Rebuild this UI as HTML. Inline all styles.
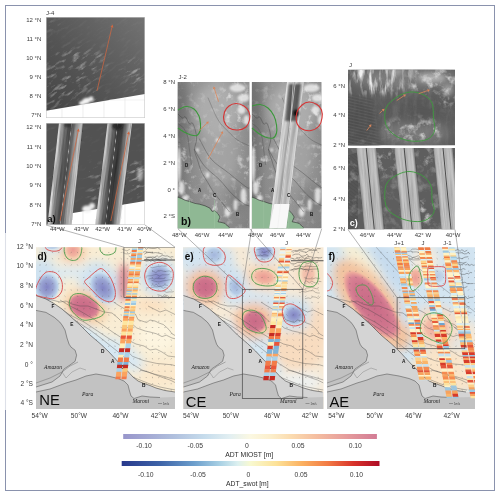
<!DOCTYPE html>
<html><head><meta charset="utf-8"><style>
html,body{margin:0;padding:0;background:#fff;overflow:hidden;}
svg{display:block;font-family:"Liberation Sans", sans-serif;will-change:transform;}
</style></head><body>
<svg width="500" height="497" viewBox="0 0 500 497">
<defs><filter id="clA" x="0" y="0" width="1" height="1" color-interpolation-filters="sRGB"><feTurbulence type="fractalNoise" baseFrequency="0.10 0.35" numOctaves="4" seed="5"/><feColorMatrix type="matrix" values="0 0 0 0 1  0 0 0 0 1  0 0 0 0 1  2.80 0 0 0 -1.40"/></filter>
<filter id="clA2" x="0" y="0" width="1" height="1" color-interpolation-filters="sRGB"><feTurbulence type="fractalNoise" baseFrequency="0.09 0.3" numOctaves="4" seed="8"/><feColorMatrix type="matrix" values="0 0 0 0 1  0 0 0 0 1  0 0 0 0 1  2.60 0 0 0 -1.40"/></filter>
<filter id="clB" x="0" y="0" width="1" height="1" color-interpolation-filters="sRGB"><feTurbulence type="fractalNoise" baseFrequency="0.16" numOctaves="4" seed="3"/><feColorMatrix type="matrix" values="0 0 0 0 1  0 0 0 0 1  0 0 0 0 1  2.60 0 0 0 -1.40"/></filter>
<filter id="clB2" x="0" y="0" width="1" height="1" color-interpolation-filters="sRGB"><feTurbulence type="fractalNoise" baseFrequency="0.08" numOctaves="4" seed="13"/><feColorMatrix type="matrix" values="0 0 0 0 1  0 0 0 0 1  0 0 0 0 1  2.00 0 0 0 -1.10"/></filter>
<filter id="clC" x="0" y="0" width="1" height="1" color-interpolation-filters="sRGB"><feTurbulence type="fractalNoise" baseFrequency="0.12" numOctaves="4" seed="21"/><feColorMatrix type="matrix" values="0 0 0 0 1  0 0 0 0 1  0 0 0 0 1  2.60 0 0 0 -1.25"/></filter>
<filter id="clCv" x="0" y="0" width="1" height="1" color-interpolation-filters="sRGB"><feTurbulence type="fractalNoise" baseFrequency="0.22 0.05" numOctaves="4" seed="17"/><feColorMatrix type="matrix" values="0 0 0 0 1  0 0 0 0 1  0 0 0 0 1  2.60 0 0 0 -1.15"/></filter>
<filter id="clDark" x="0" y="0" width="1" height="1" color-interpolation-filters="sRGB"><feTurbulence type="fractalNoise" baseFrequency="0.06" numOctaves="4" seed="4"/><feColorMatrix type="matrix" values="0 0 0 0 0  0 0 0 0 0  0 0 0 0 0  2.00 0 0 0 -1.00"/></filter>
<filter id="streak" x="0" y="0" width="1" height="1" color-interpolation-filters="sRGB"><feTurbulence type="fractalNoise" baseFrequency="0.9 0.03" numOctaves="2" seed="2"/><feColorMatrix type="matrix" values="0 0 0 0 0  0 0 0 0 0  0 0 0 0 0  1.2 0 0 0 -0.45"/></filter>
<filter id="streakW" x="0" y="0" width="1" height="1" color-interpolation-filters="sRGB"><feTurbulence type="fractalNoise" baseFrequency="0.9 0.03" numOctaves="2" seed="6"/><feColorMatrix type="matrix" values="0 0 0 0 1  0 0 0 0 1  0 0 0 0 1  1.2 0 0 0 -0.5"/></filter>
<filter id="b1s" x="-20%" y="-5%" width="140%" height="110%"><feGaussianBlur stdDeviation="0.35"/></filter>
<filter id="b1" x="-50%" y="-50%" width="200%" height="200%"><feGaussianBlur stdDeviation="0.8"/></filter>
<filter id="b2" x="-50%" y="-50%" width="200%" height="200%"><feGaussianBlur stdDeviation="1.5"/></filter>
<filter id="b3" x="-50%" y="-50%" width="200%" height="200%"><feGaussianBlur stdDeviation="2.5"/></filter>
<filter id="b4" x="-50%" y="-50%" width="200%" height="200%"><feGaussianBlur stdDeviation="3.5"/></filter>
<filter id="b6" x="-50%" y="-50%" width="200%" height="200%"><feGaussianBlur stdDeviation="5.0"/></filter>

<linearGradient id="cb1" x1="0" x2="1" y1="0" y2="0">
 <stop offset="0" stop-color="#9896cb"/><stop offset="0.1" stop-color="#a4aad4"/><stop offset="0.2" stop-color="#b0c0de"/><stop offset="0.32" stop-color="#c6dcec"/>
 <stop offset="0.42" stop-color="#e2eff2"/><stop offset="0.5" stop-color="#fbf8e2"/><stop offset="0.58" stop-color="#fcefcc"/><stop offset="0.66" stop-color="#fbdcb0"/>
 <stop offset="0.76" stop-color="#f5bea0"/><stop offset="0.88" stop-color="#e69c9c"/><stop offset="1" stop-color="#d27c95"/>
</linearGradient>
<linearGradient id="cb2" x1="0" x2="1" y1="0" y2="0">
 <stop offset="0" stop-color="#28398c"/><stop offset="0.15" stop-color="#3e64a8"/><stop offset="0.28" stop-color="#6c9ecc"/><stop offset="0.38" stop-color="#a8d0e4"/>
 <stop offset="0.45" stop-color="#dcf0f0"/><stop offset="0.5" stop-color="#f8f9d0"/><stop offset="0.6" stop-color="#fde298"/><stop offset="0.7" stop-color="#fbb060"/>
 <stop offset="0.8" stop-color="#f27a44"/><stop offset="0.9" stop-color="#d8322a"/><stop offset="1" stop-color="#ae0c26"/>
</linearGradient>
<linearGradient id="satA1" x1="0" y1="1" x2="1" y2="0">
 <stop offset="0" stop-color="#444"/><stop offset="0.45" stop-color="#555"/><stop offset="1" stop-color="#737373"/>
</linearGradient>
<linearGradient id="swathA" x1="0" x2="1" y1="0" y2="0">
 <stop offset="0" stop-color="#e2e2e2"/><stop offset="0.07" stop-color="#cfcfcf"/><stop offset="0.16" stop-color="#989898"/>
 <stop offset="0.3" stop-color="#6a6a6a"/><stop offset="0.45" stop-color="#565656"/><stop offset="0.515" stop-color="#5a5a5a"/><stop offset="0.53" stop-color="#a8a8a8"/><stop offset="0.545" stop-color="#5c5c5c"/>
 <stop offset="0.64" stop-color="#6e6e6e"/><stop offset="0.76" stop-color="#a4a4a4"/><stop offset="0.88" stop-color="#c0c0c0"/><stop offset="0.96" stop-color="#cdcdcd"/><stop offset="1" stop-color="#bcbcbc"/>
</linearGradient>
<linearGradient id="swathA2" x1="0" x2="1" y1="0" y2="0">
 <stop offset="0" stop-color="#d8d8d8"/><stop offset="0.07" stop-color="#c4c4c4"/><stop offset="0.18" stop-color="#8a8a8a"/>
 <stop offset="0.32" stop-color="#5a5a5a"/><stop offset="0.4" stop-color="#4e4e4e"/><stop offset="0.415" stop-color="#b8b8b8"/><stop offset="0.43" stop-color="#4a4a4a"/>
 <stop offset="0.55" stop-color="#3a3a3a"/><stop offset="0.66" stop-color="#4a4a4a"/><stop offset="0.8" stop-color="#8c8c8c"/><stop offset="0.92" stop-color="#c4c4c4"/><stop offset="1" stop-color="#d2d2d2"/>
</linearGradient>
<linearGradient id="satB" x1="0" x2="1" y1="0" y2="0">
 <stop offset="0" stop-color="#6e6e6e"/><stop offset="0.2" stop-color="#8a8a8a"/><stop offset="0.55" stop-color="#9a9a9a"/><stop offset="1" stop-color="#8a8a8a"/>
</linearGradient>
<linearGradient id="satBv" x1="0" x2="0" y1="0" y2="1">
 <stop offset="0" stop-color="#fff" stop-opacity="0.06"/><stop offset="0.5" stop-color="#fff" stop-opacity="0"/><stop offset="1" stop-color="#000" stop-opacity="0.08"/>
</linearGradient>
<linearGradient id="swathB" x1="0" x2="1" y1="0" y2="0">
 <stop offset="0" stop-color="#f0f0f0"/><stop offset="0.3" stop-color="#c4c4c4"/><stop offset="0.5" stop-color="#9c9c9c"/>
 <stop offset="0.56" stop-color="#d8d8d8"/><stop offset="0.75" stop-color="#b4b4b4"/><stop offset="1" stop-color="#e4e4e4"/>
</linearGradient>
<linearGradient id="swathC" x1="0" x2="1" y1="0" y2="0">
 <stop offset="0" stop-color="#9a9a9a"/><stop offset="0.12" stop-color="#cacaca"/><stop offset="0.45" stop-color="#bababa"/>
 <stop offset="0.5" stop-color="#505050"/><stop offset="0.55" stop-color="#bababa"/><stop offset="0.88" stop-color="#c6c6c6"/><stop offset="1" stop-color="#8e8e8e"/>
</linearGradient>
<radialGradient id="gBlue"><stop offset="0" stop-color="#8284c4"/><stop offset="0.5" stop-color="#9aa4d2"/><stop offset="0.82" stop-color="#bcd2ea"/><stop offset="1" stop-color="#d2e4f1" stop-opacity="0"/></radialGradient>
<radialGradient id="gBlueL"><stop offset="0" stop-color="#a4b6dc"/><stop offset="0.6" stop-color="#b6cce6"/><stop offset="1" stop-color="#d2e4f1" stop-opacity="0"/></radialGradient>
<radialGradient id="gRed"><stop offset="0" stop-color="#c96a87"/><stop offset="0.55" stop-color="#cf748c"/><stop offset="0.75" stop-color="#d88294"/><stop offset="0.88" stop-color="#eeaa9c"/><stop offset="1" stop-color="#f6d4ae" stop-opacity="0"/></radialGradient>
<radialGradient id="gPink"><stop offset="0" stop-color="#eb9c94"/><stop offset="0.6" stop-color="#f2b6a2"/><stop offset="1" stop-color="#f8dcb8" stop-opacity="0"/></radialGradient>

<clipPath id="cpa1"><rect x="46" y="17" width="99" height="101"/></clipPath>
<mask id="mA1" maskUnits="userSpaceOnUse" x="0" y="0" width="500" height="497"><rect x="40" y="10" width="110" height="115" fill="#1a1a1a"/><g filter="url(#b6)"><polygon points="44,62 70,48 100,50 108,60 85,92 60,108 44,110" fill="#fff"/><ellipse cx="135" cy="74" rx="12" ry="14" fill="#eee"/><ellipse cx="96" cy="96" rx="8" ry="5" fill="#fff"/><ellipse cx="52" cy="26" rx="8" ry="8" fill="#999"/></g></mask>
<clipPath id="cpa2"><rect x="46" y="123" width="99" height="102"/></clipPath>
<mask id="mA2" maskUnits="userSpaceOnUse" x="0" y="0" width="500" height="497"><rect x="40" y="120" width="110" height="110" fill="#111"/><g filter="url(#b4)" fill="#fff"><ellipse cx="138" cy="178" rx="9" ry="20"/><ellipse cx="95" cy="185" rx="8" ry="25" fill="#888"/><ellipse cx="52" cy="140" rx="5" ry="8" fill="#aaa"/></g></mask>
<clipPath id="cpbL"><rect x="177.5" y="82" width="72.2" height="146.5"/></clipPath>
<mask id="mBL" maskUnits="userSpaceOnUse" x="0" y="0" width="500" height="497"><rect x="177.5" y="82" width="72.2" height="147" fill="#555"/><g filter="url(#b6)" fill="#fff"><ellipse cx="235.5" cy="105" rx="14" ry="25"/><ellipse cx="185.5" cy="170" rx="8" ry="30"/><ellipse cx="217.5" cy="205" rx="14" ry="12"/><ellipse cx="245.5" cy="170" rx="6" ry="30"/></g></mask>
<clipPath id="cpbR"><rect x="251.7" y="82" width="70.0" height="146.5"/></clipPath>
<mask id="mBR" maskUnits="userSpaceOnUse" x="0" y="0" width="500" height="497"><rect x="251.7" y="82" width="70.0" height="147" fill="#555"/><g filter="url(#b6)" fill="#fff"><ellipse cx="309.7" cy="105" rx="14" ry="25"/><ellipse cx="259.7" cy="170" rx="8" ry="30"/><ellipse cx="291.7" cy="205" rx="14" ry="12"/><ellipse cx="319.7" cy="170" rx="6" ry="30"/></g></mask>
<clipPath id="cpbsw"><rect x="251.7" y="82" width="70" height="146.5"/></clipPath>
<clipPath id="cpc1"><rect x="348" y="69.5" width="107" height="76"/></clipPath>
<mask id="mC1" maskUnits="userSpaceOnUse" x="0" y="0" width="500" height="497"><rect x="348" y="69" width="108" height="78" fill="#111"/><g filter="url(#b3)" fill="#fff"><rect x="350" y="64" width="55" height="30"/><rect x="395" y="64" width="20" height="22" fill="#999"/></g></mask>
<mask id="mC1b" maskUnits="userSpaceOnUse" x="0" y="0" width="500" height="497"><rect x="348" y="69" width="108" height="78" fill="#111"/><g filter="url(#b4)" fill="#fff"><ellipse cx="432" cy="80" rx="25" ry="14"/><ellipse cx="448" cy="98" rx="8" ry="10"/><ellipse cx="414" cy="130" rx="30" ry="11"/><ellipse cx="365" cy="140" rx="14" ry="6" fill="#888"/></g></mask>
<mask id="mC2" maskUnits="userSpaceOnUse" x="0" y="0" width="500" height="497"><g filter="url(#b2)"><polygon points="346,94 372,99 381,150 346,150" fill="#fff"/></g></mask>
<clipPath id="cpc2"><rect x="348" y="148" width="107" height="81.5"/></clipPath>
<mask id="mC3" maskUnits="userSpaceOnUse" x="0" y="0" width="500" height="497"><rect x="348" y="148" width="108" height="82" fill="#444"/><g filter="url(#b4)" fill="#fff"><ellipse cx="386" cy="162" rx="9" ry="14"/><ellipse cx="424" cy="212" rx="9" ry="16"/><ellipse cx="428" cy="158" rx="8" ry="9"/><ellipse cx="352" cy="185" rx="4" ry="25" fill="#aaa"/></g></mask>
<clipPath id="cd"><rect x="36.0" y="247.2" width="139.0" height="161.8"/></clipPath>
<clipPath id="ce"><rect x="183.0" y="247.2" width="140.5" height="161.8"/></clipPath>
<clipPath id="cf"><rect x="327.0" y="247.2" width="148.0" height="161.8"/></clipPath></defs>
<rect x="0.0" y="0.0" width="500.0" height="497.0" fill="#fff" />
<g clip-path="url(#cpa1)">
<rect x="46.0" y="17.0" width="99.0" height="101.0" fill="url(#satA1)" />
<g mask="url(#mA1)"><g transform="rotate(-33 95 67)" opacity="0.45"><rect x="5" y="-30" width="180" height="200" filter="url(#clA)"/></g></g>
<polygon points="46.0,110.7 145.0,94.0 145.0,118.0 46.0,118.0" fill="#fff" />
<g filter="url(#b1)" fill="#f4f4f4"><ellipse cx="86.0" cy="101.0" rx="4.0" ry="3.0" transform="rotate(-20.0 86.0 101.0)" fill="#f4f4f4" /><ellipse cx="91.0" cy="99.0" rx="2.5" ry="2.5" transform="rotate(0.0 91.0 99.0)" fill="#eee" /><ellipse cx="82.0" cy="103.0" rx="3.0" ry="2.0" transform="rotate(0.0 82.0 103.0)" fill="#f4f4f4" /></g>
<line x1="62.0" y1="108.0" x2="62.0" y2="118.0" stroke="#e2e2e2" stroke-width="0.60" />
<line x1="83.0" y1="104.5" x2="83.0" y2="118.0" stroke="#e2e2e2" stroke-width="0.60" />
<line x1="104.0" y1="100.9" x2="104.0" y2="118.0" stroke="#e2e2e2" stroke-width="0.60" />
<line x1="125.0" y1="97.4" x2="125.0" y2="118.0" stroke="#e2e2e2" stroke-width="0.60" />
<line x1="109.4" y1="100.0" x2="145.0" y2="100.0" stroke="#e6e6e6" stroke-width="0.50" />
<rect x="46.3" y="17.3" width="98.4" height="100.4" fill="none" stroke="#c8c8c8" stroke-width="0.6"/>
</g>
<line x1="97.0" y1="90.8" x2="111.9" y2="27.3" stroke="#cf6741" stroke-width="0.75" /><polygon points="112.6,24.4 113.4,27.7 110.5,27.0" fill="#cf6741" />
<g clip-path="url(#cpa2)">
<rect x="46.0" y="123.0" width="99.0" height="102.0" fill="#525252" />
<g mask="url(#mA2)"><g transform="rotate(-25 95 175)" opacity="0.7"><rect x="20" y="100" width="150" height="150" filter="url(#clA2)"/></g></g>
<polygon points="70.0,213.5 145.0,201.0 145.0,226.0 70.0,226.0" fill="#fff" />
<g filter="url(#b1)"><ellipse cx="87.0" cy="209.0" rx="5.0" ry="3.5" transform="rotate(0.0 87.0 209.0)" fill="#f0f0f0" /><ellipse cx="92.0" cy="206.0" rx="3.0" ry="3.0" transform="rotate(0.0 92.0 206.0)" fill="#e8e8e8" /><ellipse cx="140.0" cy="175.0" rx="3.0" ry="6.0" transform="rotate(0.0 140.0 175.0)" fill="#d8d8d8" opacity="0.6"/></g>
<line x1="83.0" y1="211.3" x2="83.0" y2="225.0" stroke="#e2e2e2" stroke-width="0.60" />
<line x1="104.0" y1="207.8" x2="104.0" y2="225.0" stroke="#e2e2e2" stroke-width="0.60" />
<line x1="125.0" y1="204.3" x2="125.0" y2="225.0" stroke="#e2e2e2" stroke-width="0.60" />
<rect x="0" y="0" width="24.00" height="102.00" fill="url(#swathA)" transform="translate(59.00 123.00) skewX(-6.447)" />
<g transform="translate(59.00 123.00) skewX(-6.447)"><rect x="0" y="0" width="24.0" height="102" filter="url(#streak)" opacity="0.45"/></g>
<rect x="0" y="0" width="24.50" height="102.00" fill="url(#swathA2)" transform="translate(107.50 123.00) skewX(-6.843)" />
<g transform="translate(107.50 123.00) skewX(-6.843)"><rect x="0" y="0" width="24.5" height="102" filter="url(#streak)" opacity="0.45"/></g>
<g filter="url(#b1)"><ellipse cx="117.0" cy="126.0" rx="5.0" ry="3.5" transform="rotate(0.0 117.0 126.0)" fill="#1e1e1e" opacity="0.8"/><ellipse cx="68.0" cy="125.0" rx="4.0" ry="2.5" transform="rotate(0.0 68.0 125.0)" fill="#2a2a2a" opacity="0.7"/></g>
<rect x="46.3" y="123.3" width="98.4" height="101.4" fill="none" stroke="#c8c8c8" stroke-width="0.6"/>
</g>
<line x1="60.0" y1="221.0" x2="78.1" y2="131.5" stroke="#cf6741" stroke-width="0.75" /><polygon points="78.7,128.6 79.6,131.8 76.6,131.2" fill="#cf6741" />
<line x1="110.8" y1="221.0" x2="128.4" y2="134.2" stroke="#cf6741" stroke-width="0.75" /><polygon points="129.0,131.3 129.9,134.5 126.9,133.9" fill="#cf6741" />
<text x="47.3" y="222.3" font-size="9.5" text-anchor="start" fill="#0a0a0a" font-weight="bold" >a)</text>
<g clip-path="url(#cpbL)">
<rect x="177.5" y="82.0" width="72.2" height="146.5" fill="url(#satB)" />
<rect x="177.5" y="82.0" width="72.2" height="146.5" fill="url(#satBv)" />
<g filter="url(#b6)"><ellipse cx="219.5" cy="150.0" rx="20.0" ry="35.0" transform="rotate(0.0 219.5 150.0)" fill="#a8a8a8" opacity="0.7"/><ellipse cx="217.5" cy="110.0" rx="24.0" ry="26.0" transform="rotate(0.0 217.5 110.0)" fill="#b2b2b2" opacity="0.8"/><ellipse cx="239.5" cy="200.0" rx="12.0" ry="14.0" transform="rotate(0.0 239.5 200.0)" fill="#7c7c7c" opacity="0.6"/><ellipse cx="181.5" cy="110.0" rx="6.0" ry="30.0" transform="rotate(0.0 181.5 110.0)" fill="#6a6a6a" opacity="0.6"/></g>
<g mask="url(#mBL)"><rect x="177.5" y="82" width="72.2" height="146.5" filter="url(#clB)" opacity="0.8"/></g>
<g filter="url(#b1)" fill="#ececec" opacity="0.85">
<ellipse cx="179.0" cy="165.0" rx="2.0" ry="18.0"/>
<ellipse cx="181.5" cy="188.0" rx="3.0" ry="7.0"/>
<ellipse cx="185.5" cy="198.0" rx="3.0" ry="3.0"/>
<ellipse cx="237.5" cy="88.0" rx="8.0" ry="4.0"/>
<ellipse cx="243.5" cy="98.0" rx="6.0" ry="4.0"/>
<ellipse cx="241.5" cy="110.0" rx="4.0" ry="4.0"/>
<ellipse cx="246.5" cy="120.0" rx="3.0" ry="5.0"/>
<ellipse cx="227.5" cy="212.0" rx="3.0" ry="5.0"/>
<ellipse cx="235.5" cy="205.0" rx="2.0" ry="6.0"/>
<ellipse cx="243.5" cy="196.0" rx="3.0" ry="8.0"/>
<ellipse cx="217.5" cy="140.0" rx="2.0" ry="2.0"/>
<ellipse cx="207.5" cy="175.0" rx="2.0" ry="3.0"/>
<ellipse cx="197.5" cy="150.0" rx="1.5" ry="2.0"/>
</g>
<path d="M194.0,149.0 C195.8,151.8 200.2,160.9 204.5,166.0 C208.8,171.1 215.0,175.1 219.5,179.7 C224.0,184.3 227.5,189.4 231.5,193.4 C235.5,197.4 240.5,201.5 243.5,203.6 C246.5,205.7 248.5,205.6 249.5,206.0 " fill="none" stroke="#333" stroke-width="0.45" opacity="0.75"/>
<path d="M199.3,138.7 C201.3,142.1 206.4,153.5 211.3,159.2 C216.2,164.9 222.8,168.3 228.5,172.9 C234.2,177.5 242.0,184.0 245.5,186.5 C249.0,189.0 248.8,187.8 249.5,188.0 " fill="none" stroke="#333" stroke-width="0.45" opacity="0.75"/>
<path d="M207.9,97.6 C209.6,101.3 214.6,114.1 218.0,119.8 C221.4,125.5 225.2,128.4 228.5,131.8 C231.8,135.2 234.0,137.6 237.5,140.0 C241.0,142.4 247.5,145.0 249.5,146.0 " fill="none" stroke="#333" stroke-width="0.45" opacity="0.6"/>
<path d="M178.0,114.0 C178.8,114.7 181.2,117.5 182.5,118.0 C183.8,118.5 184.3,116.0 185.5,117.0 C186.7,118.0 188.3,123.0 189.5,124.0 C190.7,125.0 191.5,121.8 192.5,123.0 C193.5,124.2 194.8,128.2 195.5,131.0 C196.2,133.8 196.7,136.8 196.5,140.0 C196.3,143.2 194.3,146.7 194.5,150.0 C194.7,153.3 196.3,156.3 197.5,160.0 C198.7,163.7 199.8,168.3 201.5,172.0 C203.2,175.7 205.5,178.7 207.5,182.0 C209.5,185.3 211.2,188.7 213.5,192.0 C215.8,195.3 218.8,198.7 221.5,202.0 C224.2,205.3 228.2,210.3 229.5,212.0 " fill="none" stroke="#333" stroke-width="0.45" opacity="0.75"/>
<path d="M178.5,124.0 C179.3,124.7 182.0,126.0 183.5,128.0 C185.0,130.0 186.5,132.3 187.5,136.0 C188.5,139.7 188.8,145.2 189.5,150.0 C190.2,154.8 191.2,162.5 191.5,165.0 " fill="none" stroke="#333" stroke-width="0.40" opacity="0.6"/>
<polygon points="177.5,197.0 181.5,198.5 185.0,200.2 189.5,201.5 195.0,203.4 199.5,204.2 205.0,205.8 210.0,208.2 212.0,211.4 215.0,210.6 218.0,213.8 220.0,217.0 218.0,221.8 222.0,222.6 225.0,223.4 227.5,226.0 229.5,227.5 229.5,229.0 177.5,229.0" fill="#8fb894" />
<polyline points="177.5,197.0 181.5,198.5 185.0,200.2 189.5,201.5 195.0,203.4 199.5,204.2 205.0,205.8 210.0,208.2 212.0,211.4 215.0,210.6 218.0,213.8 220.0,217.0 218.0,221.8 222.0,222.6 225.0,223.4 227.5,226.0 229.5,227.5" fill="none" stroke="#2a2a2a" stroke-width="0.70" opacity="0.8"/>
<line x1="189.5" y1="200.0" x2="189.5" y2="229.0" stroke="#9fc4a2" stroke-width="0.50" />
<line x1="214.5" y1="200.0" x2="214.5" y2="229.0" stroke="#9fc4a2" stroke-width="0.50" />
</g>
<path d="M178.0,110.0 C179.3,109.4 183.3,106.7 186.0,106.5 C188.7,106.3 191.8,107.4 194.0,109.0 C196.2,110.6 197.9,113.5 199.0,116.0 C200.1,118.5 200.3,121.5 200.5,124.0 C200.7,126.5 200.6,129.1 200.0,131.0 C199.4,132.9 198.5,134.8 197.0,135.5 C195.5,136.2 193.2,135.6 191.0,135.0 C188.8,134.4 186.2,133.2 184.0,132.0 C181.8,130.8 179.0,128.7 178.0,128.0 " fill="none" stroke="#3a983a" stroke-width="1.10" />
<path d="M236.0,103.5 C238.5,103.5 241.8,104.6 244.0,106.0 C246.2,107.4 248.1,109.7 249.0,112.0 C249.9,114.3 250.0,117.5 249.5,120.0 C249.0,122.5 247.9,125.3 246.0,127.0 C244.1,128.7 240.8,129.8 238.0,130.0 C235.2,130.2 231.3,129.5 229.0,128.0 C226.7,126.5 224.8,123.7 224.0,121.0 C223.2,118.3 223.7,114.5 224.5,112.0 C225.3,109.5 227.1,107.4 229.0,106.0 C230.9,104.6 233.5,103.5 236.0,103.5 Z" fill="none" stroke="#d63434" stroke-width="1.10" />
<line x1="218.5" y1="101.7" x2="214.4" y2="88.8" stroke="#d9855a" stroke-width="0.80" /><polygon points="213.6,86.4 215.8,88.3 212.9,89.2" fill="#d9855a" />
<line x1="199.0" y1="130.7" x2="207.0" y2="123.2" stroke="#d9855a" stroke-width="0.80" /><polygon points="208.8,121.5 208.0,124.3 206.0,122.1" fill="#d9855a" />
<line x1="208.0" y1="159.0" x2="221.8" y2="133.4" stroke="#d9855a" stroke-width="0.80" /><polygon points="223.0,131.2 223.1,134.1 220.5,132.7" fill="#d9855a" />
<text x="185.0" y="167.0" font-size="4.5" text-anchor="start" fill="#111" font-weight="bold" >D</text>
<text x="198.0" y="192.0" font-size="4.5" text-anchor="start" fill="#111" font-weight="bold" >A</text>
<text x="213.0" y="197.0" font-size="4.5" text-anchor="start" fill="#111" font-weight="bold" >C</text>
<text x="236.0" y="216.0" font-size="4.5" text-anchor="start" fill="#111" font-weight="bold" >B</text>
<text x="181.0" y="225.0" font-size="10.5" text-anchor="start" fill="#0a0a0a" font-weight="bold" >b)</text>
<g clip-path="url(#cpbR)">
<rect x="251.7" y="82.0" width="70.0" height="146.5" fill="url(#satB)" />
<rect x="251.7" y="82.0" width="70.0" height="146.5" fill="url(#satBv)" />
<g filter="url(#b6)"><ellipse cx="293.7" cy="150.0" rx="20.0" ry="35.0" transform="rotate(0.0 293.7 150.0)" fill="#a8a8a8" opacity="0.7"/><ellipse cx="291.7" cy="110.0" rx="24.0" ry="26.0" transform="rotate(0.0 291.7 110.0)" fill="#b2b2b2" opacity="0.8"/><ellipse cx="313.7" cy="200.0" rx="12.0" ry="14.0" transform="rotate(0.0 313.7 200.0)" fill="#7c7c7c" opacity="0.6"/><ellipse cx="255.7" cy="110.0" rx="6.0" ry="30.0" transform="rotate(0.0 255.7 110.0)" fill="#6a6a6a" opacity="0.6"/></g>
<g mask="url(#mBR)"><rect x="251.7" y="82" width="70.0" height="146.5" filter="url(#clB)" opacity="0.8"/></g>
<g filter="url(#b1)" fill="#ececec" opacity="0.85">
<ellipse cx="253.2" cy="165.0" rx="2.0" ry="18.0"/>
<ellipse cx="255.7" cy="188.0" rx="3.0" ry="7.0"/>
<ellipse cx="259.7" cy="198.0" rx="3.0" ry="3.0"/>
<ellipse cx="311.7" cy="88.0" rx="8.0" ry="4.0"/>
<ellipse cx="317.7" cy="98.0" rx="6.0" ry="4.0"/>
<ellipse cx="315.7" cy="110.0" rx="4.0" ry="4.0"/>
<ellipse cx="320.7" cy="120.0" rx="3.0" ry="5.0"/>
<ellipse cx="301.7" cy="212.0" rx="3.0" ry="5.0"/>
<ellipse cx="309.7" cy="205.0" rx="2.0" ry="6.0"/>
<ellipse cx="317.7" cy="196.0" rx="3.0" ry="8.0"/>
<ellipse cx="291.7" cy="140.0" rx="2.0" ry="2.0"/>
<ellipse cx="281.7" cy="175.0" rx="2.0" ry="3.0"/>
<ellipse cx="271.7" cy="150.0" rx="1.5" ry="2.0"/>
</g>
<path d="M268.2,149.0 C269.9,151.8 274.4,160.9 278.7,166.0 C282.9,171.1 289.2,175.1 293.7,179.7 C298.2,184.3 301.7,189.4 305.7,193.4 C309.7,197.4 314.7,201.5 317.7,203.6 C320.7,205.7 322.7,205.6 323.7,206.0 " fill="none" stroke="#333" stroke-width="0.45" opacity="0.75"/>
<path d="M273.5,138.7 C275.5,142.1 280.6,153.5 285.5,159.2 C290.4,164.9 297.0,168.3 302.7,172.9 C308.4,177.5 316.2,184.0 319.7,186.5 C323.2,189.0 323.0,187.8 323.7,188.0 " fill="none" stroke="#333" stroke-width="0.45" opacity="0.75"/>
<path d="M282.1,97.6 C283.8,101.3 288.8,114.1 292.2,119.8 C295.6,125.5 299.4,128.4 302.7,131.8 C305.9,135.2 308.2,137.6 311.7,140.0 C315.2,142.4 321.7,145.0 323.7,146.0 " fill="none" stroke="#333" stroke-width="0.45" opacity="0.6"/>
<path d="M252.2,114.0 C252.9,114.7 255.4,117.5 256.7,118.0 C257.9,118.5 258.5,116.0 259.7,117.0 C260.9,118.0 262.5,123.0 263.7,124.0 C264.9,125.0 265.7,121.8 266.7,123.0 C267.7,124.2 269.0,128.2 269.7,131.0 C270.4,133.8 270.9,136.8 270.7,140.0 C270.5,143.2 268.5,146.7 268.7,150.0 C268.9,153.3 270.5,156.3 271.7,160.0 C272.9,163.7 274.0,168.3 275.7,172.0 C277.4,175.7 279.7,178.7 281.7,182.0 C283.7,185.3 285.4,188.7 287.7,192.0 C290.0,195.3 293.0,198.7 295.7,202.0 C298.4,205.3 302.4,210.3 303.7,212.0 " fill="none" stroke="#333" stroke-width="0.45" opacity="0.75"/>
<path d="M252.7,124.0 C253.5,124.7 256.2,126.0 257.7,128.0 C259.2,130.0 260.7,132.3 261.7,136.0 C262.7,139.7 263.0,145.2 263.7,150.0 C264.4,154.8 265.4,162.5 265.7,165.0 " fill="none" stroke="#333" stroke-width="0.40" opacity="0.6"/>
<polygon points="251.7,197.0 255.7,198.5 259.2,200.2 263.7,201.5 269.2,203.4 273.7,204.2 279.2,205.8 284.2,208.2 286.2,211.4 289.2,210.6 292.2,213.8 294.2,217.0 292.2,221.8 296.2,222.6 299.2,223.4 301.7,226.0 303.7,227.5 303.7,229.0 251.7,229.0" fill="#8fb894" />
<polyline points="251.7,197.0 255.7,198.5 259.2,200.2 263.7,201.5 269.2,203.4 273.7,204.2 279.2,205.8 284.2,208.2 286.2,211.4 289.2,210.6 292.2,213.8 294.2,217.0 292.2,221.8 296.2,222.6 299.2,223.4 301.7,226.0 303.7,227.5" fill="none" stroke="#2a2a2a" stroke-width="0.70" opacity="0.8"/>
<line x1="263.7" y1="200.0" x2="263.7" y2="229.0" stroke="#9fc4a2" stroke-width="0.50" />
<line x1="288.7" y1="200.0" x2="288.7" y2="229.0" stroke="#9fc4a2" stroke-width="0.50" />
</g>
<g clip-path="url(#cpbsw)">
<rect x="0" y="0" width="16.80" height="146.50" fill="url(#swathB)" transform="translate(287.00 82.00) skewX(-6.899)" />
<g transform="translate(287.00 82.00) skewX(-6.899)"><rect x="0" y="0" width="16.8" height="146.5" filter="url(#streak)" opacity="0.25"/></g>
<g filter="url(#b1)"><polygon points="289.0,84.0 301.0,84.0 297.0,121.0 285.0,121.0" fill="#3a3a3a" opacity="0.75"/><ellipse cx="296.0" cy="113.0" rx="3.0" ry="3.5" transform="rotate(0.0 296.0 113.0)" fill="#111" /></g>
<line x1="293.3" y1="82.0" x2="290.0" y2="128.0" stroke="#dddddd" stroke-width="0.70" />
<polygon points="274.3,204.0 289.6,204.0 286.2,228.5 269.3,228.5" fill="#f8f8f8" />
<line x1="295.3" y1="82.0" x2="277.6" y2="228.5" stroke="#eeeeee" stroke-width="0.60" />
</g>
<path d="M252.0,106.0 C253.3,105.8 257.3,104.2 260.0,104.5 C262.7,104.8 265.7,106.1 268.0,108.0 C270.3,109.9 272.6,113.2 274.0,116.0 C275.4,118.8 276.1,122.2 276.5,125.0 C276.9,127.8 277.1,130.8 276.5,133.0 C275.9,135.2 274.9,137.3 273.0,138.0 C271.1,138.7 267.5,137.8 265.0,137.0 C262.5,136.2 260.2,134.5 258.0,133.0 C255.8,131.5 253.0,128.8 252.0,128.0 " fill="none" stroke="#3a983a" stroke-width="1.10" />
<path d="M309.0,102.0 C311.5,101.9 314.9,103.2 317.0,104.5 C319.1,105.8 320.7,107.8 321.5,110.0 C322.3,112.2 322.4,115.3 322.0,118.0 C321.6,120.7 320.8,123.9 319.0,126.0 C317.2,128.1 313.8,130.0 311.0,130.5 C308.2,131.0 304.4,130.4 302.0,129.0 C299.6,127.6 297.3,124.8 296.5,122.0 C295.7,119.2 296.1,114.8 297.0,112.0 C297.9,109.2 300.0,106.7 302.0,105.0 C304.0,103.3 306.5,102.1 309.0,102.0 Z" fill="none" stroke="#d63434" stroke-width="1.10" />
<text x="259.0" y="167.0" font-size="4.5" text-anchor="start" fill="#111" font-weight="bold" >D</text>
<text x="271.0" y="192.0" font-size="4.5" text-anchor="start" fill="#111" font-weight="bold" >A</text>
<text x="287.0" y="197.0" font-size="4.5" text-anchor="start" fill="#111" font-weight="bold" >C</text>
<text x="310.0" y="216.0" font-size="4.5" text-anchor="start" fill="#111" font-weight="bold" >B</text>
<g clip-path="url(#cpc1)">
<rect x="348.0" y="69.5" width="107.0" height="76.0" fill="#5c5c5c" />
<g filter="url(#b6)"><ellipse cx="405.0" cy="78.0" rx="55.0" ry="12.0" transform="rotate(0.0 405.0 78.0)" fill="#7a7a7a" /><ellipse cx="415.0" cy="133.0" rx="35.0" ry="12.0" transform="rotate(0.0 415.0 133.0)" fill="#767676" /><ellipse cx="420.0" cy="112.0" rx="22.0" ry="12.0" transform="rotate(0.0 420.0 112.0)" fill="#565656" /><ellipse cx="360.0" cy="125.0" rx="16.0" ry="25.0" transform="rotate(0.0 360.0 125.0)" fill="#4e4e4e" /></g>
<g mask="url(#mC1)"><rect x="348" y="69.5" width="107" height="76" filter="url(#clCv)" opacity="0.9"/></g>
<g mask="url(#mC1b)"><rect x="348" y="69.5" width="107" height="76" filter="url(#clC)" opacity="0.85"/></g>
<g filter="url(#b3)" opacity="0.55"><ellipse cx="432.0" cy="78.0" rx="14.0" ry="5.0" transform="rotate(0.0 432.0 78.0)" fill="#d8d8d8" /><ellipse cx="448.0" cy="90.0" rx="5.0" ry="6.0" transform="rotate(0.0 448.0 90.0)" fill="#d0d0d0" /><ellipse cx="395.0" cy="72.0" rx="8.0" ry="3.0" transform="rotate(0.0 395.0 72.0)" fill="#cfcfcf" /></g>
<g mask="url(#mC2)">
<rect x="346.0" y="90.0" width="40.0" height="60.0" fill="#3e3e3e" opacity="0.5"/>
<line x1="348.0" y1="74.5" x2="392.0" y2="69.5" stroke="#9a9a9a" stroke-width="0.50" opacity="0.5"/>
<line x1="348.0" y1="76.0" x2="392.0" y2="71.0" stroke="#9a9a9a" stroke-width="0.50" opacity="0.5"/>
<line x1="348.0" y1="77.5" x2="392.0" y2="72.5" stroke="#9a9a9a" stroke-width="0.50" opacity="0.5"/>
<line x1="348.0" y1="79.0" x2="392.0" y2="74.0" stroke="#9a9a9a" stroke-width="0.50" opacity="0.5"/>
<line x1="348.0" y1="80.5" x2="392.0" y2="75.5" stroke="#9a9a9a" stroke-width="0.50" opacity="0.5"/>
<line x1="348.0" y1="82.0" x2="392.0" y2="77.0" stroke="#9a9a9a" stroke-width="0.50" opacity="0.5"/>
<line x1="348.0" y1="83.5" x2="392.0" y2="78.5" stroke="#9a9a9a" stroke-width="0.50" opacity="0.5"/>
<line x1="348.0" y1="85.0" x2="392.0" y2="80.0" stroke="#9a9a9a" stroke-width="0.50" opacity="0.5"/>
<line x1="348.0" y1="86.5" x2="392.0" y2="81.5" stroke="#9a9a9a" stroke-width="0.50" opacity="0.5"/>
<line x1="348.0" y1="88.0" x2="392.0" y2="83.0" stroke="#9a9a9a" stroke-width="0.50" opacity="0.5"/>
<line x1="348.0" y1="89.5" x2="392.0" y2="84.5" stroke="#9a9a9a" stroke-width="0.50" opacity="0.5"/>
<line x1="348.0" y1="91.0" x2="392.0" y2="86.0" stroke="#9a9a9a" stroke-width="0.50" opacity="0.5"/>
<line x1="348.0" y1="92.5" x2="392.0" y2="87.5" stroke="#9a9a9a" stroke-width="0.50" opacity="0.5"/>
<line x1="348.0" y1="94.0" x2="392.0" y2="89.0" stroke="#9a9a9a" stroke-width="0.50" opacity="0.5"/>
<line x1="348.0" y1="95.5" x2="392.0" y2="90.5" stroke="#9a9a9a" stroke-width="0.50" opacity="0.5"/>
<line x1="348.0" y1="97.0" x2="392.0" y2="92.0" stroke="#9a9a9a" stroke-width="0.50" opacity="0.5"/>
<line x1="348.0" y1="98.5" x2="392.0" y2="93.5" stroke="#9a9a9a" stroke-width="0.50" opacity="0.5"/>
<line x1="348.0" y1="100.0" x2="392.0" y2="95.0" stroke="#9a9a9a" stroke-width="0.50" opacity="0.5"/>
<line x1="348.0" y1="101.5" x2="392.0" y2="96.5" stroke="#9a9a9a" stroke-width="0.50" opacity="0.5"/>
<line x1="348.0" y1="103.0" x2="392.0" y2="98.0" stroke="#9a9a9a" stroke-width="0.50" opacity="0.5"/>
<line x1="348.0" y1="104.5" x2="392.0" y2="99.5" stroke="#9a9a9a" stroke-width="0.50" opacity="0.5"/>
<line x1="348.0" y1="106.0" x2="392.0" y2="101.0" stroke="#9a9a9a" stroke-width="0.50" opacity="0.5"/>
<line x1="348.0" y1="107.5" x2="392.0" y2="102.5" stroke="#9a9a9a" stroke-width="0.50" opacity="0.5"/>
<line x1="348.0" y1="109.0" x2="392.0" y2="104.0" stroke="#9a9a9a" stroke-width="0.50" opacity="0.5"/>
<line x1="348.0" y1="110.5" x2="392.0" y2="105.5" stroke="#9a9a9a" stroke-width="0.50" opacity="0.5"/>
<line x1="348.0" y1="112.0" x2="392.0" y2="107.0" stroke="#9a9a9a" stroke-width="0.50" opacity="0.5"/>
<line x1="348.0" y1="113.5" x2="392.0" y2="108.5" stroke="#9a9a9a" stroke-width="0.50" opacity="0.5"/>
<line x1="348.0" y1="115.0" x2="392.0" y2="110.0" stroke="#9a9a9a" stroke-width="0.50" opacity="0.5"/>
<line x1="348.0" y1="116.5" x2="392.0" y2="111.5" stroke="#9a9a9a" stroke-width="0.50" opacity="0.5"/>
<line x1="348.0" y1="118.0" x2="392.0" y2="113.0" stroke="#9a9a9a" stroke-width="0.50" opacity="0.5"/>
<line x1="348.0" y1="119.5" x2="392.0" y2="114.5" stroke="#9a9a9a" stroke-width="0.50" opacity="0.5"/>
<line x1="348.0" y1="121.0" x2="392.0" y2="116.0" stroke="#9a9a9a" stroke-width="0.50" opacity="0.5"/>
<line x1="348.0" y1="122.5" x2="392.0" y2="117.5" stroke="#9a9a9a" stroke-width="0.50" opacity="0.5"/>
<line x1="348.0" y1="124.0" x2="392.0" y2="119.0" stroke="#9a9a9a" stroke-width="0.50" opacity="0.5"/>
<line x1="348.0" y1="125.5" x2="392.0" y2="120.5" stroke="#9a9a9a" stroke-width="0.50" opacity="0.5"/>
<line x1="348.0" y1="127.0" x2="392.0" y2="122.0" stroke="#9a9a9a" stroke-width="0.50" opacity="0.5"/>
<line x1="348.0" y1="128.5" x2="392.0" y2="123.5" stroke="#9a9a9a" stroke-width="0.50" opacity="0.5"/>
<line x1="348.0" y1="130.0" x2="392.0" y2="125.0" stroke="#9a9a9a" stroke-width="0.50" opacity="0.5"/>
<line x1="348.0" y1="131.5" x2="392.0" y2="126.5" stroke="#9a9a9a" stroke-width="0.50" opacity="0.5"/>
<line x1="348.0" y1="133.0" x2="392.0" y2="128.0" stroke="#9a9a9a" stroke-width="0.50" opacity="0.5"/>
<line x1="348.0" y1="134.5" x2="392.0" y2="129.5" stroke="#9a9a9a" stroke-width="0.50" opacity="0.5"/>
<line x1="348.0" y1="136.0" x2="392.0" y2="131.0" stroke="#9a9a9a" stroke-width="0.50" opacity="0.5"/>
<line x1="348.0" y1="137.5" x2="392.0" y2="132.5" stroke="#9a9a9a" stroke-width="0.50" opacity="0.5"/>
<line x1="348.0" y1="139.0" x2="392.0" y2="134.0" stroke="#9a9a9a" stroke-width="0.50" opacity="0.5"/>
<line x1="348.0" y1="140.5" x2="392.0" y2="135.5" stroke="#9a9a9a" stroke-width="0.50" opacity="0.5"/>
<line x1="348.0" y1="142.0" x2="392.0" y2="137.0" stroke="#9a9a9a" stroke-width="0.50" opacity="0.5"/>
<line x1="348.0" y1="143.5" x2="392.0" y2="138.5" stroke="#9a9a9a" stroke-width="0.50" opacity="0.5"/>
<line x1="348.0" y1="145.0" x2="392.0" y2="140.0" stroke="#9a9a9a" stroke-width="0.50" opacity="0.5"/>
<line x1="348.0" y1="146.5" x2="392.0" y2="141.5" stroke="#9a9a9a" stroke-width="0.50" opacity="0.5"/>
<line x1="348.0" y1="148.0" x2="392.0" y2="143.0" stroke="#9a9a9a" stroke-width="0.50" opacity="0.5"/>
<line x1="348.0" y1="149.5" x2="392.0" y2="144.5" stroke="#9a9a9a" stroke-width="0.50" opacity="0.5"/>
<line x1="348.0" y1="151.0" x2="392.0" y2="146.0" stroke="#9a9a9a" stroke-width="0.50" opacity="0.5"/>
<line x1="348.0" y1="152.5" x2="392.0" y2="147.5" stroke="#9a9a9a" stroke-width="0.50" opacity="0.5"/>
<line x1="348.0" y1="154.0" x2="392.0" y2="149.0" stroke="#9a9a9a" stroke-width="0.50" opacity="0.5"/>
<line x1="348.0" y1="155.5" x2="392.0" y2="150.5" stroke="#9a9a9a" stroke-width="0.50" opacity="0.5"/>
<line x1="348.0" y1="157.0" x2="392.0" y2="152.0" stroke="#9a9a9a" stroke-width="0.50" opacity="0.5"/>
</g>
</g>
</g>
<path d="M386.0,108.0 C387.8,103.3 393.0,99.7 397.0,97.0 C401.0,94.3 405.7,92.4 410.0,92.0 C414.3,91.6 419.3,92.7 423.0,94.5 C426.7,96.3 430.2,99.1 432.0,103.0 C433.8,106.9 433.1,113.3 433.5,118.0 C433.9,122.7 435.6,127.4 434.5,131.0 C433.4,134.6 430.9,137.8 427.0,139.5 C423.1,141.2 416.2,141.6 411.0,141.0 C405.8,140.4 400.2,138.7 396.0,136.0 C391.8,133.3 387.7,129.7 386.0,125.0 C384.3,120.3 384.2,112.7 386.0,108.0 Z" fill="none" stroke="#3d9b3d" stroke-width="0.90" />
<line x1="366.8" y1="130.5" x2="369.9" y2="126.3" stroke="#d9855a" stroke-width="0.80" /><polygon points="371.4,124.3 371.1,127.2 368.7,125.4" fill="#d9855a" />
<line x1="379.5" y1="113.3" x2="382.7" y2="110.4" stroke="#d9855a" stroke-width="0.80" /><polygon points="384.6,108.7 383.7,111.5 381.7,109.3" fill="#d9855a" />
<line x1="396.7" y1="100.6" x2="403.9" y2="95.8" stroke="#d9855a" stroke-width="0.80" /><polygon points="406.0,94.4 404.8,97.0 403.1,94.5" fill="#d9855a" />
<line x1="418.6" y1="93.7" x2="427.6" y2="90.6" stroke="#d9855a" stroke-width="0.80" /><polygon points="430.0,89.8 428.1,92.0 427.1,89.2" fill="#d9855a" />
<g clip-path="url(#cpc2)">
<rect x="348.0" y="148.0" width="107.0" height="81.5" fill="#5e5e5e" />
<g mask="url(#mC3)"><rect x="348" y="148" width="107" height="81.5" filter="url(#clC)" opacity="0.85"/></g>
<g opacity="0.4">
<line x1="348.0" y1="156.0" x2="358.0" y2="153.0" stroke="#1c1c1c" stroke-width="0.50" />
<line x1="348.0" y1="157.4" x2="358.0" y2="154.4" stroke="#1c1c1c" stroke-width="0.50" />
<line x1="348.0" y1="158.8" x2="358.0" y2="155.8" stroke="#1c1c1c" stroke-width="0.50" />
<line x1="348.0" y1="160.2" x2="358.0" y2="157.2" stroke="#1c1c1c" stroke-width="0.50" />
<line x1="348.0" y1="161.6" x2="358.0" y2="158.6" stroke="#1c1c1c" stroke-width="0.50" />
<line x1="348.0" y1="163.0" x2="358.0" y2="160.0" stroke="#1c1c1c" stroke-width="0.50" />
<line x1="348.0" y1="164.4" x2="358.0" y2="161.4" stroke="#1c1c1c" stroke-width="0.50" />
<line x1="348.0" y1="165.8" x2="358.0" y2="162.8" stroke="#1c1c1c" stroke-width="0.50" />
<line x1="348.0" y1="167.2" x2="358.0" y2="164.2" stroke="#1c1c1c" stroke-width="0.50" />
<line x1="348.0" y1="168.6" x2="358.0" y2="165.6" stroke="#1c1c1c" stroke-width="0.50" />
<line x1="348.0" y1="170.0" x2="358.0" y2="167.0" stroke="#1c1c1c" stroke-width="0.50" />
<line x1="348.0" y1="171.4" x2="358.0" y2="168.4" stroke="#1c1c1c" stroke-width="0.50" />
<line x1="348.0" y1="172.8" x2="358.0" y2="169.8" stroke="#1c1c1c" stroke-width="0.50" />
<line x1="348.0" y1="174.2" x2="358.0" y2="171.2" stroke="#1c1c1c" stroke-width="0.50" />
<line x1="348.0" y1="175.6" x2="358.0" y2="172.6" stroke="#1c1c1c" stroke-width="0.50" />
<line x1="348.0" y1="177.0" x2="358.0" y2="174.0" stroke="#1c1c1c" stroke-width="0.50" />
<line x1="348.0" y1="178.4" x2="358.0" y2="175.4" stroke="#1c1c1c" stroke-width="0.50" />
<line x1="348.0" y1="179.8" x2="358.0" y2="176.8" stroke="#1c1c1c" stroke-width="0.50" />
<line x1="348.0" y1="181.2" x2="358.0" y2="178.2" stroke="#1c1c1c" stroke-width="0.50" />
<line x1="348.0" y1="182.6" x2="358.0" y2="179.6" stroke="#1c1c1c" stroke-width="0.50" />
<line x1="348.0" y1="184.0" x2="358.0" y2="181.0" stroke="#1c1c1c" stroke-width="0.50" />
<line x1="348.0" y1="185.4" x2="358.0" y2="182.4" stroke="#1c1c1c" stroke-width="0.50" />
<line x1="348.0" y1="186.8" x2="358.0" y2="183.8" stroke="#1c1c1c" stroke-width="0.50" />
<line x1="348.0" y1="188.2" x2="358.0" y2="185.2" stroke="#1c1c1c" stroke-width="0.50" />
<line x1="348.0" y1="189.6" x2="358.0" y2="186.6" stroke="#1c1c1c" stroke-width="0.50" />
<line x1="348.0" y1="191.0" x2="358.0" y2="188.0" stroke="#1c1c1c" stroke-width="0.50" />
<line x1="348.0" y1="192.4" x2="358.0" y2="189.4" stroke="#1c1c1c" stroke-width="0.50" />
<line x1="348.0" y1="193.8" x2="358.0" y2="190.8" stroke="#1c1c1c" stroke-width="0.50" />
<line x1="348.0" y1="195.2" x2="358.0" y2="192.2" stroke="#1c1c1c" stroke-width="0.50" />
<line x1="348.0" y1="196.6" x2="358.0" y2="193.6" stroke="#1c1c1c" stroke-width="0.50" />
<line x1="348.0" y1="198.0" x2="358.0" y2="195.0" stroke="#1c1c1c" stroke-width="0.50" />
<line x1="348.0" y1="199.4" x2="358.0" y2="196.4" stroke="#1c1c1c" stroke-width="0.50" />
<line x1="348.0" y1="200.8" x2="358.0" y2="197.8" stroke="#1c1c1c" stroke-width="0.50" />
<line x1="348.0" y1="202.2" x2="358.0" y2="199.2" stroke="#1c1c1c" stroke-width="0.50" />
<line x1="348.0" y1="203.6" x2="358.0" y2="200.6" stroke="#1c1c1c" stroke-width="0.50" />
<line x1="348.0" y1="205.0" x2="358.0" y2="202.0" stroke="#1c1c1c" stroke-width="0.50" />
<line x1="348.0" y1="206.4" x2="358.0" y2="203.4" stroke="#1c1c1c" stroke-width="0.50" />
<line x1="348.0" y1="207.8" x2="358.0" y2="204.8" stroke="#1c1c1c" stroke-width="0.50" />
<line x1="348.0" y1="209.2" x2="358.0" y2="206.2" stroke="#1c1c1c" stroke-width="0.50" />
<line x1="348.0" y1="210.6" x2="358.0" y2="207.6" stroke="#1c1c1c" stroke-width="0.50" />
<line x1="348.0" y1="212.0" x2="358.0" y2="209.0" stroke="#1c1c1c" stroke-width="0.50" />
<line x1="348.0" y1="213.4" x2="358.0" y2="210.4" stroke="#1c1c1c" stroke-width="0.50" />
<line x1="348.0" y1="214.8" x2="358.0" y2="211.8" stroke="#1c1c1c" stroke-width="0.50" />
<line x1="348.0" y1="216.2" x2="358.0" y2="213.2" stroke="#1c1c1c" stroke-width="0.50" />
<line x1="348.0" y1="217.6" x2="358.0" y2="214.6" stroke="#1c1c1c" stroke-width="0.50" />
<line x1="348.0" y1="219.0" x2="358.0" y2="216.0" stroke="#1c1c1c" stroke-width="0.50" />
<line x1="348.0" y1="220.4" x2="358.0" y2="217.4" stroke="#1c1c1c" stroke-width="0.50" />
<line x1="348.0" y1="221.8" x2="358.0" y2="218.8" stroke="#1c1c1c" stroke-width="0.50" />
<line x1="348.0" y1="223.2" x2="358.0" y2="220.2" stroke="#1c1c1c" stroke-width="0.50" />
<line x1="348.0" y1="224.6" x2="358.0" y2="221.6" stroke="#1c1c1c" stroke-width="0.50" />
<line x1="348.0" y1="226.0" x2="358.0" y2="223.0" stroke="#1c1c1c" stroke-width="0.50" />
<line x1="348.0" y1="227.4" x2="358.0" y2="224.4" stroke="#1c1c1c" stroke-width="0.50" />
<line x1="348.0" y1="228.8" x2="358.0" y2="225.8" stroke="#1c1c1c" stroke-width="0.50" />
<line x1="348.0" y1="230.2" x2="358.0" y2="227.2" stroke="#1c1c1c" stroke-width="0.50" />
<line x1="348.0" y1="231.6" x2="358.0" y2="228.6" stroke="#1c1c1c" stroke-width="0.50" />
<line x1="348.0" y1="233.0" x2="358.0" y2="230.0" stroke="#1c1c1c" stroke-width="0.50" />
<line x1="348.0" y1="234.4" x2="358.0" y2="231.4" stroke="#1c1c1c" stroke-width="0.50" />
<line x1="348.0" y1="235.8" x2="358.0" y2="232.8" stroke="#1c1c1c" stroke-width="0.50" />
<line x1="348.0" y1="237.2" x2="358.0" y2="234.2" stroke="#1c1c1c" stroke-width="0.50" />
<line x1="348.0" y1="238.6" x2="358.0" y2="235.6" stroke="#1c1c1c" stroke-width="0.50" />
</g>
<rect x="0" y="0" width="19.50" height="81.50" fill="url(#swathC)" transform="translate(356.50 148.00) skewX(5.597)" />
<g transform="translate(356.50 148.00) skewX(5.597)"><rect x="0" y="0" width="19.5" height="81.5" filter="url(#streak)" opacity="0.25"/></g>
<rect x="0" y="0" width="19.50" height="81.50" fill="url(#swathC)" transform="translate(394.40 148.00) skewX(5.597)" />
<g transform="translate(394.40 148.00) skewX(5.597)"><rect x="0" y="0" width="19.5" height="81.5" filter="url(#streak)" opacity="0.25"/></g>
<rect x="0" y="0" width="19.00" height="81.50" fill="url(#swathC)" transform="translate(433.50 148.00) skewX(5.597)" />
<g transform="translate(433.50 148.00) skewX(5.597)"><rect x="0" y="0" width="19.0" height="81.5" filter="url(#streak)" opacity="0.25"/></g>
</g>
<path d="M386.0,185.0 C387.8,179.8 393.0,177.2 397.0,175.0 C401.0,172.8 405.7,171.3 410.0,171.5 C414.3,171.7 419.5,173.6 423.0,176.0 C426.5,178.4 429.5,182.0 431.0,186.0 C432.5,190.0 431.5,195.7 432.0,200.0 C432.5,204.3 435.2,208.6 434.0,212.0 C432.8,215.4 429.0,219.0 425.0,220.5 C421.0,222.0 414.8,221.8 410.0,221.0 C405.2,220.2 400.0,218.5 396.0,216.0 C392.0,213.5 387.7,211.2 386.0,206.0 C384.3,200.8 384.2,190.2 386.0,185.0 Z" fill="none" stroke="#3d9b3d" stroke-width="0.90" />
<text x="349.8" y="225.8" font-size="9.0" text-anchor="start" fill="#fff" font-weight="bold" >c)</text>
<g clip-path="url(#cd)">
<rect x="36.0" y="247.0" width="139.0" height="162.0" fill="#f9edd4" />
<g filter="url(#b6)">
<ellipse cx="42.0" cy="280.0" rx="18.0" ry="22.0" transform="rotate(0.0 42.0 280.0)" fill="#cfe2f0" />
<ellipse cx="100.0" cy="284.0" rx="20.0" ry="24.0" transform="rotate(-35.0 100.0 284.0)" fill="#cfe2f0" />
<ellipse cx="70.0" cy="272.0" rx="20.0" ry="6.0" transform="rotate(0.0 70.0 272.0)" fill="#dbe9f2" />
<ellipse cx="85.0" cy="340.0" rx="45.0" ry="14.0" transform="rotate(35.0 85.0 340.0)" fill="#d4e6f2" />
<ellipse cx="125.0" cy="355.0" rx="25.0" ry="10.0" transform="rotate(40.0 125.0 355.0)" fill="#d8e8f2" />
<ellipse cx="158.8" cy="276.6" rx="20.0" ry="20.0" transform="rotate(0.0 158.8 276.6)" fill="#d0e2f0" />
<ellipse cx="52.0" cy="248.0" rx="14.0" ry="6.0" transform="rotate(0.0 52.0 248.0)" fill="#d0e2f0" />
<ellipse cx="124.0" cy="282.0" rx="5.0" ry="20.0" transform="rotate(0.0 124.0 282.0)" fill="#e29a9c" />
<ellipse cx="73.0" cy="252.0" rx="12.0" ry="10.0" transform="rotate(0.0 73.0 252.0)" fill="#f4c29e" />
<ellipse cx="86.0" cy="307.0" rx="22.0" ry="17.0" transform="rotate(22.0 86.0 307.0)" fill="#f5cfa6" />
<ellipse cx="158.0" cy="336.0" rx="20.0" ry="16.0" transform="rotate(0.0 158.0 336.0)" fill="#fdf5e0" />
<ellipse cx="150.0" cy="305.0" rx="16.0" ry="7.0" transform="rotate(0.0 150.0 305.0)" fill="#fbe0c0" />
<ellipse cx="160.0" cy="374.0" rx="22.0" ry="12.0" transform="rotate(0.0 160.0 374.0)" fill="#fbe8cc" />
<ellipse cx="145.0" cy="255.0" rx="20.0" ry="6.0" transform="rotate(0.0 145.0 255.0)" fill="#fbf1dc" />
</g>
<ellipse cx="47.0" cy="287.0" rx="13.0" ry="15.0" transform="rotate(5.0 47.0 287.0)" fill="url(#gBlue)" />
<ellipse cx="103.0" cy="288.0" rx="13.0" ry="18.0" transform="rotate(-30.0 103.0 288.0)" fill="url(#gBlue)" />
<ellipse cx="84.0" cy="306.5" rx="18.0" ry="13.0" transform="rotate(22.0 84.0 306.5)" fill="url(#gRed)" />
<ellipse cx="73.0" cy="250.0" rx="9.0" ry="10.0" transform="rotate(0.0 73.0 250.0)" fill="url(#gPink)" />
<ellipse cx="158.8" cy="277.0" rx="14.0" ry="14.4" transform="rotate(0.0 158.8 277.0)" fill="url(#gBlue)" />
<ellipse cx="52.0" cy="246.0" rx="9.0" ry="4.0" transform="rotate(0.0 52.0 246.0)" fill="url(#gBlueL)" />
<ellipse cx="124.0" cy="283.0" rx="4.5" ry="17.0" transform="rotate(0.0 124.0 283.0)" fill="#d98890" opacity="0.75" filter="url(#b3)"/>
<g fill="none" stroke="#444" stroke-width="0.45" opacity="0.8"><polyline points="36.0,300.0 46.0,302.5 58.0,307.0 70.0,315.0 84.0,322.0 96.0,330.0 108.0,338.0 118.0,344.0 124.0,348.0 132.5,356.3 143.8,360.6 156.5,363.4 172.0,364.8 176.0,366.0"/><polyline points="36.0,304.0 50.0,307.0 62.0,313.0 76.0,321.0 90.0,330.0 102.0,339.0 112.0,347.0 122.0,355.0 132.0,364.0 142.0,370.0 154.0,374.0 166.0,377.0 176.0,380.0"/><polyline points="113.5,302.0 118.0,305.0 124.0,308.5 130.0,311.0 135.4,314.0 138.0,319.7 142.0,321.0 146.6,322.5 150.0,320.0 155.0,321.0 159.0,323.0 163.5,324.6 169.0,329.6 172.0,333.8 176.0,336.0"/><polyline points="126.0,316.0 131.0,323.0 136.8,328.0 145.2,331.0 150.0,332.0 156.5,333.8 162.0,336.6 166.3,335.2 172.0,338.0 176.0,339.0"/><polyline points="40.0,298.0 52.0,300.0 60.0,302.0 66.0,301.0 72.0,304.0 80.0,306.0 88.0,306.0 96.0,309.0 104.0,312.0 112.0,313.0 118.0,318.0 122.0,322.0"/><polyline points="122.0,372.0 130.0,376.0 140.0,380.0 150.0,384.0 160.0,387.0 170.0,389.0 176.0,390.0"/><polyline points="128.0,340.0 136.0,344.0 144.0,346.0 150.0,350.0 156.0,349.0 162.0,352.0 168.0,356.0 176.0,357.0"/><polyline points="140.0,370.0 148.0,372.0 156.0,375.0 164.0,378.0 170.0,380.0 176.0,383.0"/><polyline points="148.0,306.0 154.0,309.0 160.0,312.0 166.0,310.0 172.0,313.0 176.0,315.0"/><polyline points="60.0,300.0 70.0,306.0 80.0,311.0 92.0,318.0 104.0,326.0 114.0,333.0 122.0,338.0 128.0,342.0"/></g>
<g stroke="#555" stroke-width="0.55" opacity="0.6"><line x1="39.8" y1="251.8" x2="40.2" y2="253.2"/><line x1="46.8" y1="253.0" x2="45.7" y2="252.0"/><line x1="51.9" y1="252.1" x2="53.1" y2="252.9"/><line x1="59.4" y1="252.4" x2="58.1" y2="252.6"/><line x1="65.2" y1="253.2" x2="64.8" y2="251.8"/><line x1="70.7" y1="252.9" x2="71.8" y2="252.1"/><line x1="77.9" y1="253.1" x2="77.1" y2="251.9"/><line x1="83.3" y1="252.0" x2="84.2" y2="253.0"/><line x1="89.3" y1="252.5" x2="90.7" y2="252.5"/><line x1="95.9" y1="253.1" x2="96.6" y2="251.9"/><line x1="102.5" y1="251.8" x2="102.5" y2="253.2"/><line x1="109.2" y1="252.0" x2="108.3" y2="253.0"/><line x1="115.6" y1="252.9" x2="114.4" y2="252.1"/><line x1="121.7" y1="252.0" x2="120.8" y2="253.0"/><line x1="127.2" y1="251.8" x2="127.8" y2="253.2"/><line x1="133.9" y1="251.8" x2="133.6" y2="253.2"/><line x1="139.4" y1="252.9" x2="140.6" y2="252.1"/><line x1="146.1" y1="253.2" x2="146.4" y2="251.8"/><line x1="152.6" y1="251.8" x2="152.4" y2="253.2"/><line x1="158.8" y1="253.2" x2="158.7" y2="251.8"/><line x1="164.5" y1="252.1" x2="165.5" y2="252.9"/><line x1="171.2" y1="253.2" x2="171.3" y2="251.8"/><line x1="39.4" y1="259.2" x2="40.6" y2="258.3"/><line x1="45.8" y1="258.2" x2="46.7" y2="259.3"/><line x1="51.9" y1="258.4" x2="53.1" y2="259.1"/><line x1="58.8" y1="259.4" x2="58.7" y2="258.1"/><line x1="64.4" y1="258.4" x2="65.6" y2="259.1"/><line x1="70.7" y1="259.1" x2="71.8" y2="258.4"/><line x1="77.2" y1="258.1" x2="77.8" y2="259.4"/><line x1="84.2" y1="259.3" x2="83.3" y2="258.2"/><line x1="89.3" y1="258.9" x2="90.7" y2="258.6"/><line x1="96.2" y1="258.1" x2="96.3" y2="259.4"/><line x1="102.2" y1="259.4" x2="102.8" y2="258.1"/><line x1="108.2" y1="259.2" x2="109.3" y2="258.3"/><line x1="114.3" y1="258.6" x2="115.7" y2="258.9"/><line x1="121.8" y1="259.2" x2="120.7" y2="258.3"/><line x1="126.8" y1="258.7" x2="128.2" y2="258.8"/><line x1="134.1" y1="258.2" x2="133.4" y2="259.3"/><line x1="140.5" y1="259.2" x2="139.5" y2="258.3"/><line x1="146.8" y1="258.4" x2="145.7" y2="259.1"/><line x1="152.2" y1="259.4" x2="152.8" y2="258.1"/><line x1="158.1" y1="258.7" x2="159.4" y2="258.8"/><line x1="165.0" y1="259.4" x2="165.0" y2="258.1"/><line x1="171.1" y1="259.4" x2="171.4" y2="258.1"/><line x1="40.7" y1="264.9" x2="39.3" y2="265.1"/><line x1="46.9" y1="264.7" x2="45.6" y2="265.3"/><line x1="51.8" y1="264.9" x2="53.2" y2="265.1"/><line x1="59.3" y1="265.5" x2="58.2" y2="264.5"/><line x1="64.5" y1="264.5" x2="65.5" y2="265.5"/><line x1="71.8" y1="264.6" x2="70.7" y2="265.4"/><line x1="77.8" y1="265.6" x2="77.2" y2="264.4"/><line x1="84.3" y1="265.4" x2="83.2" y2="264.6"/><line x1="90.2" y1="265.7" x2="89.8" y2="264.3"/><line x1="95.6" y1="264.9" x2="96.9" y2="265.1"/><line x1="103.1" y1="265.4" x2="101.9" y2="264.6"/><line x1="108.7" y1="265.7" x2="108.8" y2="264.3"/><line x1="115.3" y1="265.6" x2="114.7" y2="264.4"/><line x1="121.1" y1="264.3" x2="121.4" y2="265.7"/><line x1="128.2" y1="264.8" x2="126.8" y2="265.2"/><line x1="133.1" y1="264.7" x2="134.4" y2="265.3"/><line x1="139.5" y1="265.4" x2="140.5" y2="264.6"/><line x1="146.0" y1="265.7" x2="146.5" y2="264.3"/><line x1="151.9" y1="265.3" x2="153.1" y2="264.7"/><line x1="158.9" y1="265.7" x2="158.6" y2="264.3"/><line x1="165.1" y1="265.7" x2="164.9" y2="264.3"/><line x1="170.8" y1="265.5" x2="171.7" y2="264.5"/><line x1="39.8" y1="271.9" x2="40.2" y2="270.6"/><line x1="46.9" y1="270.9" x2="45.6" y2="271.6"/><line x1="53.2" y1="271.0" x2="51.8" y2="271.5"/><line x1="58.9" y1="270.6" x2="58.6" y2="271.9"/><line x1="64.3" y1="271.4" x2="65.7" y2="271.1"/><line x1="71.9" y1="271.3" x2="70.6" y2="271.2"/><line x1="76.8" y1="271.2" x2="78.2" y2="271.3"/><line x1="84.1" y1="270.6" x2="83.4" y2="271.9"/><line x1="90.6" y1="271.6" x2="89.4" y2="270.9"/><line x1="96.6" y1="270.7" x2="95.9" y2="271.8"/><line x1="102.6" y1="270.6" x2="102.4" y2="271.9"/><line x1="109.2" y1="271.8" x2="108.3" y2="270.7"/><line x1="115.5" y1="271.8" x2="114.5" y2="270.7"/><line x1="121.8" y1="271.6" x2="120.7" y2="270.9"/><line x1="127.8" y1="270.6" x2="127.2" y2="271.9"/><line x1="133.2" y1="271.7" x2="134.3" y2="270.8"/><line x1="140.7" y1="271.1" x2="139.3" y2="271.4"/><line x1="146.9" y1="271.1" x2="145.6" y2="271.4"/><line x1="152.0" y1="270.8" x2="153.0" y2="271.7"/><line x1="159.2" y1="271.8" x2="158.3" y2="270.7"/><line x1="164.4" y1="270.9" x2="165.6" y2="271.6"/><line x1="171.0" y1="271.9" x2="171.5" y2="270.6"/><line x1="40.3" y1="278.1" x2="39.7" y2="276.9"/><line x1="46.8" y1="277.1" x2="45.7" y2="277.9"/><line x1="53.0" y1="278.0" x2="52.0" y2="277.0"/><line x1="58.6" y1="278.2" x2="58.9" y2="276.8"/><line x1="65.6" y1="277.8" x2="64.4" y2="277.2"/><line x1="70.6" y1="277.4" x2="71.9" y2="277.6"/><line x1="78.2" y1="277.7" x2="76.8" y2="277.3"/><line x1="84.4" y1="277.3" x2="83.1" y2="277.7"/><line x1="90.4" y1="276.9" x2="89.6" y2="278.1"/><line x1="96.6" y1="278.1" x2="95.9" y2="276.9"/><line x1="102.4" y1="278.2" x2="102.6" y2="276.8"/><line x1="109.4" y1="277.8" x2="108.1" y2="277.2"/><line x1="114.4" y1="277.9" x2="115.6" y2="277.1"/><line x1="120.6" y1="277.2" x2="121.9" y2="277.8"/><line x1="127.9" y1="278.1" x2="127.1" y2="276.9"/><line x1="134.4" y1="277.2" x2="133.1" y2="277.8"/><line x1="140.2" y1="276.8" x2="139.8" y2="278.2"/><line x1="146.1" y1="276.8" x2="146.4" y2="278.2"/><line x1="152.9" y1="276.9" x2="152.1" y2="278.1"/><line x1="158.1" y1="277.7" x2="159.4" y2="277.3"/><line x1="165.4" y1="277.0" x2="164.6" y2="278.0"/><line x1="170.6" y1="277.6" x2="171.9" y2="277.4"/><line x1="39.8" y1="283.1" x2="40.2" y2="284.4"/><line x1="45.6" y1="283.4" x2="46.9" y2="284.1"/><line x1="52.0" y1="284.3" x2="53.0" y2="283.2"/><line x1="58.4" y1="284.3" x2="59.1" y2="283.2"/><line x1="65.2" y1="284.4" x2="64.8" y2="283.1"/><line x1="71.4" y1="283.1" x2="71.1" y2="284.4"/><line x1="77.7" y1="284.4" x2="77.3" y2="283.1"/><line x1="84.4" y1="283.8" x2="83.1" y2="283.7"/><line x1="90.6" y1="284.2" x2="89.4" y2="283.3"/><line x1="96.8" y1="284.1" x2="95.7" y2="283.4"/><line x1="101.9" y1="284.0" x2="103.1" y2="283.5"/><line x1="109.4" y1="283.5" x2="108.1" y2="284.0"/><line x1="114.6" y1="283.2" x2="115.4" y2="284.3"/><line x1="120.6" y1="283.9" x2="121.9" y2="283.6"/><line x1="126.8" y1="283.7" x2="128.2" y2="283.8"/><line x1="133.6" y1="284.4" x2="133.9" y2="283.1"/><line x1="140.6" y1="284.1" x2="139.4" y2="283.4"/><line x1="146.5" y1="284.4" x2="146.0" y2="283.1"/><line x1="151.8" y1="283.9" x2="153.2" y2="283.6"/><line x1="159.4" y1="284.0" x2="158.1" y2="283.5"/><line x1="165.1" y1="283.1" x2="164.9" y2="284.4"/><line x1="170.9" y1="283.1" x2="171.6" y2="284.4"/><line x1="40.6" y1="290.3" x2="39.4" y2="289.7"/><line x1="46.9" y1="289.7" x2="45.6" y2="290.3"/><line x1="53.1" y1="289.7" x2="51.9" y2="290.3"/><line x1="59.3" y1="290.4" x2="58.2" y2="289.6"/><line x1="65.7" y1="290.1" x2="64.3" y2="289.9"/><line x1="70.6" y1="289.7" x2="71.9" y2="290.3"/><line x1="77.6" y1="290.7" x2="77.4" y2="289.3"/><line x1="84.4" y1="289.8" x2="83.1" y2="290.2"/><line x1="90.2" y1="289.3" x2="89.8" y2="290.7"/><line x1="96.2" y1="289.3" x2="96.3" y2="290.7"/><line x1="101.9" y1="289.7" x2="103.1" y2="290.3"/><line x1="108.1" y1="290.2" x2="109.4" y2="289.8"/><line x1="114.4" y1="289.7" x2="115.6" y2="290.3"/><line x1="120.6" y1="290.3" x2="121.9" y2="289.7"/><line x1="127.9" y1="289.4" x2="127.1" y2="290.6"/><line x1="134.4" y1="290.0" x2="133.1" y2="290.0"/><line x1="139.3" y1="290.0" x2="140.7" y2="290.0"/><line x1="146.4" y1="289.3" x2="146.1" y2="290.7"/><line x1="151.9" y1="290.4" x2="153.1" y2="289.6"/><line x1="158.3" y1="289.4" x2="159.2" y2="290.6"/><line x1="165.5" y1="290.5" x2="164.5" y2="289.5"/><line x1="170.7" y1="289.6" x2="171.8" y2="290.4"/><line x1="39.4" y1="295.9" x2="40.6" y2="296.6"/><line x1="46.1" y1="295.6" x2="46.4" y2="296.9"/><line x1="52.3" y1="296.9" x2="52.7" y2="295.6"/><line x1="59.4" y1="296.2" x2="58.1" y2="296.3"/><line x1="64.5" y1="295.8" x2="65.5" y2="296.7"/><line x1="71.7" y1="295.7" x2="70.8" y2="296.8"/><line x1="76.8" y1="296.1" x2="78.2" y2="296.4"/><line x1="84.1" y1="296.8" x2="83.4" y2="295.7"/><line x1="90.6" y1="296.0" x2="89.4" y2="296.5"/><line x1="96.9" y1="296.0" x2="95.6" y2="296.5"/><line x1="102.8" y1="295.6" x2="102.2" y2="296.9"/><line x1="108.7" y1="295.6" x2="108.8" y2="296.9"/><line x1="114.3" y1="296.4" x2="115.7" y2="296.1"/><line x1="121.5" y1="296.9" x2="121.0" y2="295.6"/><line x1="126.9" y1="296.5" x2="128.1" y2="296.0"/><line x1="134.4" y1="296.3" x2="133.1" y2="296.2"/><line x1="139.4" y1="296.5" x2="140.6" y2="296.0"/><line x1="146.7" y1="296.8" x2="145.8" y2="295.7"/><line x1="153.0" y1="295.8" x2="152.0" y2="296.7"/><line x1="158.1" y1="296.4" x2="159.4" y2="296.1"/><line x1="164.5" y1="296.7" x2="165.5" y2="295.8"/><line x1="171.5" y1="295.6" x2="171.0" y2="296.9"/><line x1="39.7" y1="303.1" x2="40.3" y2="301.9"/><line x1="46.4" y1="301.8" x2="46.1" y2="303.2"/><line x1="52.4" y1="301.8" x2="52.6" y2="303.2"/><line x1="59.0" y1="303.1" x2="58.5" y2="301.9"/><line x1="65.3" y1="301.9" x2="64.7" y2="303.1"/><line x1="70.6" y1="302.7" x2="71.9" y2="302.3"/><line x1="78.0" y1="302.0" x2="77.0" y2="303.0"/><line x1="83.1" y1="302.7" x2="84.4" y2="302.3"/><line x1="90.3" y1="303.1" x2="89.7" y2="301.9"/><line x1="96.0" y1="301.8" x2="96.5" y2="303.2"/><line x1="101.9" y1="302.2" x2="103.1" y2="302.8"/><line x1="108.1" y1="302.3" x2="109.4" y2="302.7"/><line x1="115.7" y1="302.5" x2="114.3" y2="302.5"/><line x1="121.9" y1="302.4" x2="120.6" y2="302.6"/><line x1="127.0" y1="302.0" x2="128.0" y2="303.0"/><line x1="133.1" y1="302.6" x2="134.4" y2="302.4"/><line x1="139.9" y1="301.8" x2="140.1" y2="303.2"/><line x1="145.7" y1="303.0" x2="146.8" y2="302.0"/><line x1="153.0" y1="302.0" x2="152.0" y2="303.0"/><line x1="159.4" y1="302.6" x2="158.1" y2="302.4"/><line x1="165.3" y1="303.1" x2="164.7" y2="301.9"/><line x1="170.6" y1="302.8" x2="171.9" y2="302.2"/><line x1="39.6" y1="309.3" x2="40.4" y2="308.2"/><line x1="46.9" y1="308.6" x2="45.6" y2="308.9"/><line x1="53.2" y1="308.5" x2="51.8" y2="309.0"/><line x1="59.4" y1="308.7" x2="58.1" y2="308.8"/><line x1="65.7" y1="308.8" x2="64.3" y2="308.7"/><line x1="71.0" y1="309.4" x2="71.5" y2="308.1"/><line x1="77.4" y1="309.4" x2="77.6" y2="308.1"/><line x1="83.1" y1="309.0" x2="84.4" y2="308.5"/><line x1="90.3" y1="309.4" x2="89.7" y2="308.1"/><line x1="96.0" y1="309.4" x2="96.5" y2="308.1"/><line x1="102.7" y1="309.4" x2="102.3" y2="308.1"/><line x1="109.0" y1="308.1" x2="108.5" y2="309.4"/><line x1="114.4" y1="309.1" x2="115.6" y2="308.4"/><line x1="121.9" y1="308.6" x2="120.6" y2="308.9"/><line x1="128.1" y1="308.4" x2="126.9" y2="309.1"/><line x1="133.9" y1="309.4" x2="133.6" y2="308.1"/><line x1="140.7" y1="308.8" x2="139.3" y2="308.7"/><line x1="146.8" y1="309.2" x2="145.7" y2="308.3"/><line x1="151.9" y1="308.4" x2="153.1" y2="309.1"/><line x1="158.2" y1="308.3" x2="159.3" y2="309.2"/><line x1="164.4" y1="308.4" x2="165.6" y2="309.1"/><line x1="171.0" y1="309.4" x2="171.5" y2="308.1"/><line x1="39.6" y1="314.4" x2="40.4" y2="315.6"/><line x1="46.2" y1="315.7" x2="46.3" y2="314.3"/><line x1="53.2" y1="314.7" x2="51.8" y2="315.3"/><line x1="58.4" y1="314.4" x2="59.1" y2="315.6"/><line x1="64.8" y1="314.3" x2="65.2" y2="315.7"/><line x1="71.0" y1="314.3" x2="71.5" y2="315.7"/><line x1="78.0" y1="315.5" x2="77.0" y2="314.5"/><line x1="84.3" y1="315.5" x2="83.2" y2="314.5"/><line x1="90.3" y1="315.6" x2="89.7" y2="314.4"/><line x1="96.9" y1="315.3" x2="95.6" y2="314.7"/><line x1="103.1" y1="315.4" x2="101.9" y2="314.6"/><line x1="108.1" y1="314.7" x2="109.4" y2="315.3"/><line x1="114.3" y1="314.8" x2="115.7" y2="315.2"/><line x1="120.6" y1="314.8" x2="121.9" y2="315.2"/><line x1="127.5" y1="314.3" x2="127.5" y2="315.7"/><line x1="133.1" y1="315.1" x2="134.4" y2="314.9"/><line x1="140.4" y1="315.6" x2="139.6" y2="314.4"/><line x1="145.6" y1="315.2" x2="146.9" y2="314.8"/><line x1="151.8" y1="315.1" x2="153.2" y2="314.9"/><line x1="158.7" y1="314.3" x2="158.8" y2="315.7"/><line x1="164.3" y1="315.2" x2="165.7" y2="314.8"/><line x1="170.9" y1="314.4" x2="171.6" y2="315.6"/><line x1="39.3" y1="321.1" x2="40.7" y2="321.4"/><line x1="46.5" y1="321.9" x2="46.0" y2="320.6"/><line x1="52.3" y1="321.9" x2="52.7" y2="320.6"/><line x1="58.4" y1="321.9" x2="59.1" y2="320.6"/><line x1="64.6" y1="321.8" x2="65.4" y2="320.7"/><line x1="71.1" y1="320.6" x2="71.4" y2="321.9"/><line x1="78.1" y1="320.8" x2="76.9" y2="321.7"/><line x1="84.0" y1="320.6" x2="83.5" y2="321.9"/><line x1="89.3" y1="321.5" x2="90.7" y2="321.0"/><line x1="96.9" y1="321.4" x2="95.6" y2="321.1"/><line x1="103.2" y1="321.5" x2="101.8" y2="321.0"/><line x1="109.2" y1="321.7" x2="108.3" y2="320.8"/><line x1="114.6" y1="320.7" x2="115.4" y2="321.8"/><line x1="121.8" y1="320.8" x2="120.7" y2="321.7"/><line x1="127.9" y1="320.7" x2="127.1" y2="321.8"/><line x1="134.4" y1="321.1" x2="133.1" y2="321.4"/><line x1="140.2" y1="321.9" x2="139.8" y2="320.6"/><line x1="146.7" y1="320.7" x2="145.8" y2="321.8"/><line x1="153.2" y1="321.4" x2="151.8" y2="321.1"/><line x1="158.1" y1="321.4" x2="159.4" y2="321.1"/><line x1="164.9" y1="321.9" x2="165.1" y2="320.6"/><line x1="170.6" y1="321.4" x2="171.9" y2="321.1"/><line x1="40.4" y1="328.0" x2="39.6" y2="327.0"/><line x1="46.5" y1="326.8" x2="46.0" y2="328.2"/><line x1="52.9" y1="326.9" x2="52.1" y2="328.1"/><line x1="59.2" y1="328.1" x2="58.3" y2="326.9"/><line x1="64.7" y1="328.1" x2="65.3" y2="326.9"/><line x1="71.5" y1="326.9" x2="71.0" y2="328.1"/><line x1="76.9" y1="327.8" x2="78.1" y2="327.2"/><line x1="83.1" y1="327.8" x2="84.4" y2="327.2"/><line x1="89.4" y1="327.8" x2="90.6" y2="327.2"/><line x1="96.9" y1="327.5" x2="95.6" y2="327.5"/><line x1="102.1" y1="326.9" x2="102.9" y2="328.1"/><line x1="108.1" y1="327.8" x2="109.4" y2="327.2"/><line x1="115.7" y1="327.3" x2="114.3" y2="327.7"/><line x1="121.0" y1="326.9" x2="121.5" y2="328.1"/><line x1="127.6" y1="328.2" x2="127.4" y2="326.8"/><line x1="133.9" y1="328.2" x2="133.6" y2="326.8"/><line x1="140.6" y1="327.9" x2="139.4" y2="327.1"/><line x1="146.9" y1="327.3" x2="145.6" y2="327.7"/><line x1="151.8" y1="327.5" x2="153.2" y2="327.5"/><line x1="158.1" y1="327.5" x2="159.4" y2="327.5"/><line x1="165.7" y1="327.4" x2="164.3" y2="327.6"/><line x1="170.8" y1="326.9" x2="171.7" y2="328.1"/><line x1="39.5" y1="333.3" x2="40.5" y2="334.2"/><line x1="45.6" y1="334.1" x2="46.9" y2="333.4"/><line x1="52.0" y1="334.3" x2="53.0" y2="333.2"/><line x1="59.0" y1="333.1" x2="58.5" y2="334.4"/><line x1="65.2" y1="334.4" x2="64.8" y2="333.1"/><line x1="70.6" y1="333.7" x2="71.9" y2="333.8"/><line x1="76.8" y1="333.9" x2="78.2" y2="333.6"/><line x1="83.1" y1="333.6" x2="84.4" y2="333.9"/><line x1="90.4" y1="333.2" x2="89.6" y2="334.3"/><line x1="95.8" y1="333.2" x2="96.7" y2="334.3"/><line x1="101.8" y1="333.6" x2="103.2" y2="333.9"/><line x1="109.2" y1="333.2" x2="108.3" y2="334.3"/><line x1="114.9" y1="334.4" x2="115.1" y2="333.1"/><line x1="121.6" y1="334.3" x2="120.9" y2="333.2"/><line x1="127.7" y1="334.4" x2="127.3" y2="333.1"/><line x1="133.9" y1="334.4" x2="133.6" y2="333.1"/><line x1="140.1" y1="333.1" x2="139.9" y2="334.4"/><line x1="145.6" y1="333.9" x2="146.9" y2="333.6"/><line x1="152.5" y1="334.4" x2="152.5" y2="333.1"/><line x1="158.6" y1="333.1" x2="158.9" y2="334.4"/><line x1="164.9" y1="333.1" x2="165.1" y2="334.4"/><line x1="171.7" y1="333.2" x2="170.8" y2="334.3"/><line x1="39.5" y1="339.5" x2="40.5" y2="340.5"/><line x1="46.7" y1="339.5" x2="45.8" y2="340.5"/><line x1="52.8" y1="340.7" x2="52.2" y2="339.3"/><line x1="59.0" y1="339.3" x2="58.5" y2="340.7"/><line x1="65.7" y1="340.3" x2="64.3" y2="339.7"/><line x1="71.9" y1="339.9" x2="70.6" y2="340.1"/><line x1="77.2" y1="339.4" x2="77.8" y2="340.6"/><line x1="84.1" y1="339.4" x2="83.4" y2="340.6"/><line x1="90.6" y1="339.6" x2="89.4" y2="340.4"/><line x1="96.8" y1="339.6" x2="95.7" y2="340.4"/><line x1="103.2" y1="339.9" x2="101.8" y2="340.1"/><line x1="108.4" y1="340.6" x2="109.1" y2="339.4"/><line x1="114.9" y1="339.3" x2="115.1" y2="340.7"/><line x1="121.1" y1="339.3" x2="121.4" y2="340.7"/><line x1="127.0" y1="340.5" x2="128.0" y2="339.5"/><line x1="133.1" y1="340.4" x2="134.4" y2="339.6"/><line x1="140.4" y1="340.5" x2="139.6" y2="339.5"/><line x1="145.9" y1="339.4" x2="146.6" y2="340.6"/><line x1="152.3" y1="340.7" x2="152.7" y2="339.3"/><line x1="159.2" y1="339.5" x2="158.3" y2="340.5"/><line x1="164.4" y1="339.7" x2="165.6" y2="340.3"/><line x1="170.9" y1="339.4" x2="171.6" y2="340.6"/><line x1="39.8" y1="346.9" x2="40.2" y2="345.6"/><line x1="46.5" y1="346.9" x2="46.0" y2="345.6"/><line x1="53.2" y1="346.2" x2="51.8" y2="346.3"/><line x1="58.3" y1="346.8" x2="59.2" y2="345.7"/><line x1="65.6" y1="346.6" x2="64.4" y2="345.9"/><line x1="71.4" y1="345.6" x2="71.1" y2="346.9"/><line x1="77.7" y1="346.9" x2="77.3" y2="345.6"/><line x1="83.1" y1="346.2" x2="84.4" y2="346.3"/><line x1="90.0" y1="345.6" x2="90.0" y2="346.9"/><line x1="95.6" y1="346.6" x2="96.9" y2="345.9"/><line x1="103.2" y1="346.1" x2="101.8" y2="346.4"/><line x1="109.0" y1="345.6" x2="108.5" y2="346.9"/><line x1="114.9" y1="345.6" x2="115.1" y2="346.9"/><line x1="121.4" y1="345.6" x2="121.1" y2="346.9"/><line x1="127.8" y1="346.9" x2="127.2" y2="345.6"/><line x1="133.9" y1="346.9" x2="133.6" y2="345.6"/><line x1="139.3" y1="346.3" x2="140.7" y2="346.2"/><line x1="146.2" y1="346.9" x2="146.3" y2="345.6"/><line x1="153.2" y1="346.1" x2="151.8" y2="346.4"/><line x1="159.1" y1="346.9" x2="158.4" y2="345.6"/><line x1="165.5" y1="346.7" x2="164.5" y2="345.8"/><line x1="170.9" y1="346.9" x2="171.6" y2="345.6"/><line x1="39.3" y1="352.5" x2="40.7" y2="352.5"/><line x1="45.6" y1="352.4" x2="46.9" y2="352.6"/><line x1="52.6" y1="351.8" x2="52.4" y2="353.2"/><line x1="59.0" y1="353.1" x2="58.5" y2="351.9"/><line x1="65.2" y1="353.2" x2="64.8" y2="351.8"/><line x1="71.2" y1="353.2" x2="71.3" y2="351.8"/><line x1="76.8" y1="352.6" x2="78.2" y2="352.4"/><line x1="84.4" y1="352.5" x2="83.1" y2="352.5"/><line x1="90.2" y1="353.2" x2="89.8" y2="351.8"/><line x1="96.6" y1="353.1" x2="95.9" y2="351.9"/><line x1="102.8" y1="351.9" x2="102.2" y2="353.1"/><line x1="108.8" y1="353.2" x2="108.7" y2="351.8"/><line x1="114.6" y1="353.1" x2="115.4" y2="351.9"/><line x1="121.6" y1="351.9" x2="120.9" y2="353.1"/><line x1="127.0" y1="352.0" x2="128.0" y2="353.0"/><line x1="133.1" y1="352.7" x2="134.4" y2="352.3"/><line x1="139.8" y1="353.2" x2="140.2" y2="351.8"/><line x1="145.9" y1="351.9" x2="146.6" y2="353.1"/><line x1="153.1" y1="352.9" x2="151.9" y2="352.1"/><line x1="159.2" y1="353.0" x2="158.3" y2="352.0"/><line x1="165.4" y1="353.1" x2="164.6" y2="351.9"/><line x1="171.9" y1="352.8" x2="170.6" y2="352.2"/><line x1="40.7" y1="358.8" x2="39.3" y2="358.7"/><line x1="45.6" y1="358.7" x2="46.9" y2="358.8"/><line x1="51.8" y1="358.7" x2="53.2" y2="358.8"/><line x1="58.7" y1="359.4" x2="58.8" y2="358.1"/><line x1="64.7" y1="359.4" x2="65.3" y2="358.1"/><line x1="71.8" y1="358.4" x2="70.7" y2="359.1"/><line x1="77.8" y1="359.4" x2="77.2" y2="358.1"/><line x1="83.1" y1="358.8" x2="84.4" y2="358.7"/><line x1="89.3" y1="358.6" x2="90.7" y2="358.9"/><line x1="95.7" y1="358.3" x2="96.8" y2="359.2"/><line x1="103.1" y1="358.5" x2="101.9" y2="359.0"/><line x1="108.2" y1="358.3" x2="109.3" y2="359.2"/><line x1="115.2" y1="358.1" x2="114.8" y2="359.4"/><line x1="121.0" y1="358.1" x2="121.5" y2="359.4"/><line x1="126.8" y1="358.6" x2="128.2" y2="358.9"/><line x1="133.2" y1="359.2" x2="134.3" y2="358.3"/><line x1="139.3" y1="358.7" x2="140.7" y2="358.8"/><line x1="146.9" y1="358.7" x2="145.6" y2="358.8"/><line x1="152.3" y1="358.1" x2="152.7" y2="359.4"/><line x1="158.1" y1="359.0" x2="159.4" y2="358.5"/><line x1="165.4" y1="358.1" x2="164.6" y2="359.4"/><line x1="170.8" y1="359.3" x2="171.7" y2="358.2"/><line x1="39.5" y1="365.5" x2="40.5" y2="364.5"/><line x1="46.8" y1="364.6" x2="45.7" y2="365.4"/><line x1="52.3" y1="364.3" x2="52.7" y2="365.7"/><line x1="58.2" y1="364.6" x2="59.3" y2="365.4"/><line x1="65.0" y1="365.7" x2="65.0" y2="364.3"/><line x1="71.9" y1="365.0" x2="70.6" y2="365.0"/><line x1="77.9" y1="365.5" x2="77.1" y2="364.5"/><line x1="84.0" y1="364.3" x2="83.5" y2="365.7"/><line x1="89.5" y1="365.4" x2="90.5" y2="364.6"/><line x1="96.5" y1="365.7" x2="96.0" y2="364.3"/><line x1="101.8" y1="365.1" x2="103.2" y2="364.9"/><line x1="108.1" y1="365.3" x2="109.4" y2="364.7"/><line x1="114.3" y1="365.2" x2="115.7" y2="364.8"/><line x1="120.7" y1="365.4" x2="121.8" y2="364.6"/><line x1="127.0" y1="364.5" x2="128.0" y2="365.5"/><line x1="133.9" y1="364.3" x2="133.6" y2="365.7"/><line x1="140.6" y1="365.4" x2="139.4" y2="364.6"/><line x1="146.6" y1="365.6" x2="145.9" y2="364.4"/><line x1="153.1" y1="364.6" x2="151.9" y2="365.4"/><line x1="159.0" y1="364.4" x2="158.5" y2="365.6"/><line x1="165.3" y1="364.4" x2="164.7" y2="365.6"/><line x1="170.6" y1="364.7" x2="171.9" y2="365.3"/><line x1="40.0" y1="371.9" x2="40.0" y2="370.6"/><line x1="46.1" y1="370.6" x2="46.4" y2="371.9"/><line x1="51.8" y1="371.2" x2="53.2" y2="371.3"/><line x1="59.4" y1="371.2" x2="58.1" y2="371.3"/><line x1="65.1" y1="371.9" x2="64.9" y2="370.6"/><line x1="71.3" y1="370.6" x2="71.2" y2="371.9"/><line x1="77.4" y1="371.9" x2="77.6" y2="370.6"/><line x1="84.4" y1="371.4" x2="83.1" y2="371.1"/><line x1="90.0" y1="371.9" x2="90.0" y2="370.6"/><line x1="96.9" y1="371.5" x2="95.6" y2="371.0"/><line x1="102.4" y1="371.9" x2="102.6" y2="370.6"/><line x1="108.1" y1="371.3" x2="109.4" y2="371.2"/><line x1="115.2" y1="370.6" x2="114.8" y2="371.9"/><line x1="121.2" y1="370.6" x2="121.3" y2="371.9"/><line x1="127.4" y1="371.9" x2="127.6" y2="370.6"/><line x1="134.2" y1="371.8" x2="133.3" y2="370.7"/><line x1="140.6" y1="370.9" x2="139.4" y2="371.6"/><line x1="146.1" y1="371.9" x2="146.4" y2="370.6"/><line x1="152.0" y1="371.8" x2="153.0" y2="370.7"/><line x1="158.3" y1="370.7" x2="159.2" y2="371.8"/><line x1="165.0" y1="370.6" x2="165.0" y2="371.9"/><line x1="171.9" y1="371.2" x2="170.6" y2="371.3"/><line x1="39.5" y1="377.0" x2="40.5" y2="378.0"/><line x1="46.1" y1="378.2" x2="46.4" y2="376.8"/><line x1="53.2" y1="377.4" x2="51.8" y2="377.6"/><line x1="59.4" y1="377.8" x2="58.1" y2="377.2"/><line x1="64.9" y1="378.2" x2="65.1" y2="376.8"/><line x1="71.5" y1="378.1" x2="71.0" y2="376.9"/><line x1="77.6" y1="376.8" x2="77.4" y2="378.2"/><line x1="84.3" y1="377.9" x2="83.2" y2="377.1"/><line x1="90.4" y1="376.9" x2="89.6" y2="378.1"/><line x1="96.8" y1="377.9" x2="95.7" y2="377.1"/><line x1="103.1" y1="377.2" x2="101.9" y2="377.8"/><line x1="109.4" y1="377.7" x2="108.1" y2="377.3"/><line x1="114.3" y1="377.6" x2="115.7" y2="377.4"/><line x1="121.7" y1="378.0" x2="120.8" y2="377.0"/><line x1="126.9" y1="377.9" x2="128.1" y2="377.1"/><line x1="133.1" y1="377.8" x2="134.4" y2="377.2"/><line x1="139.8" y1="376.8" x2="140.2" y2="378.2"/><line x1="145.8" y1="378.0" x2="146.7" y2="377.0"/><line x1="152.6" y1="378.2" x2="152.4" y2="376.8"/><line x1="159.4" y1="377.1" x2="158.1" y2="377.9"/><line x1="164.9" y1="378.2" x2="165.1" y2="376.8"/><line x1="171.8" y1="377.9" x2="170.7" y2="377.1"/><line x1="39.9" y1="383.1" x2="40.1" y2="384.4"/><line x1="46.8" y1="383.3" x2="45.7" y2="384.2"/><line x1="51.8" y1="383.6" x2="53.2" y2="383.9"/><line x1="58.1" y1="383.5" x2="59.4" y2="384.0"/><line x1="65.1" y1="384.4" x2="64.9" y2="383.1"/><line x1="70.7" y1="384.2" x2="71.8" y2="383.3"/><line x1="77.9" y1="383.2" x2="77.1" y2="384.3"/><line x1="84.3" y1="383.3" x2="83.2" y2="384.2"/><line x1="89.8" y1="384.4" x2="90.2" y2="383.1"/><line x1="96.8" y1="384.2" x2="95.7" y2="383.3"/><line x1="101.8" y1="383.7" x2="103.2" y2="383.8"/><line x1="108.1" y1="383.5" x2="109.4" y2="384.0"/><line x1="115.1" y1="384.4" x2="114.9" y2="383.1"/><line x1="121.5" y1="384.4" x2="121.0" y2="383.1"/><line x1="128.2" y1="383.6" x2="126.8" y2="383.9"/><line x1="133.3" y1="383.2" x2="134.2" y2="384.3"/><line x1="139.7" y1="384.4" x2="140.3" y2="383.1"/><line x1="146.4" y1="383.1" x2="146.1" y2="384.4"/><line x1="152.2" y1="384.4" x2="152.8" y2="383.1"/><line x1="159.2" y1="384.3" x2="158.3" y2="383.2"/><line x1="164.3" y1="383.9" x2="165.7" y2="383.6"/><line x1="170.6" y1="383.7" x2="171.9" y2="383.8"/><line x1="39.8" y1="389.3" x2="40.2" y2="390.7"/><line x1="45.6" y1="390.0" x2="46.9" y2="390.0"/><line x1="52.0" y1="389.5" x2="53.0" y2="390.5"/><line x1="58.1" y1="389.8" x2="59.4" y2="390.2"/><line x1="65.6" y1="390.3" x2="64.4" y2="389.7"/><line x1="70.9" y1="390.6" x2="71.6" y2="389.4"/><line x1="78.0" y1="390.4" x2="77.0" y2="389.6"/><line x1="83.3" y1="389.4" x2="84.2" y2="390.6"/><line x1="89.3" y1="389.8" x2="90.7" y2="390.2"/><line x1="96.8" y1="389.6" x2="95.7" y2="390.4"/><line x1="102.8" y1="390.6" x2="102.2" y2="389.4"/><line x1="108.3" y1="389.4" x2="109.2" y2="390.6"/><line x1="115.5" y1="390.5" x2="114.5" y2="389.5"/><line x1="120.9" y1="390.6" x2="121.6" y2="389.4"/><line x1="127.2" y1="389.4" x2="127.8" y2="390.6"/><line x1="133.4" y1="389.4" x2="134.1" y2="390.6"/><line x1="140.5" y1="389.5" x2="139.5" y2="390.5"/><line x1="145.6" y1="389.7" x2="146.9" y2="390.3"/><line x1="152.4" y1="389.3" x2="152.6" y2="390.7"/><line x1="159.2" y1="389.4" x2="158.3" y2="390.6"/><line x1="164.3" y1="389.8" x2="165.7" y2="390.2"/><line x1="171.2" y1="389.3" x2="171.3" y2="390.7"/><line x1="39.9" y1="395.6" x2="40.1" y2="396.9"/><line x1="45.8" y1="395.7" x2="46.7" y2="396.8"/><line x1="52.0" y1="396.7" x2="53.0" y2="395.8"/><line x1="59.2" y1="396.8" x2="58.3" y2="395.7"/><line x1="64.9" y1="396.9" x2="65.1" y2="395.6"/><line x1="71.5" y1="395.6" x2="71.0" y2="396.9"/><line x1="78.0" y1="396.7" x2="77.0" y2="395.8"/><line x1="84.4" y1="396.1" x2="83.1" y2="396.4"/><line x1="90.4" y1="395.7" x2="89.6" y2="396.8"/><line x1="95.6" y1="396.5" x2="96.9" y2="396.0"/><line x1="101.8" y1="396.5" x2="103.2" y2="396.0"/><line x1="109.2" y1="396.8" x2="108.3" y2="395.7"/><line x1="114.6" y1="396.8" x2="115.4" y2="395.7"/><line x1="120.7" y1="395.8" x2="121.8" y2="396.7"/><line x1="126.8" y1="396.1" x2="128.2" y2="396.4"/><line x1="133.1" y1="395.9" x2="134.4" y2="396.6"/><line x1="139.3" y1="396.3" x2="140.7" y2="396.2"/><line x1="146.0" y1="395.6" x2="146.5" y2="396.9"/><line x1="152.1" y1="396.8" x2="152.9" y2="395.7"/><line x1="158.1" y1="396.0" x2="159.4" y2="396.5"/><line x1="164.5" y1="395.8" x2="165.5" y2="396.7"/><line x1="170.6" y1="396.0" x2="171.9" y2="396.5"/><line x1="40.3" y1="401.9" x2="39.7" y2="403.1"/><line x1="46.2" y1="403.2" x2="46.3" y2="401.8"/><line x1="52.2" y1="401.8" x2="52.8" y2="403.2"/><line x1="58.4" y1="401.9" x2="59.1" y2="403.1"/><line x1="64.6" y1="401.9" x2="65.4" y2="403.1"/><line x1="70.6" y1="402.4" x2="71.9" y2="402.6"/><line x1="78.1" y1="402.2" x2="76.9" y2="402.8"/><line x1="84.0" y1="403.2" x2="83.5" y2="401.8"/><line x1="89.9" y1="401.8" x2="90.1" y2="403.2"/><line x1="96.2" y1="403.2" x2="96.3" y2="401.8"/><line x1="101.8" y1="402.6" x2="103.2" y2="402.4"/><line x1="108.1" y1="402.4" x2="109.4" y2="402.6"/><line x1="114.5" y1="402.0" x2="115.5" y2="403.0"/><line x1="120.6" y1="402.6" x2="121.9" y2="402.4"/><line x1="127.9" y1="403.1" x2="127.1" y2="401.9"/><line x1="133.3" y1="402.0" x2="134.2" y2="403.0"/><line x1="139.8" y1="403.2" x2="140.2" y2="401.8"/><line x1="146.9" y1="402.7" x2="145.6" y2="402.3"/><line x1="151.9" y1="402.8" x2="153.1" y2="402.2"/><line x1="158.1" y1="402.4" x2="159.4" y2="402.6"/><line x1="165.2" y1="403.2" x2="164.8" y2="401.8"/><line x1="170.7" y1="403.0" x2="171.8" y2="402.0"/><line x1="39.7" y1="409.4" x2="40.3" y2="408.1"/><line x1="45.8" y1="408.2" x2="46.7" y2="409.3"/><line x1="53.0" y1="409.2" x2="52.0" y2="408.3"/><line x1="59.1" y1="408.1" x2="58.4" y2="409.4"/><line x1="65.1" y1="409.4" x2="64.9" y2="408.1"/><line x1="71.3" y1="408.1" x2="71.2" y2="409.4"/><line x1="77.3" y1="409.4" x2="77.7" y2="408.1"/><line x1="84.2" y1="408.3" x2="83.3" y2="409.2"/><line x1="89.6" y1="408.2" x2="90.4" y2="409.3"/><line x1="96.9" y1="408.6" x2="95.6" y2="408.9"/><line x1="102.6" y1="408.1" x2="102.4" y2="409.4"/><line x1="108.1" y1="408.6" x2="109.4" y2="408.9"/><line x1="114.3" y1="408.9" x2="115.7" y2="408.6"/><line x1="120.8" y1="409.2" x2="121.7" y2="408.3"/><line x1="127.0" y1="408.3" x2="128.0" y2="409.2"/><line x1="134.4" y1="408.5" x2="133.1" y2="409.0"/><line x1="140.2" y1="409.4" x2="139.8" y2="408.1"/><line x1="145.6" y1="408.9" x2="146.9" y2="408.6"/><line x1="153.2" y1="408.8" x2="151.8" y2="408.7"/><line x1="159.0" y1="409.4" x2="158.5" y2="408.1"/><line x1="164.4" y1="408.3" x2="165.6" y2="409.2"/><line x1="170.8" y1="408.2" x2="171.7" y2="409.3"/></g>
<g fill="none" stroke="#2a2a2a" stroke-width="0.45" opacity="0.80"><polyline points="141.9,248.8 144.6,247.4 146.2,249.4 148.2,247.9 151.7,248.5 154.9,248.5 157.6,247.6 160.4,249.5"/><polyline points="143.0,252.4 145.7,251.2 147.3,252.6 149.7,252.3 153.0,252.3"/><polyline points="144.2,254.3 147.5,252.1 149.2,252.4 152.7,253.0 155.4,252.6 157.9,252.9 160.1,253.4 162.8,254.2"/><polyline points="144.7,256.8 146.5,257.3 150.0,257.4 152.6,256.9 154.5,257.2 157.2,255.8 158.8,257.3 162.3,255.3 165.4,256.1 167.2,255.8 170.2,257.3 171.8,256.7 173.4,256.9"/><polyline points="145.8,259.7 147.9,257.3 150.6,257.2 152.5,258.2 155.3,257.5 156.8,259.4 159.0,259.6 162.3,258.1 164.7,258.5 167.5,258.7"/><polyline points="145.5,259.8 148.4,259.3 150.5,261.3 153.1,260.2 154.6,259.8 157.2,258.8 160.0,260.4 161.6,260.4 164.0,260.5 166.2,260.6"/><polyline points="137.5,262.2 139.5,260.9 142.2,260.5 144.5,260.5 146.7,261.2 148.8,260.7 151.8,259.7 154.5,261.6 156.6,260.3 159.7,260.3 161.6,260.8"/></g>
<g fill="none" stroke="#2a2a2a" stroke-width="0.45" opacity="0.60"><polyline points="121.9,249.1 123.6,249.7 126.9,250.8 129.9,249.2"/><polyline points="122.6,252.3 125.9,253.9 129.0,253.8 130.9,252.6"/><polyline points="128.7,255.9 131.4,257.4 133.9,256.1"/></g>
<g fill="none" stroke="#2a2a2a" stroke-width="0.45" opacity="0.60"><polyline points="162.9,290.7 164.4,291.3 166.5,292.4 169.4,291.9 172.0,292.0 173.8,291.5"/><polyline points="157.5,294.7 160.4,295.4 162.7,296.7 164.2,294.7 167.6,295.8 169.3,297.1"/><polyline points="160.8,297.1 163.6,296.7 166.4,296.4 168.3,298.4 170.6,297.3"/></g>
<rect x="144.0" y="259.3" width="31.0" height="1.4" fill="#444" opacity="0.7"/>
<g fill="none" stroke="#223" stroke-width="0.40" opacity="0.55"><polyline points="150.2,267.0 152.1,267.8 155.3,267.1 157.8,266.4 159.3,266.7 161.9,265.9 165.0,266.3 167.0,265.9"/><polyline points="151.9,270.4 154.0,271.6 155.8,272.8 158.0,270.7 161.1,270.6 164.5,271.5 167.1,271.2 169.6,270.8 171.1,272.6"/><polyline points="145.9,276.2 148.9,275.8 151.5,275.7 153.3,275.1 156.4,274.4 159.8,276.1 162.1,274.8 164.5,274.8 168.0,274.8 169.6,274.1"/><polyline points="148.5,279.1 151.5,278.3 154.2,279.1 156.9,278.2 158.8,278.6 162.1,278.6 164.8,278.5"/><polyline points="151.3,280.2 154.2,281.0 157.5,281.8 159.8,281.8 163.2,280.8 166.5,280.5 168.7,279.9 172.0,279.7"/><polyline points="151.0,286.3 152.6,284.8 154.6,285.3 156.5,284.3 158.7,286.5 162.1,286.1 164.6,284.8 168.0,285.5"/><polyline points="145.9,288.1 149.2,287.6 151.5,287.6 154.7,286.8 157.3,286.8 160.3,286.1 163.2,288.5 164.7,287.6 167.5,288.3"/></g>
<polygon points="36.0,295.5 46.0,299.0 54.0,303.5 62.0,309.0 70.0,316.0 80.0,325.0 90.0,335.0 100.0,343.5 108.0,351.0 115.5,359.0 122.0,366.0 127.5,371.0 133.0,377.0 138.0,381.0 144.0,383.5 150.0,385.5 156.0,388.0 165.0,390.5 175.0,392.0 175.0,392.0 175.0,410.0 36.0,410.0" fill="#d4d4d4" /><polygon points="36.0,310.4 46.0,312.4 54.2,317.3 59.8,322.1 62.0,325.0 65.0,330.0 67.0,338.0 69.1,344.2 71.1,347.2 75.1,350.2 76.6,355.2 75.1,361.3 70.0,365.0 64.0,369.0 60.0,376.0 52.0,382.0 36.0,387.0" fill="#c2c2c2" /><polygon points="36.0,392.0 50.0,389.0 58.0,386.0 66.0,383.0 76.0,380.0 86.0,376.0 96.0,374.0 108.0,376.0 118.0,378.5 124.0,381.0 128.0,385.0 129.5,391.0 131.0,396.0 134.0,398.5 142.0,396.0 150.0,397.0 160.0,397.5 175.0,397.0 175.0,410.0 36.0,410.0" fill="#c2c2c2" /><polyline points="36.0,295.5 46.0,299.0 54.0,303.5 62.0,309.0 70.0,316.0 80.0,325.0 90.0,335.0 100.0,343.5 108.0,351.0 115.5,359.0 122.0,366.0 127.5,371.0 133.0,377.0 138.0,381.0 144.0,383.5 150.0,385.5 156.0,388.0 165.0,390.5 175.0,392.0" fill="none" stroke="#333" stroke-width="0.55" /><polyline points="36.0,310.4 46.0,312.4 54.2,317.3 59.8,322.1 62.0,325.0 65.0,330.0 67.0,338.0 69.1,344.2 71.1,347.2 75.1,350.2 76.6,355.2 75.1,361.3 70.0,365.0 64.0,369.0 60.0,376.0 52.0,382.0 36.0,387.0" fill="none" stroke="#444" stroke-width="0.50" /><polyline points="36.0,392.0 50.0,389.0 58.0,386.0 66.0,383.0 76.0,380.0 86.0,376.0 96.0,374.0 108.0,376.0 118.0,378.5 124.0,381.0 128.0,385.0 129.5,391.0 131.0,396.0 134.0,398.5 142.0,396.0 150.0,397.0 160.0,397.5" fill="none" stroke="#444" stroke-width="0.50" /><polyline points="36.0,383.0 50.0,378.0 62.0,372.0 70.0,366.0 78.0,362.0" fill="none" stroke="#666" stroke-width="0.45" /><polyline points="62.0,372.0 66.0,378.0 72.0,372.0 80.0,368.0 86.0,370.0" fill="none" stroke="#777" stroke-width="0.40" /><text x="44.0" y="368.5" font-size="5.6" text-anchor="start" fill="#222" font-weight="normal" font-style="italic" font-family="Liberation Serif" >Amazon</text><text x="82.0" y="396.0" font-size="5.6" text-anchor="start" fill="#222" font-weight="normal" font-style="italic" font-family="Liberation Serif" >Para</text><text x="132.6" y="403.0" font-size="5.6" text-anchor="start" fill="#222" font-weight="normal" font-style="italic" font-family="Liberation Serif" >Maroni</text><text x="51.5" y="307.5" font-size="4.8" text-anchor="start" fill="#111" font-weight="bold" >F</text><text x="70.3" y="326.0" font-size="4.8" text-anchor="start" fill="#111" font-weight="bold" >E</text><text x="101.0" y="353.0" font-size="4.8" text-anchor="start" fill="#111" font-weight="bold" >D</text><text x="111.0" y="363.0" font-size="4.8" text-anchor="start" fill="#111" font-weight="bold" >A</text><text x="121.0" y="369.0" font-size="4.8" text-anchor="start" fill="#111" font-weight="bold" >C</text><text x="142.0" y="387.0" font-size="4.8" text-anchor="start" fill="#111" font-weight="bold" >B</text><line x1="158.0" y1="403.5" x2="162.0" y2="403.5" stroke="#444" stroke-width="0.40" /><text x="163.0" y="404.5" font-size="2.8" text-anchor="start" fill="#444" font-weight="normal" >1m/s</text>
<g filter="url(#b1s)"><polygon points="132.2,247.0 137.2,247.0 137.1,248.8 132.0,248.8" fill="#fff2c4" /><polygon points="138.1,247.0 143.2,247.0 143.0,248.8 138.0,248.8" fill="#ee7a45" /><polygon points="132.0,248.5 137.1,248.5 136.9,250.4 131.8,250.4" fill="#9cc8e2" /><polygon points="138.0,248.5 143.0,248.5 142.8,250.4 137.8,250.4" fill="#9cc8e2" /><polygon points="131.8,250.1 136.9,250.1 136.6,252.3 131.6,252.3" fill="#ee7a45" /><polygon points="137.8,250.1 142.8,250.1 142.6,252.3 137.5,252.3" fill="#fee8a8" /><polygon points="131.6,252.0 136.6,252.0 136.5,253.5 131.4,253.5" fill="#b9dcec" /><polygon points="137.5,252.0 142.6,252.0 142.4,253.5 137.4,253.5" fill="#b9dcec" /><polygon points="131.4,253.2 136.5,253.2 136.3,255.1 131.2,255.1" fill="#f7a35c" /><polygon points="137.4,253.2 142.4,253.2 142.2,255.1 137.2,255.1" fill="#f7a35c" /><polygon points="131.2,254.8 136.3,254.8 136.1,256.6 131.0,256.6" fill="#ee7a45" /><polygon points="137.2,254.8 142.2,254.8 142.0,256.6 137.0,256.6" fill="#9cc8e2" /><polygon points="131.0,256.3 136.1,256.3 135.8,258.4 130.8,258.4" fill="#9cc8e2" /><polygon points="137.0,256.3 142.0,256.3 141.8,258.4 136.7,258.4" fill="#9cc8e2" /><polygon points="130.8,258.1 135.8,258.1 135.6,260.0 130.6,260.0" fill="#f7a35c" /><polygon points="136.7,258.1 141.8,258.1 141.6,260.0 136.5,260.0" fill="#f7a35c" /><polygon points="130.6,259.7 135.6,259.7 135.4,262.1 130.3,262.1" fill="#9cc8e2" /><polygon points="136.5,259.7 141.6,259.7 141.3,262.1 136.3,262.1" fill="#9cc8e2" /><polygon points="130.3,261.8 135.4,261.8 135.2,263.6 130.1,263.6" fill="#ee7a45" /><polygon points="136.3,261.8 141.3,261.8 141.1,263.6 136.1,263.6" fill="#ee7a45" /><polygon points="130.1,263.3 135.2,263.3 135.0,264.8 130.0,264.8" fill="#f4874e" /><polygon points="136.1,263.3 141.1,263.3 141.0,264.8 135.9,264.8" fill="#ee7a45" /><polygon points="130.0,264.5 135.0,264.5 134.9,265.9 129.8,265.9" fill="#fdd38a" /><polygon points="135.9,264.5 141.0,264.5 140.8,265.9 135.8,265.9" fill="#fdd38a" /><polygon points="129.8,265.6 134.9,265.6 134.7,267.2 129.7,267.2" fill="#fff2c4" /><polygon points="135.8,265.6 140.8,265.6 140.7,267.2 135.6,267.2" fill="#fdd38a" /><polygon points="129.7,266.9 134.7,266.9 134.5,269.0 129.4,269.0" fill="#d8eef4" /><polygon points="135.6,266.9 140.7,266.9 140.4,269.0 135.4,269.0" fill="#fff2c4" /><polygon points="129.4,268.7 134.5,268.7 134.3,270.4 129.3,270.4" fill="#fdd38a" /><polygon points="135.4,268.7 140.4,268.7 140.3,270.4 135.2,270.4" fill="#fdd38a" /><polygon points="129.3,270.1 134.3,270.1 134.2,271.5 129.1,271.5" fill="#b9dcec" /><polygon points="135.2,270.1 140.3,270.1 140.1,271.5 135.1,271.5" fill="#b9dcec" /><polygon points="129.1,271.2 134.2,271.2 133.9,273.7 128.9,273.7" fill="#f7a35c" /><polygon points="135.1,271.2 140.1,271.2 139.9,273.7 134.8,273.7" fill="#f7a35c" /><polygon points="128.9,273.4 133.9,273.4 133.6,275.8 128.6,275.8" fill="#ee7a45" /><polygon points="134.8,273.4 139.9,273.4 139.6,275.8 134.5,275.8" fill="#ee7a45" /><polygon points="128.6,275.5 133.6,275.5 133.4,277.6 128.3,277.6" fill="#fdbf6f" /><polygon points="134.5,275.5 139.6,275.5 139.3,277.6 134.3,277.6" fill="#fdbf6f" /><polygon points="128.3,277.3 133.4,277.3 133.2,279.4 128.1,279.4" fill="#b9dcec" /><polygon points="134.3,277.3 139.3,277.3 139.1,279.4 134.1,279.4" fill="#b9dcec" /><polygon points="128.1,279.1 133.2,279.1 133.0,280.8 128.0,280.8" fill="#f7a35c" /><polygon points="134.1,279.1 139.1,279.1 139.0,280.8 133.9,280.8" fill="#fdd38a" /><polygon points="128.0,280.5 133.0,280.5 132.9,281.9 127.8,281.9" fill="#fdd38a" /><polygon points="133.9,280.5 139.0,280.5 138.8,281.9 133.8,281.9" fill="#fdd38a" /><polygon points="127.8,281.6 132.9,281.6 132.7,283.5 127.6,283.5" fill="#ee7a45" /><polygon points="133.8,281.6 138.8,281.6 138.6,283.5 133.6,283.5" fill="#ee7a45" /><polygon points="127.6,283.2 132.7,283.2 132.4,285.1 127.4,285.1" fill="#fff2c4" /><polygon points="133.6,283.2 138.6,283.2 138.4,285.1 133.3,285.1" fill="#fff2c4" /><polygon points="127.4,284.8 132.4,284.8 132.2,287.0 127.2,287.0" fill="#fee8a8" /><polygon points="133.3,284.8 138.4,284.8 138.2,287.0 133.1,287.0" fill="#fee8a8" /><polygon points="127.2,286.7 132.2,286.7 132.0,288.5 127.0,288.5" fill="#fdbf6f" /><polygon points="133.1,286.7 138.2,286.7 138.0,288.5 132.9,288.5" fill="#fdbf6f" /><polygon points="127.0,288.2 132.0,288.2 131.9,289.7 126.8,289.7" fill="#b9dcec" /><polygon points="132.9,288.2 138.0,288.2 137.8,289.7 132.8,289.7" fill="#9cc8e2" /><polygon points="126.8,289.4 131.9,289.4 131.7,291.1 126.6,291.1" fill="#f7a35c" /><polygon points="132.8,289.4 137.8,289.4 137.6,291.1 132.6,291.1" fill="#f7a35c" /><polygon points="126.6,290.8 131.7,290.8 131.5,292.6 126.5,292.6" fill="#9cc8e2" /><polygon points="132.6,290.8 137.6,290.8 137.5,292.6 132.4,292.6" fill="#fdd38a" /><polygon points="126.5,292.3 131.5,292.3 131.4,293.6 126.3,293.6" fill="#fee8a8" /><polygon points="132.4,292.3 137.5,292.3 137.3,293.6 132.3,293.6" fill="#fee8a8" /><polygon points="126.3,293.3 131.4,293.3 131.2,294.9 126.2,294.9" fill="#9cc8e2" /><polygon points="132.3,293.3 137.3,293.3 137.2,294.9 132.1,294.9" fill="#9cc8e2" /><polygon points="126.2,294.6 131.2,294.6 131.0,296.3 126.0,296.3" fill="#fdd38a" /><polygon points="132.1,294.6 137.2,294.6 137.0,296.3 131.9,296.3" fill="#fdd38a" /><polygon points="126.0,296.0 131.0,296.0 130.9,297.5 125.8,297.5" fill="#f4874e" /><polygon points="131.9,296.0 137.0,296.0 136.8,297.5 131.8,297.5" fill="#f4874e" /><polygon points="125.8,297.2 130.9,297.2 130.7,299.0 125.6,299.0" fill="#9cc8e2" /><polygon points="131.8,297.2 136.8,297.2 136.6,299.0 131.6,299.0" fill="#9cc8e2" /><polygon points="125.6,298.7 130.7,298.7 130.4,301.1 125.4,301.1" fill="#ee7a45" /><polygon points="131.6,298.7 136.6,298.7 136.4,301.1 131.3,301.1" fill="#fee8a8" /><polygon points="125.4,300.8 130.4,300.8 130.2,303.2 125.1,303.2" fill="#fee8a8" /><polygon points="131.3,300.8 136.4,300.8 136.1,303.2 131.1,303.2" fill="#b9dcec" /><polygon points="125.1,302.9 130.2,302.9 129.9,305.3 124.8,305.3" fill="#9cc8e2" /><polygon points="131.1,302.9 136.1,302.9 135.8,305.3 130.8,305.3" fill="#9cc8e2" /><polygon points="124.8,305.0 129.9,305.0 129.7,306.5 124.7,306.5" fill="#fff2c4" /><polygon points="130.8,305.0 135.8,305.0 135.7,306.5 130.6,306.5" fill="#fff2c4" /><polygon points="124.7,306.2 129.7,306.2 129.5,308.6 124.4,308.6" fill="#ee7a45" /><polygon points="130.6,306.2 135.7,306.2 135.4,308.6 130.4,308.6" fill="#fdbf6f" /><polygon points="124.4,308.3 129.5,308.3 129.3,309.7 124.3,309.7" fill="#fdd38a" /><polygon points="130.4,308.3 135.4,308.3 135.3,309.7 130.2,309.7" fill="#fdd38a" /><polygon points="124.3,309.4 129.3,309.4 129.1,311.8 124.0,311.8" fill="#f4874e" /><polygon points="130.2,309.4 135.3,309.4 135.0,311.8 130.0,311.8" fill="#fdbf6f" /><polygon points="124.0,311.5 129.1,311.5 128.9,313.2 123.8,313.2" fill="#9cc8e2" /><polygon points="130.0,311.5 135.0,311.5 134.8,313.2 129.8,313.2" fill="#9cc8e2" /><polygon points="123.8,312.9 128.9,312.9 128.7,314.8 123.6,314.8" fill="#fdd38a" /><polygon points="129.8,312.9 134.8,312.9 134.6,314.8 129.6,314.8" fill="#fdd38a" /><polygon points="123.6,314.5 128.7,314.5 128.5,316.4 123.4,316.4" fill="#9cc8e2" /><polygon points="129.6,314.5 134.6,314.5 134.4,316.4 129.4,316.4" fill="#b9dcec" /><polygon points="123.4,316.1 128.5,316.1 128.3,317.6 123.3,317.6" fill="#f4874e" /><polygon points="129.4,316.1 134.4,316.1 134.3,317.6 129.2,317.6" fill="#fdd38a" /><polygon points="123.3,317.3 128.3,317.3 128.2,318.3 123.2,318.3" fill="#ee7a45" /><polygon points="129.2,317.3 134.3,317.3 134.2,318.3 129.1,318.3" fill="#ee7a45" /></g><g filter="url(#b1s)"><polygon points="123.2,318.0 128.2,318.0 127.9,321.1 122.8,321.1" fill="#fba35e" /><polygon points="129.1,318.0 134.2,318.0 133.8,321.1 128.8,321.1" fill="#fba35e" /><polygon points="122.8,320.8 127.9,320.8 127.3,325.4 122.3,325.4" fill="#fde6a0" /><polygon points="128.8,320.8 133.8,320.8 133.3,325.4 128.2,325.4" fill="#fde6a0" /><polygon points="122.3,325.1 127.3,325.1 126.9,329.0 121.8,329.0" fill="#f9c77a" /><polygon points="128.2,325.1 133.3,325.1 132.8,329.0 127.8,329.0" fill="#f9c77a" /><polygon points="121.8,328.7 126.9,328.7 126.5,331.9 121.5,331.9" fill="#fba35e" /><polygon points="127.8,328.7 132.8,328.7 132.5,331.9 127.4,331.9" fill="#fba35e" /><polygon points="121.5,331.6 126.5,331.6 126.0,335.9 120.9,335.9" fill="#fde6a0" /><polygon points="127.4,331.6 132.5,331.6 131.9,335.9 126.9,335.9" fill="#fde6a0" /><polygon points="120.9,335.6 126.0,335.6 125.6,339.0 120.6,339.0" fill="#e9553a" /><polygon points="126.9,335.6 131.9,335.6 131.6,339.0 126.5,339.0" fill="#e9553a" /><polygon points="120.6,338.7 125.6,338.7 125.0,343.7 120.0,343.7" fill="#fba35e" /><polygon points="126.5,338.7 131.6,338.7 131.0,343.7 125.9,343.7" fill="#fba35e" /><polygon points="120.0,343.4 125.0,343.4 124.4,348.6 119.3,348.6" fill="#ffefb8" /><polygon points="125.9,343.4 131.0,343.4 130.3,348.6 125.3,348.6" fill="#a9d2ea" /><polygon points="119.3,348.3 124.4,348.3 123.9,352.6 118.8,352.6" fill="#c62a24" /><polygon points="125.3,348.3 130.3,348.3 129.8,352.6 124.8,352.6" fill="#c62a24" /><polygon points="118.8,352.3 123.9,352.3 123.6,355.1 118.5,355.1" fill="#a9d2ea" /><polygon points="124.8,352.3 129.8,352.3 129.5,355.1 124.5,355.1" fill="#a9d2ea" /><polygon points="118.5,354.8 123.6,354.8 123.2,357.8 118.2,357.8" fill="#ffefb8" /><polygon points="124.5,354.8 129.5,354.8 129.2,357.8 124.1,357.8" fill="#a9d2ea" /><polygon points="118.2,357.5 123.2,357.5 122.7,362.2 117.6,362.2" fill="#f27a48" /><polygon points="124.1,357.5 129.2,357.5 128.6,362.2 123.6,362.2" fill="#f27a48" /><polygon points="117.6,361.9 122.7,361.9 122.3,365.1 117.2,365.1" fill="#7fb3d8" /><polygon points="123.6,361.9 128.6,361.9 128.2,365.1 123.2,365.1" fill="#7fb3d8" /><polygon points="117.2,364.8 122.3,364.8 121.8,368.6 116.8,368.6" fill="#c62a24" /><polygon points="123.2,364.8 128.2,364.8 127.8,368.6 122.7,368.6" fill="#c62a24" /><polygon points="116.8,368.3 121.8,368.3 121.4,372.1 116.4,372.1" fill="#a9d2ea" /><polygon points="122.7,368.3 127.8,368.3 127.4,372.1 122.3,372.1" fill="#f9c77a" /><polygon points="116.4,371.8 121.4,371.8 120.8,376.8 115.8,376.8" fill="#fba35e" /><polygon points="122.3,371.8 127.4,371.8 126.8,376.8 121.7,376.8" fill="#fba35e" /><polygon points="115.8,376.5 120.8,376.5 120.5,379.3 115.4,379.3" fill="#f27a48" /><polygon points="121.7,376.5 126.8,376.5 126.4,379.3 121.4,379.3" fill="#f27a48" /></g>
<path d="M36.0,287.8 C36.7,285.2 38.5,281.5 40.0,279.0 C41.5,276.5 43.3,274.2 45.0,273.0 C46.7,271.8 48.0,271.5 50.0,271.6 C52.0,271.7 55.1,272.0 57.1,273.8 C59.1,275.6 61.3,279.2 62.0,282.2 C62.7,285.2 62.7,289.3 61.4,292.0 C60.1,294.7 56.9,297.4 54.3,298.4 C51.7,299.3 48.9,298.3 45.9,297.7 C42.9,297.1 37.6,296.5 36.0,294.9 C34.4,293.2 35.3,290.4 36.0,287.8 Z" fill="none" stroke="#d94a4a" stroke-width="0.90" />
<path d="M84.6,281.1 C84.9,280.1 86.2,279.8 88.1,278.1 C90.0,276.4 93.9,272.7 96.1,271.1 C98.3,269.5 99.5,268.4 101.2,268.6 C102.9,268.8 104.5,270.4 106.2,272.1 C107.9,273.9 109.8,276.4 111.2,279.1 C112.6,281.8 114.0,285.4 114.7,288.2 C115.4,291.0 115.6,294.0 115.2,296.2 C114.8,298.4 113.7,300.4 112.2,301.2 C110.7,302.0 108.4,301.9 106.2,301.2 C104.0,300.5 101.4,299.0 99.1,297.2 C96.8,295.4 94.3,292.4 92.1,290.2 C89.9,288.0 87.3,285.6 86.1,284.1 C84.8,282.6 84.3,282.1 84.6,281.1 Z" fill="none" stroke="#d94a4a" stroke-width="0.90" />
<path d="M69.5,301.1 C69.9,299.5 70.7,296.8 72.1,295.5 C73.5,294.2 75.9,293.6 78.1,293.5 C80.3,293.4 82.4,293.7 85.1,295.0 C87.8,296.3 91.3,298.9 94.2,301.1 C97.1,303.3 100.5,306.2 102.2,308.1 C103.9,310.0 104.6,311.2 104.3,312.6 C104.0,314.0 102.2,315.6 100.2,316.7 C98.2,317.8 94.9,318.6 92.2,319.2 C89.5,319.8 86.4,320.5 84.1,320.2 C81.8,319.9 80.1,318.7 78.1,317.2 C76.1,315.7 73.5,313.1 72.1,311.1 C70.7,309.1 69.9,306.8 69.5,305.1 C69.1,303.4 69.1,302.7 69.5,301.1 Z" fill="none" stroke="#4d9d4d" stroke-width="0.90" />
<path d="M64.2,247.0 C64.2,248.0 64.0,251.2 64.5,253.0 C65.0,254.8 65.8,256.8 67.0,258.0 C68.2,259.2 70.3,260.1 72.0,260.4 C73.7,260.6 75.6,260.4 77.0,259.5 C78.4,258.6 79.7,256.8 80.5,255.0 C81.3,253.2 81.6,250.3 81.8,249.0 C82.0,247.7 81.5,247.3 81.5,247.0 " fill="none" stroke="#4d9d4d" stroke-width="0.90" />
<path d="M100.0,247.0 C100.1,247.7 99.8,249.8 100.5,251.0 C101.2,252.2 102.4,253.9 104.0,254.5 C105.6,255.1 108.2,255.1 110.0,254.7 C111.8,254.3 114.0,253.3 115.0,252.0 C116.0,250.7 115.8,247.8 116.0,247.0 " fill="none" stroke="#4d9d4d" stroke-width="0.90" />
<path d="M45.2,247.0 C45.5,247.4 45.7,248.8 47.0,249.5 C48.3,250.2 51.0,251.0 53.0,251.2 C55.0,251.4 57.5,251.1 59.0,250.5 C60.5,249.9 61.5,248.0 62.0,247.5 " fill="none" stroke="#d94a4a" stroke-width="0.90" />
<path d="M158.8,262.3 C161.8,262.1 164.7,263.2 167.0,264.5 C169.3,265.8 171.5,267.9 172.5,270.0 C173.5,272.1 173.4,274.7 173.2,277.0 C172.9,279.3 172.4,281.8 171.0,284.0 C169.6,286.2 167.2,288.8 165.0,290.0 C162.8,291.2 160.5,291.3 158.0,291.0 C155.5,290.7 152.1,289.7 150.0,288.0 C147.9,286.3 146.3,283.5 145.5,281.0 C144.7,278.5 144.4,275.5 145.0,273.0 C145.6,270.5 146.7,267.8 149.0,266.0 C151.3,264.2 155.8,262.6 158.8,262.3 Z" fill="none" stroke="#d94a4a" stroke-width="0.90" />
<rect x="123.9" y="247.2" width="51.5" height="50.4" fill="none" stroke="#444" stroke-width="0.7"/>
</g>
<text x="37.5" y="259.5" font-size="10.0" text-anchor="start" fill="#0a0a0a" font-weight="bold" >d)</text>
<text x="39.3" y="405.0" font-size="14.8" text-anchor="start" fill="#0a0a0a" font-weight="normal" >NE</text>
<g clip-path="url(#ce)">
<rect x="183.0" y="247.0" width="141.0" height="162.0" fill="#f7ead6" />
<g filter="url(#b6)">
<ellipse cx="205.0" cy="258.0" rx="30.0" ry="16.0" transform="rotate(0.0 205.0 258.0)" fill="#d3e4f1" />
<ellipse cx="190.0" cy="300.0" rx="12.0" ry="30.0" transform="rotate(0.0 190.0 300.0)" fill="#d6e6f2" />
<ellipse cx="232.0" cy="285.0" rx="16.0" ry="22.0" transform="rotate(-20.0 232.0 285.0)" fill="#d0e2f0" />
<ellipse cx="262.0" cy="300.0" rx="40.0" ry="8.0" transform="rotate(10.0 262.0 300.0)" fill="#d6e6f2" />
<ellipse cx="293.0" cy="314.0" rx="20.0" ry="17.0" transform="rotate(0.0 293.0 314.0)" fill="#cfe1ef" />
<ellipse cx="262.0" cy="352.0" rx="14.0" ry="30.0" transform="rotate(-35.0 262.0 352.0)" fill="#d6e7f2" />
<ellipse cx="230.0" cy="330.0" rx="14.0" ry="8.0" transform="rotate(30.0 230.0 330.0)" fill="#dae8f2" />
<ellipse cx="264.0" cy="252.0" rx="14.0" ry="12.0" transform="rotate(0.0 264.0 252.0)" fill="#d0e2f0" />
<ellipse cx="298.0" cy="350.0" rx="26.0" ry="20.0" transform="rotate(0.0 298.0 350.0)" fill="#f8dcc0" />
<ellipse cx="300.0" cy="382.0" rx="22.0" ry="10.0" transform="rotate(0.0 300.0 382.0)" fill="#eef0ee" />
<ellipse cx="318.0" cy="330.0" rx="10.0" ry="25.0" transform="rotate(0.0 318.0 330.0)" fill="#f8dcc0" />
<ellipse cx="205.0" cy="287.0" rx="20.0" ry="18.0" transform="rotate(0.0 205.0 287.0)" fill="#f3c09c" />
<ellipse cx="254.0" cy="321.0" rx="20.0" ry="18.0" transform="rotate(0.0 254.0 321.0)" fill="#f3c09c" />
<ellipse cx="264.0" cy="277.0" rx="18.0" ry="12.0" transform="rotate(8.0 264.0 277.0)" fill="#f5d2b2" />
<ellipse cx="308.0" cy="274.0" rx="12.0" ry="15.0" transform="rotate(0.0 308.0 274.0)" fill="#f6dcc2" />
</g>
<ellipse cx="205.0" cy="287.0" rx="14.0" ry="13.0" transform="rotate(0.0 205.0 287.0)" fill="url(#gRed)" />
<ellipse cx="254.5" cy="321.5" rx="13.5" ry="12.5" transform="rotate(10.0 254.5 321.5)" fill="url(#gRed)" />
<ellipse cx="264.0" cy="277.0" rx="14.0" ry="9.5" transform="rotate(8.0 264.0 277.0)" fill="url(#gPink)" />
<ellipse cx="308.3" cy="274.0" rx="9.0" ry="12.0" transform="rotate(0.0 308.3 274.0)" fill="url(#gPink)" opacity="0.6"/>
<ellipse cx="214.0" cy="255.0" rx="11.0" ry="10.0" transform="rotate(0.0 214.0 255.0)" fill="url(#gBlueL)" />
<ellipse cx="264.5" cy="252.0" rx="10.0" ry="9.0" transform="rotate(0.0 264.5 252.0)" fill="url(#gBlue)" />
<g fill="none" stroke="#223" stroke-width="0.40" opacity="0.50"><polyline points="256.1,250.0 258.7,249.5 261.3,248.7 264.3,249.2"/><polyline points="261.6,251.0 263.4,252.5 265.2,252.3 267.9,250.8 271.0,250.7"/><polyline points="255.9,255.3 257.7,255.1 259.4,255.8 262.3,255.9 263.9,254.2 266.7,255.0 268.5,255.7"/><polyline points="255.3,255.8 258.1,256.0 260.4,254.8 262.2,255.9 265.2,255.8 268.1,256.1"/><polyline points="256.9,258.0 258.5,260.1 261.7,259.8 263.4,259.5 265.2,260.1"/></g>
<g fill="none" stroke="#223" stroke-width="0.40" opacity="0.35"><polyline points="286.3,305.7 289.1,306.5 291.5,305.8 293.1,305.6 295.3,306.7"/><polyline points="283.9,311.5 287.0,310.3 288.7,310.6 291.2,311.3 293.9,310.6"/><polyline points="280.4,314.4 283.6,312.7 286.9,313.3 288.6,314.2"/><polyline points="286.1,318.1 289.2,318.8 291.3,317.8 294.3,316.9"/><polyline points="280.5,320.5 282.3,321.1 285.8,321.0 287.5,320.8 290.5,322.0 293.5,319.7"/></g>
<ellipse cx="235.5" cy="287.0" rx="9.0" ry="12.0" transform="rotate(-20.0 235.5 287.0)" fill="url(#gBlueL)" />
<ellipse cx="294.0" cy="315.0" rx="12.0" ry="11.0" transform="rotate(0.0 294.0 315.0)" fill="url(#gBlue)" />
<g fill="none" stroke="#444" stroke-width="0.45" opacity="0.8"><polyline points="183.5,300.0 193.5,302.5 205.5,307.0 217.5,315.0 231.5,322.0 243.5,330.0 255.5,338.0 265.5,344.0 271.5,348.0 280.0,356.3 291.3,360.6 304.0,363.4 319.5,364.8 323.5,366.0"/><polyline points="183.5,304.0 197.5,307.0 209.5,313.0 223.5,321.0 237.5,330.0 249.5,339.0 259.5,347.0 269.5,355.0 279.5,364.0 289.5,370.0 301.5,374.0 313.5,377.0 323.5,380.0"/><polyline points="261.0,302.0 265.5,305.0 271.5,308.5 277.5,311.0 282.9,314.0 285.5,319.7 289.5,321.0 294.1,322.5 297.5,320.0 302.5,321.0 306.5,323.0 311.0,324.6 316.5,329.6 319.5,333.8 323.5,336.0"/><polyline points="273.5,316.0 278.5,323.0 284.3,328.0 292.7,331.0 297.5,332.0 304.0,333.8 309.5,336.6 313.8,335.2 319.5,338.0 323.5,339.0"/><polyline points="187.5,298.0 199.5,300.0 207.5,302.0 213.5,301.0 219.5,304.0 227.5,306.0 235.5,306.0 243.5,309.0 251.5,312.0 259.5,313.0 265.5,318.0 269.5,322.0"/><polyline points="269.5,372.0 277.5,376.0 287.5,380.0 297.5,384.0 307.5,387.0 317.5,389.0 323.5,390.0"/><polyline points="275.5,340.0 283.5,344.0 291.5,346.0 297.5,350.0 303.5,349.0 309.5,352.0 315.5,356.0 323.5,357.0"/><polyline points="287.5,370.0 295.5,372.0 303.5,375.0 311.5,378.0 317.5,380.0 323.5,383.0"/><polyline points="295.5,306.0 301.5,309.0 307.5,312.0 313.5,310.0 319.5,313.0 323.5,315.0"/><polyline points="207.5,300.0 217.5,306.0 227.5,311.0 239.5,318.0 251.5,326.0 261.5,333.0 269.5,338.0 275.5,342.0"/></g>
<g stroke="#555" stroke-width="0.55" opacity="0.6"><line x1="187.0" y1="253.2" x2="187.0" y2="251.8"/><line x1="193.2" y1="253.2" x2="193.3" y2="251.8"/><line x1="200.0" y1="252.1" x2="199.0" y2="252.9"/><line x1="205.1" y1="252.3" x2="206.4" y2="252.7"/><line x1="212.7" y1="252.3" x2="211.3" y2="252.7"/><line x1="218.5" y1="251.8" x2="218.0" y2="253.2"/><line x1="224.4" y1="253.2" x2="224.6" y2="251.8"/><line x1="230.2" y1="253.0" x2="231.3" y2="252.0"/><line x1="237.6" y1="252.2" x2="236.4" y2="252.8"/><line x1="243.4" y1="253.2" x2="243.1" y2="251.8"/><line x1="249.1" y1="253.1" x2="249.9" y2="251.9"/><line x1="256.3" y1="252.9" x2="255.2" y2="252.1"/><line x1="262.5" y1="252.0" x2="261.5" y2="253.0"/><line x1="268.3" y1="253.2" x2="268.2" y2="251.8"/><line x1="273.8" y1="252.7" x2="275.2" y2="252.3"/><line x1="281.4" y1="252.7" x2="280.1" y2="252.3"/><line x1="286.5" y1="252.0" x2="287.5" y2="253.0"/><line x1="292.6" y1="252.6" x2="293.9" y2="252.4"/><line x1="299.6" y1="253.2" x2="299.4" y2="251.8"/><line x1="305.1" y1="252.5" x2="306.4" y2="252.5"/><line x1="311.3" y1="252.7" x2="312.7" y2="252.3"/><line x1="318.9" y1="252.6" x2="317.6" y2="252.4"/><line x1="187.4" y1="259.3" x2="186.6" y2="258.2"/><line x1="193.9" y1="258.4" x2="192.6" y2="259.1"/><line x1="200.0" y1="259.2" x2="199.0" y2="258.3"/><line x1="205.1" y1="258.6" x2="206.4" y2="258.9"/><line x1="212.0" y1="258.1" x2="212.0" y2="259.4"/><line x1="217.7" y1="259.2" x2="218.8" y2="258.3"/><line x1="224.8" y1="259.4" x2="224.2" y2="258.1"/><line x1="231.0" y1="258.1" x2="230.5" y2="259.4"/><line x1="236.4" y1="259.0" x2="237.6" y2="258.5"/><line x1="242.6" y1="258.6" x2="243.9" y2="258.9"/><line x1="249.5" y1="258.1" x2="249.5" y2="259.4"/><line x1="256.1" y1="258.2" x2="255.4" y2="259.3"/><line x1="261.3" y1="258.9" x2="262.7" y2="258.6"/><line x1="268.0" y1="259.4" x2="268.5" y2="258.1"/><line x1="274.3" y1="259.4" x2="274.7" y2="258.1"/><line x1="281.3" y1="258.3" x2="280.2" y2="259.2"/><line x1="287.7" y1="258.7" x2="286.3" y2="258.8"/><line x1="292.7" y1="258.3" x2="293.8" y2="259.2"/><line x1="298.9" y1="258.4" x2="300.1" y2="259.1"/><line x1="306.1" y1="258.2" x2="305.4" y2="259.3"/><line x1="312.6" y1="259.0" x2="311.4" y2="258.5"/><line x1="318.2" y1="258.1" x2="318.3" y2="259.4"/><line x1="186.6" y1="264.4" x2="187.4" y2="265.6"/><line x1="193.6" y1="264.4" x2="192.9" y2="265.6"/><line x1="200.0" y1="264.5" x2="199.0" y2="265.5"/><line x1="205.1" y1="264.6" x2="206.4" y2="265.4"/><line x1="211.5" y1="264.5" x2="212.5" y2="265.5"/><line x1="218.9" y1="265.2" x2="217.6" y2="264.8"/><line x1="225.0" y1="265.5" x2="224.0" y2="264.5"/><line x1="230.1" y1="265.3" x2="231.4" y2="264.7"/><line x1="236.3" y1="264.8" x2="237.7" y2="265.2"/><line x1="242.9" y1="264.4" x2="243.6" y2="265.6"/><line x1="248.9" y1="265.4" x2="250.1" y2="264.6"/><line x1="256.4" y1="265.0" x2="255.1" y2="265.0"/><line x1="261.6" y1="264.4" x2="262.4" y2="265.6"/><line x1="267.6" y1="265.0" x2="268.9" y2="265.0"/><line x1="275.2" y1="265.0" x2="273.8" y2="265.0"/><line x1="281.4" y1="265.2" x2="280.1" y2="264.8"/><line x1="286.3" y1="265.0" x2="287.7" y2="265.0"/><line x1="293.3" y1="264.3" x2="293.2" y2="265.7"/><line x1="300.2" y1="265.0" x2="298.8" y2="265.0"/><line x1="305.4" y1="265.6" x2="306.1" y2="264.4"/><line x1="312.6" y1="264.7" x2="311.4" y2="265.3"/><line x1="317.7" y1="264.5" x2="318.8" y2="265.5"/><line x1="187.7" y1="271.2" x2="186.3" y2="271.3"/><line x1="192.6" y1="271.0" x2="193.9" y2="271.5"/><line x1="200.2" y1="271.4" x2="198.8" y2="271.1"/><line x1="206.3" y1="270.8" x2="205.2" y2="271.7"/><line x1="212.6" y1="270.9" x2="211.4" y2="271.6"/><line x1="218.3" y1="271.9" x2="218.2" y2="270.6"/><line x1="223.8" y1="271.3" x2="225.2" y2="271.2"/><line x1="230.7" y1="271.9" x2="230.8" y2="270.6"/><line x1="237.7" y1="271.3" x2="236.3" y2="271.2"/><line x1="243.8" y1="270.8" x2="242.7" y2="271.7"/><line x1="249.5" y1="271.9" x2="249.5" y2="270.6"/><line x1="255.7" y1="271.9" x2="255.8" y2="270.6"/><line x1="262.6" y1="270.9" x2="261.4" y2="271.6"/><line x1="267.6" y1="271.5" x2="268.9" y2="271.0"/><line x1="274.1" y1="271.8" x2="274.9" y2="270.7"/><line x1="280.4" y1="270.6" x2="281.1" y2="271.9"/><line x1="287.4" y1="271.8" x2="286.6" y2="270.7"/><line x1="293.6" y1="271.9" x2="292.9" y2="270.6"/><line x1="299.3" y1="270.6" x2="299.7" y2="271.9"/><line x1="306.0" y1="271.9" x2="305.5" y2="270.6"/><line x1="312.7" y1="271.2" x2="311.3" y2="271.3"/><line x1="318.9" y1="271.4" x2="317.6" y2="271.1"/><line x1="187.2" y1="278.2" x2="186.8" y2="276.8"/><line x1="193.1" y1="276.8" x2="193.4" y2="278.2"/><line x1="199.4" y1="278.2" x2="199.6" y2="276.8"/><line x1="206.4" y1="277.6" x2="205.1" y2="277.4"/><line x1="211.9" y1="276.8" x2="212.1" y2="278.2"/><line x1="218.8" y1="277.0" x2="217.7" y2="278.0"/><line x1="223.9" y1="277.1" x2="225.1" y2="277.9"/><line x1="230.6" y1="278.2" x2="230.9" y2="276.8"/><line x1="237.7" y1="277.3" x2="236.3" y2="277.7"/><line x1="243.0" y1="278.1" x2="243.5" y2="276.9"/><line x1="249.6" y1="278.2" x2="249.4" y2="276.8"/><line x1="255.3" y1="276.9" x2="256.2" y2="278.1"/><line x1="261.3" y1="277.6" x2="262.7" y2="277.4"/><line x1="267.8" y1="278.0" x2="268.7" y2="277.0"/><line x1="275.2" y1="277.3" x2="273.8" y2="277.7"/><line x1="281.3" y1="278.0" x2="280.2" y2="277.0"/><line x1="287.3" y1="278.1" x2="286.7" y2="276.9"/><line x1="293.9" y1="277.3" x2="292.6" y2="277.7"/><line x1="299.0" y1="277.0" x2="300.0" y2="278.0"/><line x1="306.0" y1="278.2" x2="305.5" y2="276.8"/><line x1="312.2" y1="276.8" x2="311.8" y2="278.2"/><line x1="318.4" y1="276.8" x2="318.1" y2="278.2"/><line x1="187.0" y1="283.1" x2="187.0" y2="284.4"/><line x1="192.6" y1="284.1" x2="193.9" y2="283.4"/><line x1="199.8" y1="284.4" x2="199.2" y2="283.1"/><line x1="205.1" y1="283.6" x2="206.4" y2="283.9"/><line x1="212.2" y1="283.1" x2="211.8" y2="284.4"/><line x1="217.9" y1="283.2" x2="218.6" y2="284.3"/><line x1="224.5" y1="284.4" x2="224.5" y2="283.1"/><line x1="231.1" y1="283.2" x2="230.4" y2="284.3"/><line x1="237.3" y1="283.1" x2="236.7" y2="284.4"/><line x1="243.7" y1="283.2" x2="242.8" y2="284.3"/><line x1="249.6" y1="284.4" x2="249.4" y2="283.1"/><line x1="256.4" y1="284.1" x2="255.1" y2="283.4"/><line x1="261.5" y1="284.2" x2="262.5" y2="283.3"/><line x1="267.9" y1="284.4" x2="268.6" y2="283.1"/><line x1="275.2" y1="283.7" x2="273.8" y2="283.8"/><line x1="281.1" y1="283.1" x2="280.4" y2="284.4"/><line x1="286.6" y1="284.3" x2="287.4" y2="283.2"/><line x1="293.9" y1="283.8" x2="292.6" y2="283.7"/><line x1="299.6" y1="283.1" x2="299.4" y2="284.4"/><line x1="306.0" y1="283.1" x2="305.5" y2="284.4"/><line x1="312.7" y1="284.0" x2="311.3" y2="283.5"/><line x1="318.1" y1="283.1" x2="318.4" y2="284.4"/><line x1="187.0" y1="290.7" x2="187.0" y2="289.3"/><line x1="192.7" y1="289.6" x2="193.8" y2="290.4"/><line x1="200.2" y1="289.8" x2="198.8" y2="290.2"/><line x1="205.4" y1="289.4" x2="206.1" y2="290.6"/><line x1="212.6" y1="290.4" x2="211.4" y2="289.6"/><line x1="218.5" y1="290.7" x2="218.0" y2="289.3"/><line x1="224.0" y1="289.5" x2="225.0" y2="290.5"/><line x1="230.2" y1="289.5" x2="231.3" y2="290.5"/><line x1="237.6" y1="289.7" x2="236.4" y2="290.3"/><line x1="243.0" y1="290.6" x2="243.5" y2="289.4"/><line x1="250.2" y1="290.1" x2="248.8" y2="289.9"/><line x1="256.4" y1="290.3" x2="255.1" y2="289.7"/><line x1="261.3" y1="289.8" x2="262.7" y2="290.2"/><line x1="267.8" y1="290.5" x2="268.7" y2="289.5"/><line x1="274.4" y1="290.7" x2="274.6" y2="289.3"/><line x1="280.2" y1="290.5" x2="281.3" y2="289.5"/><line x1="287.2" y1="290.7" x2="286.8" y2="289.3"/><line x1="293.8" y1="290.4" x2="292.7" y2="289.6"/><line x1="298.8" y1="289.9" x2="300.2" y2="290.1"/><line x1="305.1" y1="289.9" x2="306.4" y2="290.1"/><line x1="312.5" y1="289.5" x2="311.5" y2="290.5"/><line x1="317.9" y1="289.4" x2="318.6" y2="290.6"/><line x1="186.9" y1="296.9" x2="187.1" y2="295.6"/><line x1="192.8" y1="296.8" x2="193.7" y2="295.7"/><line x1="199.2" y1="296.9" x2="199.8" y2="295.6"/><line x1="206.1" y1="296.9" x2="205.4" y2="295.6"/><line x1="211.3" y1="296.3" x2="212.7" y2="296.2"/><line x1="217.6" y1="296.4" x2="218.9" y2="296.1"/><line x1="224.1" y1="295.7" x2="224.9" y2="296.8"/><line x1="230.3" y1="295.7" x2="231.2" y2="296.8"/><line x1="236.3" y1="296.1" x2="237.7" y2="296.4"/><line x1="243.1" y1="296.9" x2="243.4" y2="295.6"/><line x1="249.0" y1="295.8" x2="250.0" y2="296.7"/><line x1="256.4" y1="296.5" x2="255.1" y2="296.0"/><line x1="262.6" y1="295.8" x2="261.4" y2="296.7"/><line x1="267.6" y1="296.2" x2="268.9" y2="296.3"/><line x1="274.2" y1="295.6" x2="274.8" y2="296.9"/><line x1="281.3" y1="295.8" x2="280.2" y2="296.7"/><line x1="286.3" y1="296.5" x2="287.7" y2="296.0"/><line x1="293.9" y1="296.1" x2="292.6" y2="296.4"/><line x1="299.9" y1="296.8" x2="299.1" y2="295.7"/><line x1="306.3" y1="295.8" x2="305.2" y2="296.7"/><line x1="312.7" y1="296.4" x2="311.3" y2="296.1"/><line x1="318.4" y1="295.6" x2="318.1" y2="296.9"/><line x1="187.7" y1="302.5" x2="186.3" y2="302.5"/><line x1="193.2" y1="301.8" x2="193.3" y2="303.2"/><line x1="199.0" y1="302.1" x2="200.0" y2="302.9"/><line x1="206.2" y1="302.0" x2="205.3" y2="303.0"/><line x1="211.7" y1="301.9" x2="212.3" y2="303.1"/><line x1="218.2" y1="303.2" x2="218.3" y2="301.8"/><line x1="225.0" y1="302.1" x2="224.0" y2="302.9"/><line x1="230.8" y1="301.8" x2="230.7" y2="303.2"/><line x1="236.5" y1="303.0" x2="237.5" y2="302.0"/><line x1="242.6" y1="302.5" x2="243.9" y2="302.5"/><line x1="250.2" y1="302.6" x2="248.8" y2="302.4"/><line x1="255.5" y1="301.8" x2="256.0" y2="303.2"/><line x1="261.6" y1="303.1" x2="262.4" y2="301.9"/><line x1="268.2" y1="303.2" x2="268.3" y2="301.8"/><line x1="273.8" y1="302.3" x2="275.2" y2="302.7"/><line x1="280.1" y1="302.7" x2="281.4" y2="302.3"/><line x1="287.5" y1="302.0" x2="286.5" y2="303.0"/><line x1="293.8" y1="302.9" x2="292.7" y2="302.1"/><line x1="299.2" y1="301.9" x2="299.8" y2="303.1"/><line x1="306.4" y1="302.8" x2="305.1" y2="302.2"/><line x1="312.7" y1="302.7" x2="311.3" y2="302.3"/><line x1="317.9" y1="303.1" x2="318.6" y2="301.9"/><line x1="186.3" y1="308.8" x2="187.7" y2="308.7"/><line x1="192.6" y1="308.6" x2="193.9" y2="308.9"/><line x1="199.5" y1="309.4" x2="199.5" y2="308.1"/><line x1="206.4" y1="308.8" x2="205.1" y2="308.7"/><line x1="212.2" y1="309.4" x2="211.8" y2="308.1"/><line x1="218.6" y1="308.1" x2="217.9" y2="309.4"/><line x1="224.2" y1="308.1" x2="224.8" y2="309.4"/><line x1="230.1" y1="309.1" x2="231.4" y2="308.4"/><line x1="236.8" y1="309.4" x2="237.2" y2="308.1"/><line x1="242.9" y1="308.1" x2="243.6" y2="309.4"/><line x1="249.0" y1="308.2" x2="250.0" y2="309.3"/><line x1="255.1" y1="308.9" x2="256.4" y2="308.6"/><line x1="261.5" y1="309.3" x2="262.5" y2="308.2"/><line x1="268.1" y1="308.1" x2="268.4" y2="309.4"/><line x1="274.5" y1="309.4" x2="274.5" y2="308.1"/><line x1="280.5" y1="308.1" x2="281.0" y2="309.4"/><line x1="287.5" y1="309.2" x2="286.5" y2="308.3"/><line x1="292.6" y1="308.6" x2="293.9" y2="308.9"/><line x1="300.0" y1="309.3" x2="299.0" y2="308.2"/><line x1="306.2" y1="308.2" x2="305.3" y2="309.3"/><line x1="312.6" y1="308.3" x2="311.4" y2="309.2"/><line x1="318.0" y1="308.1" x2="318.5" y2="309.4"/><line x1="186.5" y1="314.5" x2="187.5" y2="315.5"/><line x1="192.7" y1="315.4" x2="193.8" y2="314.6"/><line x1="199.8" y1="314.4" x2="199.2" y2="315.6"/><line x1="205.1" y1="315.0" x2="206.4" y2="315.0"/><line x1="212.2" y1="315.7" x2="211.8" y2="314.3"/><line x1="217.6" y1="314.6" x2="218.9" y2="315.4"/><line x1="223.8" y1="315.1" x2="225.2" y2="314.9"/><line x1="231.4" y1="314.7" x2="230.1" y2="315.3"/><line x1="237.2" y1="314.3" x2="236.8" y2="315.7"/><line x1="242.9" y1="315.6" x2="243.6" y2="314.4"/><line x1="250.2" y1="314.8" x2="248.8" y2="315.2"/><line x1="256.4" y1="315.3" x2="255.1" y2="314.7"/><line x1="262.6" y1="315.4" x2="261.4" y2="314.6"/><line x1="268.5" y1="314.3" x2="268.0" y2="315.7"/><line x1="274.4" y1="315.7" x2="274.6" y2="314.3"/><line x1="280.6" y1="315.7" x2="280.9" y2="314.3"/><line x1="286.5" y1="314.5" x2="287.5" y2="315.5"/><line x1="293.9" y1="314.8" x2="292.6" y2="315.2"/><line x1="299.9" y1="314.4" x2="299.1" y2="315.6"/><line x1="305.9" y1="315.7" x2="305.6" y2="314.3"/><line x1="311.7" y1="315.6" x2="312.3" y2="314.4"/><line x1="318.2" y1="314.3" x2="318.3" y2="315.7"/><line x1="187.5" y1="320.8" x2="186.5" y2="321.7"/><line x1="192.8" y1="321.8" x2="193.7" y2="320.7"/><line x1="199.3" y1="320.6" x2="199.7" y2="321.9"/><line x1="205.5" y1="321.9" x2="206.0" y2="320.6"/><line x1="212.4" y1="321.8" x2="211.6" y2="320.7"/><line x1="218.8" y1="320.8" x2="217.7" y2="321.7"/><line x1="225.2" y1="321.5" x2="223.8" y2="321.0"/><line x1="230.1" y1="321.2" x2="231.4" y2="321.3"/><line x1="237.1" y1="321.9" x2="236.9" y2="320.6"/><line x1="242.6" y1="321.2" x2="243.9" y2="321.3"/><line x1="248.9" y1="320.8" x2="250.1" y2="321.7"/><line x1="255.1" y1="321.3" x2="256.4" y2="321.2"/><line x1="261.3" y1="321.0" x2="262.7" y2="321.5"/><line x1="268.9" y1="320.9" x2="267.6" y2="321.6"/><line x1="274.1" y1="320.7" x2="274.9" y2="321.8"/><line x1="280.7" y1="320.6" x2="280.8" y2="321.9"/><line x1="287.3" y1="320.6" x2="286.7" y2="321.9"/><line x1="292.6" y1="321.2" x2="293.9" y2="321.3"/><line x1="299.6" y1="321.9" x2="299.4" y2="320.6"/><line x1="305.1" y1="321.3" x2="306.4" y2="321.2"/><line x1="312.4" y1="321.8" x2="311.6" y2="320.7"/><line x1="317.6" y1="321.5" x2="318.9" y2="321.0"/><line x1="186.6" y1="328.0" x2="187.4" y2="327.0"/><line x1="193.1" y1="328.2" x2="193.4" y2="326.8"/><line x1="198.8" y1="327.7" x2="200.2" y2="327.3"/><line x1="206.4" y1="327.6" x2="205.1" y2="327.4"/><line x1="211.5" y1="328.0" x2="212.5" y2="327.0"/><line x1="218.2" y1="328.2" x2="218.3" y2="326.8"/><line x1="224.8" y1="328.1" x2="224.2" y2="326.9"/><line x1="230.4" y1="326.9" x2="231.1" y2="328.1"/><line x1="236.7" y1="326.9" x2="237.3" y2="328.1"/><line x1="242.6" y1="327.3" x2="243.9" y2="327.7"/><line x1="250.1" y1="327.2" x2="248.9" y2="327.8"/><line x1="255.5" y1="326.9" x2="256.0" y2="328.1"/><line x1="261.9" y1="328.2" x2="262.1" y2="326.8"/><line x1="268.7" y1="328.0" x2="267.8" y2="327.0"/><line x1="275.0" y1="327.0" x2="274.0" y2="328.0"/><line x1="281.4" y1="327.4" x2="280.1" y2="327.6"/><line x1="287.7" y1="327.7" x2="286.3" y2="327.3"/><line x1="293.3" y1="328.2" x2="293.2" y2="326.8"/><line x1="300.1" y1="327.1" x2="298.9" y2="327.9"/><line x1="305.1" y1="327.5" x2="306.4" y2="327.5"/><line x1="311.3" y1="327.5" x2="312.7" y2="327.5"/><line x1="318.8" y1="327.0" x2="317.7" y2="328.0"/><line x1="186.8" y1="333.1" x2="187.2" y2="334.4"/><line x1="193.9" y1="333.4" x2="192.6" y2="334.1"/><line x1="199.8" y1="333.1" x2="199.2" y2="334.4"/><line x1="205.4" y1="333.2" x2="206.1" y2="334.3"/><line x1="212.6" y1="333.3" x2="211.4" y2="334.2"/><line x1="218.8" y1="334.2" x2="217.7" y2="333.3"/><line x1="224.0" y1="334.2" x2="225.0" y2="333.3"/><line x1="231.2" y1="333.2" x2="230.3" y2="334.3"/><line x1="236.5" y1="334.3" x2="237.5" y2="333.2"/><line x1="243.3" y1="333.1" x2="243.2" y2="334.4"/><line x1="250.1" y1="333.4" x2="248.9" y2="334.1"/><line x1="255.1" y1="333.7" x2="256.4" y2="333.8"/><line x1="261.9" y1="333.1" x2="262.1" y2="334.4"/><line x1="268.2" y1="333.1" x2="268.3" y2="334.4"/><line x1="273.8" y1="333.6" x2="275.2" y2="333.9"/><line x1="280.1" y1="334.0" x2="281.4" y2="333.5"/><line x1="287.3" y1="334.4" x2="286.7" y2="333.1"/><line x1="292.7" y1="334.2" x2="293.8" y2="333.3"/><line x1="298.8" y1="333.9" x2="300.2" y2="333.6"/><line x1="305.1" y1="334.0" x2="306.4" y2="333.5"/><line x1="311.3" y1="333.9" x2="312.7" y2="333.6"/><line x1="317.6" y1="333.5" x2="318.9" y2="334.0"/><line x1="186.6" y1="340.6" x2="187.4" y2="339.4"/><line x1="193.7" y1="339.4" x2="192.8" y2="340.6"/><line x1="199.2" y1="339.4" x2="199.8" y2="340.6"/><line x1="205.2" y1="339.6" x2="206.3" y2="340.4"/><line x1="212.6" y1="340.3" x2="211.4" y2="339.7"/><line x1="217.9" y1="339.4" x2="218.6" y2="340.6"/><line x1="225.1" y1="340.3" x2="223.9" y2="339.7"/><line x1="231.0" y1="339.4" x2="230.5" y2="340.6"/><line x1="237.5" y1="339.5" x2="236.5" y2="340.5"/><line x1="243.1" y1="339.3" x2="243.4" y2="340.7"/><line x1="249.9" y1="340.6" x2="249.1" y2="339.4"/><line x1="255.9" y1="339.3" x2="255.6" y2="340.7"/><line x1="261.9" y1="339.3" x2="262.1" y2="340.7"/><line x1="267.6" y1="339.7" x2="268.9" y2="340.3"/><line x1="274.0" y1="340.5" x2="275.0" y2="339.5"/><line x1="280.9" y1="340.7" x2="280.6" y2="339.3"/><line x1="287.7" y1="340.1" x2="286.3" y2="339.9"/><line x1="292.8" y1="339.5" x2="293.7" y2="340.5"/><line x1="298.9" y1="340.3" x2="300.1" y2="339.7"/><line x1="305.9" y1="339.3" x2="305.6" y2="340.7"/><line x1="311.4" y1="339.7" x2="312.6" y2="340.3"/><line x1="318.8" y1="340.4" x2="317.7" y2="339.6"/><line x1="187.3" y1="346.9" x2="186.7" y2="345.6"/><line x1="192.9" y1="345.7" x2="193.6" y2="346.8"/><line x1="199.7" y1="345.6" x2="199.3" y2="346.9"/><line x1="205.7" y1="345.6" x2="205.8" y2="346.9"/><line x1="212.5" y1="346.7" x2="211.5" y2="345.8"/><line x1="218.7" y1="346.8" x2="217.8" y2="345.7"/><line x1="224.8" y1="345.6" x2="224.2" y2="346.9"/><line x1="230.6" y1="345.6" x2="230.9" y2="346.9"/><line x1="237.2" y1="345.6" x2="236.8" y2="346.9"/><line x1="243.5" y1="345.6" x2="243.0" y2="346.9"/><line x1="248.8" y1="346.3" x2="250.2" y2="346.2"/><line x1="255.6" y1="345.6" x2="255.9" y2="346.9"/><line x1="262.5" y1="346.8" x2="261.5" y2="345.7"/><line x1="267.6" y1="346.4" x2="268.9" y2="346.1"/><line x1="274.3" y1="345.6" x2="274.7" y2="346.9"/><line x1="280.4" y1="346.9" x2="281.1" y2="345.6"/><line x1="287.7" y1="346.4" x2="286.3" y2="346.1"/><line x1="293.0" y1="346.9" x2="293.5" y2="345.6"/><line x1="299.6" y1="346.9" x2="299.4" y2="345.6"/><line x1="305.5" y1="345.6" x2="306.0" y2="346.9"/><line x1="312.7" y1="346.0" x2="311.3" y2="346.5"/><line x1="318.0" y1="345.6" x2="318.5" y2="346.9"/><line x1="186.3" y1="352.3" x2="187.7" y2="352.7"/><line x1="193.3" y1="351.8" x2="193.2" y2="353.2"/><line x1="199.8" y1="353.1" x2="199.2" y2="351.9"/><line x1="205.1" y1="352.5" x2="206.4" y2="352.5"/><line x1="211.4" y1="352.2" x2="212.6" y2="352.8"/><line x1="217.7" y1="352.0" x2="218.8" y2="353.0"/><line x1="223.9" y1="352.1" x2="225.1" y2="352.9"/><line x1="230.1" y1="352.7" x2="231.4" y2="352.3"/><line x1="236.5" y1="352.0" x2="237.5" y2="353.0"/><line x1="243.1" y1="351.8" x2="243.4" y2="353.2"/><line x1="248.9" y1="352.2" x2="250.1" y2="352.8"/><line x1="255.9" y1="353.2" x2="255.6" y2="351.8"/><line x1="261.7" y1="353.1" x2="262.3" y2="351.9"/><line x1="268.4" y1="353.2" x2="268.1" y2="351.8"/><line x1="274.8" y1="351.9" x2="274.2" y2="353.1"/><line x1="280.3" y1="352.0" x2="281.2" y2="353.0"/><line x1="286.3" y1="352.4" x2="287.7" y2="352.6"/><line x1="292.9" y1="351.9" x2="293.6" y2="353.1"/><line x1="299.1" y1="353.1" x2="299.9" y2="351.9"/><line x1="305.9" y1="353.2" x2="305.6" y2="351.8"/><line x1="311.5" y1="352.1" x2="312.5" y2="352.9"/><line x1="318.5" y1="351.8" x2="318.0" y2="353.2"/><line x1="186.7" y1="359.4" x2="187.3" y2="358.1"/><line x1="193.6" y1="358.1" x2="192.9" y2="359.4"/><line x1="199.1" y1="358.1" x2="199.9" y2="359.4"/><line x1="206.1" y1="358.1" x2="205.4" y2="359.4"/><line x1="212.3" y1="359.4" x2="211.7" y2="358.1"/><line x1="217.8" y1="358.2" x2="218.7" y2="359.3"/><line x1="224.1" y1="359.3" x2="224.9" y2="358.2"/><line x1="231.4" y1="358.9" x2="230.1" y2="358.6"/><line x1="237.4" y1="358.1" x2="236.6" y2="359.4"/><line x1="243.7" y1="358.2" x2="242.8" y2="359.3"/><line x1="250.1" y1="358.4" x2="248.9" y2="359.1"/><line x1="256.3" y1="358.3" x2="255.2" y2="359.2"/><line x1="262.7" y1="358.8" x2="261.3" y2="358.7"/><line x1="268.9" y1="358.8" x2="267.6" y2="358.7"/><line x1="275.0" y1="359.2" x2="274.0" y2="358.3"/><line x1="280.2" y1="358.3" x2="281.3" y2="359.2"/><line x1="287.7" y1="359.0" x2="286.3" y2="358.5"/><line x1="292.6" y1="358.5" x2="293.9" y2="359.0"/><line x1="299.5" y1="358.1" x2="299.5" y2="359.4"/><line x1="305.7" y1="359.4" x2="305.8" y2="358.1"/><line x1="311.9" y1="358.1" x2="312.1" y2="359.4"/><line x1="317.6" y1="358.6" x2="318.9" y2="358.9"/><line x1="186.5" y1="365.4" x2="187.5" y2="364.6"/><line x1="192.6" y1="365.3" x2="193.9" y2="364.7"/><line x1="200.0" y1="365.5" x2="199.0" y2="364.5"/><line x1="205.8" y1="365.7" x2="205.7" y2="364.3"/><line x1="212.6" y1="365.4" x2="211.4" y2="364.6"/><line x1="218.3" y1="365.7" x2="218.2" y2="364.3"/><line x1="224.1" y1="364.4" x2="224.9" y2="365.6"/><line x1="231.0" y1="364.4" x2="230.5" y2="365.6"/><line x1="237.4" y1="364.4" x2="236.6" y2="365.6"/><line x1="242.6" y1="365.2" x2="243.9" y2="364.8"/><line x1="249.1" y1="364.4" x2="249.9" y2="365.6"/><line x1="255.1" y1="364.7" x2="256.4" y2="365.3"/><line x1="262.2" y1="365.7" x2="261.8" y2="364.3"/><line x1="268.2" y1="365.7" x2="268.3" y2="364.3"/><line x1="274.9" y1="364.4" x2="274.1" y2="365.6"/><line x1="280.3" y1="365.5" x2="281.2" y2="364.5"/><line x1="286.5" y1="365.5" x2="287.5" y2="364.5"/><line x1="293.7" y1="365.5" x2="292.8" y2="364.5"/><line x1="300.2" y1="364.8" x2="298.8" y2="365.2"/><line x1="305.6" y1="365.7" x2="305.9" y2="364.3"/><line x1="311.7" y1="365.6" x2="312.3" y2="364.4"/><line x1="317.7" y1="365.4" x2="318.8" y2="364.6"/><line x1="186.3" y1="371.4" x2="187.7" y2="371.1"/><line x1="192.8" y1="370.7" x2="193.7" y2="371.8"/><line x1="198.8" y1="371.4" x2="200.2" y2="371.1"/><line x1="205.2" y1="370.8" x2="206.3" y2="371.7"/><line x1="211.8" y1="371.9" x2="212.2" y2="370.6"/><line x1="218.0" y1="371.9" x2="218.5" y2="370.6"/><line x1="224.6" y1="371.9" x2="224.4" y2="370.6"/><line x1="230.7" y1="370.6" x2="230.8" y2="371.9"/><line x1="236.7" y1="371.9" x2="237.3" y2="370.6"/><line x1="242.8" y1="370.7" x2="243.7" y2="371.8"/><line x1="250.0" y1="370.7" x2="249.0" y2="371.8"/><line x1="255.2" y1="371.7" x2="256.3" y2="370.8"/><line x1="262.4" y1="370.7" x2="261.6" y2="371.8"/><line x1="267.6" y1="371.5" x2="268.9" y2="371.0"/><line x1="274.1" y1="371.8" x2="274.9" y2="370.7"/><line x1="280.1" y1="371.4" x2="281.4" y2="371.1"/><line x1="286.8" y1="370.6" x2="287.2" y2="371.9"/><line x1="293.9" y1="371.2" x2="292.6" y2="371.3"/><line x1="300.0" y1="371.7" x2="299.0" y2="370.8"/><line x1="305.1" y1="371.6" x2="306.4" y2="370.9"/><line x1="312.7" y1="371.4" x2="311.3" y2="371.1"/><line x1="317.6" y1="371.3" x2="318.9" y2="371.2"/><line x1="187.6" y1="377.8" x2="186.4" y2="377.2"/><line x1="193.5" y1="378.1" x2="193.0" y2="376.9"/><line x1="200.2" y1="377.3" x2="198.8" y2="377.7"/><line x1="205.8" y1="378.2" x2="205.7" y2="376.8"/><line x1="211.7" y1="378.1" x2="212.3" y2="376.9"/><line x1="218.8" y1="378.0" x2="217.7" y2="377.0"/><line x1="224.0" y1="377.9" x2="225.0" y2="377.1"/><line x1="231.2" y1="378.0" x2="230.3" y2="377.0"/><line x1="237.7" y1="377.4" x2="236.3" y2="377.6"/><line x1="242.6" y1="377.3" x2="243.9" y2="377.7"/><line x1="249.3" y1="378.2" x2="249.7" y2="376.8"/><line x1="256.0" y1="376.9" x2="255.5" y2="378.1"/><line x1="261.3" y1="377.6" x2="262.7" y2="377.4"/><line x1="267.6" y1="377.4" x2="268.9" y2="377.6"/><line x1="274.3" y1="378.2" x2="274.7" y2="376.8"/><line x1="280.1" y1="377.8" x2="281.4" y2="377.2"/><line x1="287.2" y1="378.2" x2="286.8" y2="376.8"/><line x1="293.9" y1="377.8" x2="292.6" y2="377.2"/><line x1="299.5" y1="378.2" x2="299.5" y2="376.8"/><line x1="306.4" y1="377.6" x2="305.1" y2="377.4"/><line x1="312.7" y1="377.5" x2="311.3" y2="377.5"/><line x1="318.4" y1="378.2" x2="318.1" y2="376.8"/><line x1="187.3" y1="383.1" x2="186.7" y2="384.4"/><line x1="192.6" y1="383.6" x2="193.9" y2="383.9"/><line x1="199.3" y1="383.1" x2="199.7" y2="384.4"/><line x1="206.3" y1="384.1" x2="205.2" y2="383.4"/><line x1="211.9" y1="384.4" x2="212.1" y2="383.1"/><line x1="217.8" y1="383.2" x2="218.7" y2="384.3"/><line x1="225.2" y1="383.6" x2="223.8" y2="383.9"/><line x1="230.3" y1="384.3" x2="231.2" y2="383.2"/><line x1="237.7" y1="384.0" x2="236.3" y2="383.5"/><line x1="243.9" y1="383.4" x2="242.6" y2="384.1"/><line x1="249.1" y1="383.2" x2="249.9" y2="384.3"/><line x1="255.5" y1="384.4" x2="256.0" y2="383.1"/><line x1="262.0" y1="384.4" x2="262.0" y2="383.1"/><line x1="267.8" y1="383.2" x2="268.7" y2="384.3"/><line x1="274.9" y1="383.1" x2="274.1" y2="384.4"/><line x1="281.4" y1="383.7" x2="280.1" y2="383.8"/><line x1="287.6" y1="384.0" x2="286.4" y2="383.5"/><line x1="292.9" y1="383.1" x2="293.6" y2="384.4"/><line x1="299.9" y1="383.2" x2="299.1" y2="384.3"/><line x1="305.6" y1="383.1" x2="305.9" y2="384.4"/><line x1="311.3" y1="383.5" x2="312.7" y2="384.0"/><line x1="318.9" y1="383.8" x2="317.6" y2="383.7"/><line x1="186.9" y1="390.7" x2="187.1" y2="389.3"/><line x1="193.8" y1="390.5" x2="192.7" y2="389.5"/><line x1="199.3" y1="389.3" x2="199.7" y2="390.7"/><line x1="205.2" y1="389.5" x2="206.3" y2="390.5"/><line x1="212.3" y1="389.3" x2="211.7" y2="390.7"/><line x1="218.9" y1="390.2" x2="217.6" y2="389.8"/><line x1="224.9" y1="389.5" x2="224.1" y2="390.5"/><line x1="230.6" y1="390.7" x2="230.9" y2="389.3"/><line x1="236.4" y1="390.4" x2="237.6" y2="389.6"/><line x1="242.7" y1="390.4" x2="243.8" y2="389.6"/><line x1="250.2" y1="390.2" x2="248.8" y2="389.8"/><line x1="255.4" y1="389.4" x2="256.1" y2="390.6"/><line x1="261.4" y1="390.4" x2="262.6" y2="389.6"/><line x1="267.8" y1="389.4" x2="268.7" y2="390.6"/><line x1="273.9" y1="389.6" x2="275.1" y2="390.4"/><line x1="280.2" y1="390.5" x2="281.3" y2="389.5"/><line x1="286.4" y1="390.4" x2="287.6" y2="389.6"/><line x1="293.6" y1="390.6" x2="292.9" y2="389.4"/><line x1="300.1" y1="390.4" x2="298.9" y2="389.6"/><line x1="305.1" y1="390.3" x2="306.4" y2="389.7"/><line x1="311.3" y1="389.9" x2="312.7" y2="390.1"/><line x1="317.9" y1="389.4" x2="318.6" y2="390.6"/><line x1="186.3" y1="396.3" x2="187.7" y2="396.2"/><line x1="193.3" y1="395.6" x2="193.2" y2="396.9"/><line x1="199.0" y1="396.8" x2="200.0" y2="395.7"/><line x1="206.4" y1="395.9" x2="205.1" y2="396.6"/><line x1="212.7" y1="396.2" x2="211.3" y2="396.3"/><line x1="217.7" y1="396.6" x2="218.8" y2="395.9"/><line x1="224.3" y1="396.9" x2="224.7" y2="395.6"/><line x1="231.4" y1="396.5" x2="230.1" y2="396.0"/><line x1="236.4" y1="396.7" x2="237.6" y2="395.8"/><line x1="243.6" y1="396.9" x2="242.9" y2="395.6"/><line x1="250.0" y1="395.7" x2="249.0" y2="396.8"/><line x1="256.3" y1="395.8" x2="255.2" y2="396.7"/><line x1="261.7" y1="395.6" x2="262.3" y2="396.9"/><line x1="268.2" y1="396.9" x2="268.3" y2="395.6"/><line x1="274.3" y1="395.6" x2="274.7" y2="396.9"/><line x1="280.7" y1="396.9" x2="280.8" y2="395.6"/><line x1="286.5" y1="396.7" x2="287.5" y2="395.8"/><line x1="293.0" y1="396.9" x2="293.5" y2="395.6"/><line x1="300.2" y1="396.3" x2="298.8" y2="396.2"/><line x1="305.2" y1="395.8" x2="306.3" y2="396.7"/><line x1="311.4" y1="395.8" x2="312.6" y2="396.7"/><line x1="317.6" y1="396.5" x2="318.9" y2="396.0"/><line x1="186.3" y1="402.6" x2="187.7" y2="402.4"/><line x1="192.8" y1="402.0" x2="193.7" y2="403.0"/><line x1="200.0" y1="402.0" x2="199.0" y2="403.0"/><line x1="205.1" y1="402.2" x2="206.4" y2="402.8"/><line x1="212.5" y1="402.0" x2="211.5" y2="403.0"/><line x1="217.7" y1="402.9" x2="218.8" y2="402.1"/><line x1="225.0" y1="402.0" x2="224.0" y2="403.0"/><line x1="231.2" y1="402.0" x2="230.3" y2="403.0"/><line x1="236.4" y1="402.1" x2="237.6" y2="402.9"/><line x1="243.0" y1="401.9" x2="243.5" y2="403.1"/><line x1="250.2" y1="402.4" x2="248.8" y2="402.6"/><line x1="256.4" y1="402.3" x2="255.1" y2="402.7"/><line x1="262.2" y1="401.8" x2="261.8" y2="403.2"/><line x1="267.6" y1="402.8" x2="268.9" y2="402.2"/><line x1="274.4" y1="403.2" x2="274.6" y2="401.8"/><line x1="280.1" y1="402.4" x2="281.4" y2="402.6"/><line x1="287.7" y1="402.2" x2="286.3" y2="402.8"/><line x1="293.3" y1="403.2" x2="293.2" y2="401.8"/><line x1="298.9" y1="402.8" x2="300.1" y2="402.2"/><line x1="305.2" y1="402.0" x2="306.3" y2="403.0"/><line x1="311.8" y1="403.2" x2="312.2" y2="401.8"/><line x1="318.8" y1="402.1" x2="317.7" y2="402.9"/><line x1="187.3" y1="409.4" x2="186.7" y2="408.1"/><line x1="193.9" y1="408.9" x2="192.6" y2="408.6"/><line x1="198.9" y1="408.5" x2="200.1" y2="409.0"/><line x1="206.3" y1="409.2" x2="205.2" y2="408.3"/><line x1="212.4" y1="408.2" x2="211.6" y2="409.3"/><line x1="218.0" y1="408.1" x2="218.5" y2="409.4"/><line x1="224.1" y1="408.2" x2="224.9" y2="409.3"/><line x1="230.9" y1="409.4" x2="230.6" y2="408.1"/><line x1="237.7" y1="408.7" x2="236.3" y2="408.8"/><line x1="243.8" y1="409.2" x2="242.7" y2="408.3"/><line x1="249.3" y1="408.1" x2="249.7" y2="409.4"/><line x1="255.2" y1="409.2" x2="256.3" y2="408.3"/><line x1="261.6" y1="409.3" x2="262.4" y2="408.2"/><line x1="267.7" y1="409.2" x2="268.8" y2="408.3"/><line x1="275.2" y1="408.9" x2="273.8" y2="408.6"/><line x1="281.3" y1="408.3" x2="280.2" y2="409.2"/><line x1="287.7" y1="409.0" x2="286.3" y2="408.5"/><line x1="292.6" y1="408.5" x2="293.9" y2="409.0"/><line x1="299.9" y1="408.2" x2="299.1" y2="409.3"/><line x1="305.1" y1="408.9" x2="306.4" y2="408.6"/><line x1="312.3" y1="408.1" x2="311.7" y2="409.4"/><line x1="318.9" y1="408.8" x2="317.6" y2="408.7"/></g>
<g fill="none" stroke="#2a2a2a" stroke-width="0.45" opacity="0.80"><polyline points="294.7,250.7 297.7,250.7 299.2,249.5 302.6,250.0 305.9,248.6 308.3,248.9 310.9,249.8 312.5,248.8 314.5,250.7 317.5,248.7 320.6,248.6"/><polyline points="288.0,250.5 289.9,252.5 293.2,250.7 296.6,251.4 299.5,250.5 302.9,251.7 306.3,252.3 308.4,250.9 310.2,250.3 311.8,250.7 314.6,250.0 317.4,250.8"/><polyline points="292.3,255.3 295.2,254.2 298.7,254.1 301.7,256.2 303.2,256.1 305.5,255.5 307.0,254.1 308.8,256.5"/><polyline points="296.4,257.4 298.6,257.9 301.6,256.8 304.6,258.6 307.8,256.6 311.2,256.8 313.4,258.1 316.8,257.4 320.1,258.0 322.2,257.4"/><polyline points="289.3,260.4 291.2,258.0 294.6,259.2 296.9,258.5 299.6,260.0 302.0,259.0 303.7,260.2 305.2,259.1 308.4,258.2 311.4,260.3 314.1,259.9"/><polyline points="289.3,262.0 291.7,263.8 295.0,263.8 297.4,262.5 300.3,262.5 302.4,262.3 304.2,262.2 307.7,263.7 310.4,262.5 312.6,261.5 314.6,263.3 317.9,262.2"/><polyline points="294.3,266.6 296.5,266.4 298.5,265.8 301.6,266.4 303.7,267.0 306.5,266.1 308.0,266.0 310.0,266.3 312.4,266.7 315.2,266.7 317.4,266.3"/><polyline points="291.2,269.6 294.0,269.9 297.4,268.7 300.0,267.8 303.2,269.8 305.6,269.2 308.6,269.3 310.4,269.4 313.1,269.1 315.4,269.0 318.5,269.0"/><polyline points="289.4,270.1 291.4,270.2 294.1,268.5 296.6,269.0 298.2,268.8 300.3,268.9 302.2,268.5 304.6,269.4 307.4,270.0 309.3,270.8"/></g>
<rect x="291.0" y="260.0" width="33.0" height="1.3" fill="#444" opacity="0.7"/>
<g fill="none" stroke="#2a2a2a" stroke-width="0.45" opacity="0.60"><polyline points="304.4,277.5 305.9,278.5 308.3,278.8 310.6,278.8 312.6,278.9 315.6,277.9 318.2,278.6 320.1,278.2"/><polyline points="304.2,282.9 306.4,281.0 309.5,282.8 311.9,281.0 313.8,282.4 315.9,283.2 318.5,281.3 321.4,281.7"/><polyline points="301.6,288.8 304.7,289.6 306.3,288.0 309.0,287.8 311.7,287.3 314.9,288.4 316.7,288.7 318.8,287.5"/><polyline points="298.9,292.3 300.4,292.5 301.9,291.3 305.3,292.1 307.4,291.5 309.6,290.8 313.1,290.6 315.5,292.4 317.8,293.0 319.8,293.0"/><polyline points="305.0,298.7 308.1,297.9 310.5,298.4 312.9,296.8 315.9,297.2 318.3,298.6 320.2,296.6"/></g>
<polygon points="183.5,295.5 193.5,299.0 201.5,303.5 209.5,309.0 217.5,316.0 227.5,325.0 237.5,335.0 247.5,343.5 255.5,351.0 263.0,359.0 269.5,366.0 275.0,371.0 280.5,377.0 285.5,381.0 291.5,383.5 297.5,385.5 303.5,388.0 312.5,390.5 322.5,392.0 323.5,392.1 323.5,410.0 183.5,410.0" fill="#d4d4d4" /><polygon points="183.5,310.4 193.5,312.4 201.7,317.3 207.3,322.1 209.5,325.0 212.5,330.0 214.5,338.0 216.6,344.2 218.6,347.2 222.6,350.2 224.1,355.2 222.6,361.3 217.5,365.0 211.5,369.0 207.5,376.0 199.5,382.0 183.5,387.0" fill="#c2c2c2" /><polygon points="183.5,392.0 197.5,389.0 205.5,386.0 213.5,383.0 223.5,380.0 233.5,376.0 243.5,374.0 255.5,376.0 265.5,378.5 271.5,381.0 275.5,385.0 277.0,391.0 278.5,396.0 281.5,398.5 289.5,396.0 297.5,397.0 307.5,397.5 323.5,397.0 323.5,410.0 183.5,410.0" fill="#c2c2c2" /><polyline points="183.5,295.5 193.5,299.0 201.5,303.5 209.5,309.0 217.5,316.0 227.5,325.0 237.5,335.0 247.5,343.5 255.5,351.0 263.0,359.0 269.5,366.0 275.0,371.0 280.5,377.0 285.5,381.0 291.5,383.5 297.5,385.5 303.5,388.0 312.5,390.5 322.5,392.0" fill="none" stroke="#333" stroke-width="0.55" /><polyline points="183.5,310.4 193.5,312.4 201.7,317.3 207.3,322.1 209.5,325.0 212.5,330.0 214.5,338.0 216.6,344.2 218.6,347.2 222.6,350.2 224.1,355.2 222.6,361.3 217.5,365.0 211.5,369.0 207.5,376.0 199.5,382.0 183.5,387.0" fill="none" stroke="#444" stroke-width="0.50" /><polyline points="183.5,392.0 197.5,389.0 205.5,386.0 213.5,383.0 223.5,380.0 233.5,376.0 243.5,374.0 255.5,376.0 265.5,378.5 271.5,381.0 275.5,385.0 277.0,391.0 278.5,396.0 281.5,398.5 289.5,396.0 297.5,397.0 307.5,397.5" fill="none" stroke="#444" stroke-width="0.50" /><polyline points="183.5,383.0 197.5,378.0 209.5,372.0 217.5,366.0 225.5,362.0" fill="none" stroke="#666" stroke-width="0.45" /><polyline points="209.5,372.0 213.5,378.0 219.5,372.0 227.5,368.0 233.5,370.0" fill="none" stroke="#777" stroke-width="0.40" /><text x="191.5" y="368.5" font-size="5.6" text-anchor="start" fill="#222" font-weight="normal" font-style="italic" font-family="Liberation Serif" >Amazon</text><text x="229.5" y="396.0" font-size="5.6" text-anchor="start" fill="#222" font-weight="normal" font-style="italic" font-family="Liberation Serif" >Para</text><text x="280.1" y="403.0" font-size="5.6" text-anchor="start" fill="#222" font-weight="normal" font-style="italic" font-family="Liberation Serif" >Maroni</text><text x="199.0" y="307.5" font-size="4.8" text-anchor="start" fill="#111" font-weight="bold" >F</text><text x="217.8" y="326.0" font-size="4.8" text-anchor="start" fill="#111" font-weight="bold" >E</text><text x="248.5" y="353.0" font-size="4.8" text-anchor="start" fill="#111" font-weight="bold" >D</text><text x="258.5" y="363.0" font-size="4.8" text-anchor="start" fill="#111" font-weight="bold" >A</text><text x="268.5" y="369.0" font-size="4.8" text-anchor="start" fill="#111" font-weight="bold" >C</text><text x="289.5" y="387.0" font-size="4.8" text-anchor="start" fill="#111" font-weight="bold" >B</text><line x1="305.5" y1="403.5" x2="309.5" y2="403.5" stroke="#444" stroke-width="0.40" /><text x="310.5" y="404.5" font-size="2.8" text-anchor="start" fill="#444" font-weight="normal" >1m/s</text>
<g filter="url(#b1s)"><polygon points="280.5,247.0 285.8,247.0 285.5,249.6 280.2,249.6" fill="#c8e2ee" /><polygon points="286.7,247.0 292.0,247.0 291.7,249.6 286.4,249.6" fill="#fff4cc" /><polygon points="280.2,249.3 285.5,249.3 285.4,250.6 280.1,250.6" fill="#f28a52" /><polygon points="286.4,249.3 291.7,249.3 291.6,250.6 286.3,250.6" fill="#f28a52" /><polygon points="280.1,250.3 285.4,250.3 285.2,252.1 279.9,252.1" fill="#f7f3e0" /><polygon points="286.3,250.3 291.6,250.3 291.4,252.1 286.1,252.1" fill="#f7f3e0" /><polygon points="279.9,251.8 285.2,251.8 285.0,253.7 279.7,253.7" fill="#e4f2f4" /><polygon points="286.1,251.8 291.4,251.8 291.2,253.7 285.9,253.7" fill="#fde8b0" /><polygon points="279.7,253.4 285.0,253.4 284.8,254.9 279.5,254.9" fill="#f7f3e0" /><polygon points="285.9,253.4 291.2,253.4 291.0,254.9 285.7,254.9" fill="#f7f3e0" /><polygon points="279.5,254.6 284.8,254.6 284.7,255.9 279.4,255.9" fill="#fde0a0" /><polygon points="285.7,254.6 291.0,254.6 290.9,255.9 285.6,255.9" fill="#fbb46c" /><polygon points="279.4,255.6 284.7,255.6 284.4,258.0 279.1,258.0" fill="#e4f2f4" /><polygon points="285.6,255.6 290.9,255.6 290.6,258.0 285.3,258.0" fill="#e65a3a" /><polygon points="279.1,257.7 284.4,257.7 284.2,259.5 278.9,259.5" fill="#fcd08a" /><polygon points="285.3,257.7 290.6,257.7 290.4,259.5 285.1,259.5" fill="#f7f3e0" /><polygon points="278.9,259.2 284.2,259.2 284.0,261.0 278.7,261.0" fill="#fbb46c" /><polygon points="285.1,259.2 290.4,259.2 290.2,261.0 284.9,261.0" fill="#c8e2ee" /><polygon points="278.7,260.7 284.0,260.7 283.8,262.9 278.5,262.9" fill="#e65a3a" /><polygon points="284.9,260.7 290.2,260.7 290.0,262.9 284.7,262.9" fill="#e65a3a" /><polygon points="278.5,262.6 283.8,262.6 283.5,264.6 278.2,264.6" fill="#f7f3e0" /><polygon points="284.7,262.6 290.0,262.6 289.7,264.6 284.4,264.6" fill="#f7f3e0" /><polygon points="278.2,264.3 283.5,264.3 283.3,266.7 278.0,266.7" fill="#fde0a0" /><polygon points="284.4,264.3 289.7,264.3 289.5,266.7 284.2,266.7" fill="#fcd08a" /><polygon points="278.0,266.4 283.3,266.4 283.0,268.8 277.7,268.8" fill="#a8cfe6" /><polygon points="284.2,266.4 289.5,266.4 289.2,268.8 283.9,268.8" fill="#a8cfe6" /><polygon points="277.7,268.5 283.0,268.5 282.7,271.0 277.4,271.0" fill="#e4f2f4" /><polygon points="283.9,268.5 289.2,268.5 288.9,271.0 283.6,271.0" fill="#e4f2f4" /><polygon points="277.4,270.7 282.7,270.7 282.6,272.1 277.3,272.1" fill="#f28a52" /><polygon points="283.6,270.7 288.9,270.7 288.8,272.1 283.5,272.1" fill="#f28a52" /><polygon points="277.3,271.8 282.6,271.8 282.4,273.5 277.1,273.5" fill="#e65a3a" /><polygon points="283.5,271.8 288.8,271.8 288.6,273.5 283.3,273.5" fill="#e65a3a" /><polygon points="277.1,273.2 282.4,273.2 282.2,275.3 276.9,275.3" fill="#fff4cc" /><polygon points="283.3,273.2 288.6,273.2 288.4,275.3 283.1,275.3" fill="#fff4cc" /><polygon points="276.9,275.0 282.2,275.0 282.0,276.7 276.7,276.7" fill="#c8e2ee" /><polygon points="283.1,275.0 288.4,275.0 288.2,276.7 282.9,276.7" fill="#fff8d8" /><polygon points="276.7,276.4 282.0,276.4 281.7,278.5 276.4,278.5" fill="#fcd08a" /><polygon points="282.9,276.4 288.2,276.4 287.9,278.5 282.6,278.5" fill="#fcd08a" /><polygon points="276.4,278.2 281.7,278.2 281.5,280.6 276.2,280.6" fill="#f7f3e0" /><polygon points="282.6,278.2 287.9,278.2 287.7,280.6 282.4,280.6" fill="#fff8d8" /><polygon points="276.2,280.3 281.5,280.3 281.3,281.9 276.0,281.9" fill="#a8cfe6" /><polygon points="282.4,280.3 287.7,280.3 287.5,281.9 282.2,281.9" fill="#a8cfe6" /><polygon points="276.0,281.6 281.3,281.6 281.0,284.0 275.7,284.0" fill="#fff4cc" /><polygon points="282.2,281.6 287.5,281.6 287.2,284.0 281.9,284.0" fill="#fcd08a" /><polygon points="275.7,283.7 281.0,283.7 280.8,285.6 275.5,285.6" fill="#fde8b0" /><polygon points="281.9,283.7 287.2,283.7 287.0,285.6 281.7,285.6" fill="#fde8b0" /><polygon points="275.5,285.3 280.8,285.3 280.6,287.2 275.3,287.2" fill="#fcd08a" /><polygon points="281.7,285.3 287.0,285.3 286.8,287.2 281.5,287.2" fill="#fde0a0" /><polygon points="275.3,286.9 280.6,286.9 280.5,288.2 275.2,288.2" fill="#e4f2f4" /><polygon points="281.5,286.9 286.8,286.9 286.7,288.2 281.4,288.2" fill="#fde8b0" /><polygon points="275.2,287.9 280.5,287.9 280.3,289.9 275.0,289.9" fill="#fff8d8" /><polygon points="281.4,287.9 286.7,287.9 286.5,289.9 281.2,289.9" fill="#fbb46c" /><polygon points="275.0,289.6 280.3,289.6 280.1,291.0 274.8,291.0" fill="#f28a52" /><polygon points="281.2,289.6 286.5,289.6 286.3,291.0 281.0,291.0" fill="#f28a52" /><polygon points="274.8,290.7 280.1,290.7 280.0,292.0 274.7,292.0" fill="#c8e2ee" /><polygon points="281.0,290.7 286.3,290.7 286.2,292.0 280.9,292.0" fill="#c8e2ee" /><polygon points="274.7,291.7 280.0,291.7 279.8,293.3 274.5,293.3" fill="#fff8d8" /><polygon points="280.9,291.7 286.2,291.7 286.0,293.3 280.7,293.3" fill="#e4f2f4" /><polygon points="274.5,293.0 279.8,293.0 279.7,294.4 274.4,294.4" fill="#a8cfe6" /><polygon points="280.7,293.0 286.0,293.0 285.9,294.4 280.6,294.4" fill="#a8cfe6" /><polygon points="274.4,294.1 279.7,294.1 279.5,295.7 274.2,295.7" fill="#e4f2f4" /><polygon points="280.6,294.1 285.9,294.1 285.7,295.7 280.4,295.7" fill="#e4f2f4" /><polygon points="274.2,295.4 279.5,295.4 279.3,297.2 274.0,297.2" fill="#fde8b0" /><polygon points="280.4,295.4 285.7,295.4 285.5,297.2 280.2,297.2" fill="#fde8b0" /><polygon points="274.0,296.9 279.3,296.9 279.1,298.7 273.8,298.7" fill="#f28a52" /><polygon points="280.2,296.9 285.5,296.9 285.3,298.7 280.0,298.7" fill="#e65a3a" /><polygon points="273.8,298.4 279.1,298.4 278.9,300.7 273.6,300.7" fill="#fff4cc" /><polygon points="280.0,298.4 285.3,298.4 285.1,300.7 279.8,300.7" fill="#fde0a0" /><polygon points="273.6,300.4 278.9,300.4 278.6,302.7 273.3,302.7" fill="#a8cfe6" /><polygon points="279.8,300.4 285.1,300.4 284.8,302.7 279.5,302.7" fill="#a8cfe6" /><polygon points="273.3,302.4 278.6,302.4 278.4,304.3 273.1,304.3" fill="#e65a3a" /><polygon points="279.5,302.4 284.8,302.4 284.6,304.3 279.3,304.3" fill="#e65a3a" /><polygon points="273.1,304.0 278.4,304.0 278.1,306.5 272.8,306.5" fill="#fff4cc" /><polygon points="279.3,304.0 284.6,304.0 284.3,306.5 279.0,306.5" fill="#fff4cc" /><polygon points="272.8,306.2 278.1,306.2 278.0,307.7 272.7,307.7" fill="#a8cfe6" /><polygon points="279.0,306.2 284.3,306.2 284.2,307.7 278.9,307.7" fill="#f28a52" /><polygon points="272.7,307.4 278.0,307.4 277.8,309.0 272.5,309.0" fill="#fde0a0" /><polygon points="278.9,307.4 284.2,307.4 284.0,309.0 278.7,309.0" fill="#fde0a0" /><polygon points="272.5,308.7 277.8,308.7 277.5,310.8 272.2,310.8" fill="#a8cfe6" /><polygon points="278.7,308.7 284.0,308.7 283.7,310.8 278.4,310.8" fill="#a8cfe6" /><polygon points="272.2,310.5 277.5,310.5 277.3,313.0 272.0,313.0" fill="#fff8d8" /><polygon points="278.4,310.5 283.7,310.5 283.5,313.0 278.2,313.0" fill="#f7f3e0" /><polygon points="272.0,312.7 277.3,312.7 277.1,314.4 271.8,314.4" fill="#fbb46c" /><polygon points="278.2,312.7 283.5,312.7 283.3,314.4 278.0,314.4" fill="#fbb46c" /><polygon points="271.8,314.1 277.1,314.1 276.8,316.5 271.5,316.5" fill="#fcd08a" /><polygon points="278.0,314.1 283.3,314.1 283.0,316.5 277.7,316.5" fill="#f28a52" /><polygon points="271.5,316.2 276.8,316.2 276.6,317.8 271.3,317.8" fill="#fde0a0" /><polygon points="277.7,316.2 283.0,316.2 282.8,317.8 277.5,317.8" fill="#fde0a0" /><polygon points="271.3,317.5 276.6,317.5 276.6,318.3 271.3,318.3" fill="#f7f3e0" /><polygon points="277.5,317.5 282.8,317.5 282.8,318.3 277.5,318.3" fill="#f7f3e0" /></g><g filter="url(#b1s)"><polygon points="271.3,318.0 276.6,318.0 276.1,321.9 270.8,321.9" fill="#ffefb8" /><polygon points="277.5,318.0 282.8,318.0 282.3,321.9 277.0,321.9" fill="#ffefb8" /><polygon points="270.8,321.6 276.1,321.6 275.7,325.2 270.4,325.2" fill="#fde6a0" /><polygon points="277.0,321.6 282.3,321.6 281.9,325.2 276.6,325.2" fill="#fde6a0" /><polygon points="270.4,324.9 275.7,324.9 275.2,328.5 269.9,328.5" fill="#c62a24" /><polygon points="276.6,324.9 281.9,324.9 281.4,328.5 276.1,328.5" fill="#ffefb8" /><polygon points="269.9,328.2 275.2,328.2 274.6,333.3 269.3,333.3" fill="#fba35e" /><polygon points="276.1,328.2 281.4,328.2 280.8,333.3 275.5,333.3" fill="#fba35e" /><polygon points="269.3,333.0 274.6,333.0 274.2,336.3 268.9,336.3" fill="#c62a24" /><polygon points="275.5,333.0 280.8,333.0 280.4,336.3 275.1,336.3" fill="#d83a2a" /><polygon points="268.9,336.0 274.2,336.0 273.9,339.2 268.6,339.2" fill="#f27a48" /><polygon points="275.1,336.0 280.4,336.0 280.1,339.2 274.8,339.2" fill="#f27a48" /><polygon points="268.6,338.9 273.9,338.9 273.4,342.3 268.1,342.3" fill="#7fb3d8" /><polygon points="274.8,338.9 280.1,338.9 279.6,342.3 274.3,342.3" fill="#7fb3d8" /><polygon points="268.1,342.0 273.4,342.0 273.0,346.1 267.7,346.1" fill="#ffefb8" /><polygon points="274.3,342.0 279.6,342.0 279.2,346.1 273.9,346.1" fill="#e9553a" /><polygon points="267.7,345.8 273.0,345.8 272.5,349.6 267.2,349.6" fill="#d83a2a" /><polygon points="273.9,345.8 279.2,345.8 278.7,349.6 273.4,349.6" fill="#7fb3d8" /><polygon points="267.2,349.3 272.5,349.3 271.9,354.0 266.6,354.0" fill="#7fb3d8" /><polygon points="273.4,349.3 278.7,349.3 278.1,354.0 272.8,354.0" fill="#7fb3d8" /><polygon points="266.6,353.7 271.9,353.7 271.6,356.8 266.3,356.8" fill="#fba35e" /><polygon points="272.8,353.7 278.1,353.7 277.8,356.8 272.5,356.8" fill="#fba35e" /><polygon points="266.3,356.5 271.6,356.5 271.0,361.1 265.7,361.1" fill="#a9d2ea" /><polygon points="272.5,356.5 277.8,356.5 277.2,361.1 271.9,361.1" fill="#a9d2ea" /><polygon points="265.7,360.8 271.0,360.8 270.4,366.1 265.1,366.1" fill="#f27a48" /><polygon points="271.9,360.8 277.2,360.8 276.6,366.1 271.3,366.1" fill="#f27a48" /><polygon points="265.1,365.8 270.4,365.8 269.9,369.6 264.6,369.6" fill="#e9553a" /><polygon points="271.3,365.8 276.6,365.8 276.1,369.6 270.8,369.6" fill="#e9553a" /><polygon points="264.6,369.3 269.9,369.3 269.5,372.7 264.2,372.7" fill="#f27a48" /><polygon points="270.8,369.3 276.1,369.3 275.7,372.7 270.4,372.7" fill="#f27a48" /><polygon points="264.2,372.4 269.5,372.4 269.0,376.3 263.7,376.3" fill="#a9d2ea" /><polygon points="270.4,372.4 275.7,372.4 275.2,376.3 269.9,376.3" fill="#a9d2ea" /><polygon points="263.7,376.0 269.0,376.0 268.5,380.3 263.2,380.3" fill="#c62a24" /><polygon points="269.9,376.0 275.2,376.0 274.7,380.3 269.4,380.3" fill="#c62a24" /></g>
<path d="M204.1,247.7 C203.0,249.3 203.1,253.0 203.4,255.5 C203.8,258.0 204.4,260.9 206.2,262.5 C208.0,264.1 211.3,265.1 214.0,265.3 C216.7,265.5 220.5,265.1 222.4,263.9 C224.3,262.7 225.1,260.2 225.3,258.3 C225.5,256.4 225.0,254.4 223.8,252.6 C222.6,250.8 220.5,248.3 218.2,247.2 C215.9,246.1 212.3,245.9 210.0,246.0 C207.7,246.1 205.2,246.1 204.1,247.7 Z" fill="none" stroke="#d94a4a" stroke-width="0.90" />
<path d="M255.0,247.0 C253.4,248.7 254.8,252.8 255.5,255.0 C256.2,257.2 257.4,259.3 259.0,260.5 C260.6,261.7 263.0,262.1 265.0,262.0 C267.0,261.9 269.5,261.3 271.0,260.0 C272.5,258.7 273.8,256.1 274.2,254.0 C274.6,251.9 275.0,249.0 273.5,247.5 C272.0,246.0 268.1,245.1 265.0,245.0 C261.9,244.9 256.6,245.3 255.0,247.0 Z" fill="none" stroke="#d94a4a" stroke-width="0.90" />
<path d="M226.7,278.0 C227.3,275.6 227.9,274.7 229.5,275.2 C231.1,275.7 233.9,278.4 236.5,280.8 C239.1,283.2 244.1,287.0 245.0,289.3 C245.9,291.6 243.8,293.4 242.2,294.9 C240.5,296.4 237.4,298.0 235.1,298.4 C232.8,298.8 229.6,298.5 228.1,297.0 C226.6,295.5 226.2,292.5 226.0,289.3 C225.8,286.1 226.1,280.4 226.7,278.0 Z" fill="none" stroke="#d94a4a" stroke-width="0.90" />
<path d="M282.3,311.1 C282.3,308.4 283.4,306.7 285.0,305.5 C286.6,304.3 289.5,303.4 292.1,304.1 C294.7,304.8 298.5,307.4 300.6,309.7 C302.7,312.0 304.6,315.8 304.8,318.2 C305.0,320.6 303.9,322.5 302.0,323.8 C300.1,325.1 296.3,326.2 293.5,325.9 C290.7,325.5 286.9,324.2 285.0,321.7 C283.1,319.2 282.3,313.8 282.3,311.1 Z" fill="none" stroke="#d94a4a" stroke-width="0.90" />
<path d="M205.0,276.2 C207.3,276.2 210.6,277.2 212.5,278.5 C214.4,279.8 215.8,281.9 216.5,284.0 C217.2,286.1 217.2,288.9 216.5,291.0 C215.8,293.1 214.4,295.3 212.5,296.5 C210.6,297.7 207.5,298.4 205.0,298.4 C202.5,298.4 199.4,297.8 197.5,296.5 C195.6,295.2 194.1,292.8 193.5,290.5 C192.9,288.2 193.2,285.1 194.0,283.0 C194.8,280.9 196.7,279.3 198.5,278.2 C200.3,277.1 202.7,276.1 205.0,276.2 Z" fill="none" stroke="#4d9d4d" stroke-width="0.90" />
<path d="M242.8,314.0 C243.6,311.8 246.4,310.9 248.5,310.4 C250.6,309.9 253.3,310.0 255.5,311.1 C257.7,312.2 260.1,314.2 261.8,316.8 C263.6,319.4 265.5,324.2 266.0,326.6 C266.5,329.1 265.9,330.4 264.6,331.5 C263.3,332.6 261.0,333.4 258.3,333.0 C255.6,332.6 251.0,330.9 248.5,329.4 C246.0,327.9 244.4,326.4 243.5,323.8 C242.6,321.2 242.0,316.2 242.8,314.0 Z" fill="none" stroke="#4d9d4d" stroke-width="0.90" />
<path d="M252.0,274.0 C252.6,272.2 254.0,270.4 256.0,269.5 C258.0,268.6 261.3,268.2 264.0,268.5 C266.7,268.8 269.8,269.6 272.0,271.0 C274.2,272.4 276.8,274.8 277.5,277.0 C278.2,279.2 277.6,282.5 276.0,284.0 C274.4,285.5 271.0,285.9 268.0,286.0 C265.0,286.1 260.6,285.5 258.0,284.5 C255.4,283.5 253.5,281.8 252.5,280.0 C251.5,278.2 251.4,275.8 252.0,274.0 Z" fill="none" stroke="#4d9d4d" stroke-width="0.90" />
<path d="M299.0,272.0 C299.2,269.2 300.5,265.7 302.0,264.0 C303.5,262.3 305.9,261.8 308.0,261.6 C310.1,261.4 312.8,261.6 314.5,263.0 C316.2,264.4 317.4,267.2 318.0,270.0 C318.6,272.8 318.7,277.3 318.0,280.0 C317.3,282.7 316.0,285.0 314.0,286.0 C312.0,287.0 308.2,287.0 306.0,286.2 C303.8,285.4 301.7,283.4 300.5,281.0 C299.3,278.6 298.8,274.8 299.0,272.0 Z" fill="none" stroke="#4d9d4d" stroke-width="0.90" />
<rect x="242.3" y="289.3" width="60.5" height="109.2" fill="none" stroke="#444" stroke-width="0.7"/>
</g>
<text x="184.8" y="259.5" font-size="10.0" text-anchor="start" fill="#0a0a0a" font-weight="bold" >e)</text>
<text x="185.8" y="406.5" font-size="14.8" text-anchor="start" fill="#0a0a0a" font-weight="normal" >CE</text>
<g clip-path="url(#cf)">
<rect x="327.0" y="247.0" width="148.0" height="162.0" fill="#d3e5f1" />
<g filter="url(#b6)">
<ellipse cx="362.0" cy="262.0" rx="9.0" ry="34.0" transform="rotate(-40.0 362.0 262.0)" fill="#f6efd6" />
<ellipse cx="372.0" cy="305.0" rx="23.0" ry="55.0" transform="rotate(-38.0 372.0 305.0)" fill="#f2c29e" />
<ellipse cx="392.0" cy="268.0" rx="10.0" ry="30.0" transform="rotate(-40.0 392.0 268.0)" fill="#c6dbee" />
<ellipse cx="425.0" cy="262.0" rx="14.0" ry="18.0" transform="rotate(0.0 425.0 262.0)" fill="#f4eadc" />
<ellipse cx="436.0" cy="328.0" rx="24.0" ry="22.0" transform="rotate(0.0 436.0 328.0)" fill="#f7dcc4" />
<ellipse cx="445.0" cy="372.0" rx="36.0" ry="24.0" transform="rotate(0.0 445.0 372.0)" fill="#f9e4c8" />
<ellipse cx="470.0" cy="350.0" rx="10.0" ry="30.0" transform="rotate(0.0 470.0 350.0)" fill="#f8e8d4" />
<ellipse cx="408.0" cy="312.0" rx="10.0" ry="14.0" transform="rotate(0.0 408.0 312.0)" fill="#cfe1ef" />
<ellipse cx="468.0" cy="280.0" rx="10.0" ry="30.0" transform="rotate(0.0 468.0 280.0)" fill="#d0e2f0" />
</g>
<ellipse cx="372.0" cy="305.0" rx="17.5" ry="45.0" transform="rotate(-38.0 372.0 305.0)" fill="url(#gRed)" />
<ellipse cx="415.5" cy="278.0" rx="8.0" ry="12.0" transform="rotate(0.0 415.5 278.0)" fill="url(#gPink)" />
<ellipse cx="436.0" cy="328.0" rx="17.0" ry="16.0" transform="rotate(0.0 436.0 328.0)" fill="url(#gPink)" opacity="0.8"/>
<ellipse cx="437.0" cy="276.0" rx="10.0" ry="9.0" transform="rotate(0.0 437.0 276.0)" fill="url(#gBlueL)" opacity="0.6"/>
<g fill="none" stroke="#444" stroke-width="0.45" opacity="0.8"><polyline points="327.0,300.0 337.0,302.5 349.0,307.0 361.0,315.0 375.0,322.0 387.0,330.0 399.0,338.0 409.0,344.0 415.0,348.0 423.5,356.3 434.8,360.6 447.5,363.4 463.0,364.8 467.0,366.0"/><polyline points="327.0,304.0 341.0,307.0 353.0,313.0 367.0,321.0 381.0,330.0 393.0,339.0 403.0,347.0 413.0,355.0 423.0,364.0 433.0,370.0 445.0,374.0 457.0,377.0 467.0,380.0"/><polyline points="404.5,302.0 409.0,305.0 415.0,308.5 421.0,311.0 426.4,314.0 429.0,319.7 433.0,321.0 437.6,322.5 441.0,320.0 446.0,321.0 450.0,323.0 454.5,324.6 460.0,329.6 463.0,333.8 467.0,336.0"/><polyline points="417.0,316.0 422.0,323.0 427.8,328.0 436.2,331.0 441.0,332.0 447.5,333.8 453.0,336.6 457.3,335.2 463.0,338.0 467.0,339.0"/><polyline points="331.0,298.0 343.0,300.0 351.0,302.0 357.0,301.0 363.0,304.0 371.0,306.0 379.0,306.0 387.0,309.0 395.0,312.0 403.0,313.0 409.0,318.0 413.0,322.0"/><polyline points="413.0,372.0 421.0,376.0 431.0,380.0 441.0,384.0 451.0,387.0 461.0,389.0 467.0,390.0"/><polyline points="419.0,340.0 427.0,344.0 435.0,346.0 441.0,350.0 447.0,349.0 453.0,352.0 459.0,356.0 467.0,357.0"/><polyline points="431.0,370.0 439.0,372.0 447.0,375.0 455.0,378.0 461.0,380.0 467.0,383.0"/><polyline points="439.0,306.0 445.0,309.0 451.0,312.0 457.0,310.0 463.0,313.0 467.0,315.0"/><polyline points="351.0,300.0 361.0,306.0 371.0,311.0 383.0,318.0 395.0,326.0 405.0,333.0 413.0,338.0 419.0,342.0"/></g>
<g fill="none" stroke="#555" stroke-width="0.45" opacity="0.7">
<polyline points="376.0,247.0 392.0,265.0 410.0,285.0 430.0,305.0 452.0,325.0 475.0,345.0" fill="none" stroke="#555" stroke-width="0.45" />
<polyline points="395.0,247.0 412.0,262.0 430.0,278.0 448.0,292.0 466.0,305.0 475.0,312.0" fill="none" stroke="#555" stroke-width="0.45" />
</g>
<g stroke="#555" stroke-width="0.55" opacity="0.6"><line x1="331.7" y1="252.5" x2="330.3" y2="252.5"/><line x1="336.8" y1="253.0" x2="337.7" y2="252.0"/><line x1="343.7" y1="253.2" x2="343.3" y2="251.8"/><line x1="350.4" y1="252.6" x2="349.1" y2="252.4"/><line x1="355.4" y1="252.2" x2="356.6" y2="252.8"/><line x1="361.6" y1="252.5" x2="362.9" y2="252.5"/><line x1="367.8" y1="252.5" x2="369.2" y2="252.5"/><line x1="375.0" y1="251.9" x2="374.5" y2="253.1"/><line x1="381.1" y1="253.2" x2="380.9" y2="251.8"/><line x1="387.7" y1="253.0" x2="386.8" y2="252.0"/><line x1="393.0" y1="253.0" x2="394.0" y2="252.0"/><line x1="400.3" y1="253.0" x2="399.2" y2="252.0"/><line x1="406.6" y1="252.9" x2="405.4" y2="252.1"/><line x1="411.6" y1="252.2" x2="412.9" y2="252.8"/><line x1="417.9" y1="252.9" x2="419.1" y2="252.1"/><line x1="424.9" y1="253.2" x2="424.6" y2="251.8"/><line x1="430.9" y1="251.8" x2="431.1" y2="253.2"/><line x1="436.9" y1="253.1" x2="437.6" y2="251.9"/><line x1="444.1" y1="252.9" x2="442.9" y2="252.1"/><line x1="449.1" y1="252.7" x2="450.4" y2="252.3"/><line x1="456.7" y1="252.7" x2="455.3" y2="252.3"/><line x1="461.8" y1="253.1" x2="462.7" y2="251.9"/><line x1="467.9" y1="252.8" x2="469.1" y2="252.2"/><line x1="475.3" y1="252.1" x2="474.2" y2="252.9"/><line x1="330.3" y1="259.0" x2="331.7" y2="258.5"/><line x1="337.8" y1="259.2" x2="336.7" y2="258.3"/><line x1="342.9" y1="258.5" x2="344.1" y2="259.0"/><line x1="350.3" y1="258.3" x2="349.2" y2="259.2"/><line x1="356.0" y1="259.4" x2="356.0" y2="258.1"/><line x1="361.9" y1="259.3" x2="362.6" y2="258.2"/><line x1="367.9" y1="258.4" x2="369.1" y2="259.1"/><line x1="374.2" y1="258.3" x2="375.3" y2="259.2"/><line x1="380.3" y1="258.9" x2="381.7" y2="258.6"/><line x1="386.9" y1="258.2" x2="387.6" y2="259.3"/><line x1="393.5" y1="258.1" x2="393.5" y2="259.4"/><line x1="399.2" y1="258.4" x2="400.3" y2="259.1"/><line x1="405.3" y1="258.6" x2="406.7" y2="258.9"/><line x1="412.8" y1="258.3" x2="411.7" y2="259.2"/><line x1="419.2" y1="258.7" x2="417.8" y2="258.8"/><line x1="424.1" y1="258.6" x2="425.4" y2="258.9"/><line x1="431.6" y1="259.2" x2="430.4" y2="258.3"/><line x1="437.8" y1="259.1" x2="436.7" y2="258.4"/><line x1="444.1" y1="258.3" x2="442.9" y2="259.2"/><line x1="450.3" y1="259.1" x2="449.2" y2="258.4"/><line x1="456.6" y1="259.1" x2="455.4" y2="258.4"/><line x1="462.9" y1="258.7" x2="461.6" y2="258.8"/><line x1="469.0" y1="258.3" x2="468.0" y2="259.2"/><line x1="475.2" y1="258.2" x2="474.3" y2="259.3"/><line x1="331.7" y1="264.8" x2="330.3" y2="265.2"/><line x1="337.7" y1="265.6" x2="336.8" y2="264.4"/><line x1="344.2" y1="265.0" x2="342.8" y2="265.0"/><line x1="350.2" y1="264.5" x2="349.3" y2="265.5"/><line x1="355.7" y1="265.7" x2="356.3" y2="264.3"/><line x1="361.7" y1="264.6" x2="362.8" y2="265.4"/><line x1="369.1" y1="265.3" x2="367.9" y2="264.7"/><line x1="374.4" y1="264.4" x2="375.1" y2="265.6"/><line x1="380.9" y1="265.7" x2="381.1" y2="264.3"/><line x1="387.9" y1="265.1" x2="386.6" y2="264.9"/><line x1="394.0" y1="264.5" x2="393.0" y2="265.5"/><line x1="399.1" y1="265.3" x2="400.4" y2="264.7"/><line x1="405.4" y1="265.4" x2="406.6" y2="264.6"/><line x1="412.9" y1="265.3" x2="411.6" y2="264.7"/><line x1="419.0" y1="265.5" x2="418.0" y2="264.5"/><line x1="424.7" y1="265.7" x2="424.8" y2="264.3"/><line x1="430.4" y1="265.4" x2="431.6" y2="264.6"/><line x1="437.4" y1="265.7" x2="437.1" y2="264.3"/><line x1="443.2" y1="265.6" x2="443.8" y2="264.4"/><line x1="449.6" y1="264.3" x2="449.9" y2="265.7"/><line x1="455.5" y1="265.4" x2="456.5" y2="264.6"/><line x1="462.8" y1="265.4" x2="461.7" y2="264.6"/><line x1="467.8" y1="265.2" x2="469.2" y2="264.8"/><line x1="474.9" y1="264.3" x2="474.6" y2="265.7"/><line x1="331.6" y1="271.5" x2="330.4" y2="271.0"/><line x1="337.3" y1="270.6" x2="337.2" y2="271.9"/><line x1="344.2" y1="271.0" x2="342.8" y2="271.5"/><line x1="350.4" y1="271.3" x2="349.1" y2="271.2"/><line x1="355.3" y1="271.5" x2="356.7" y2="271.0"/><line x1="362.8" y1="271.7" x2="361.7" y2="270.8"/><line x1="369.0" y1="270.8" x2="368.0" y2="271.7"/><line x1="374.2" y1="270.8" x2="375.3" y2="271.7"/><line x1="381.6" y1="271.7" x2="380.4" y2="270.8"/><line x1="387.5" y1="270.6" x2="387.0" y2="271.9"/><line x1="393.4" y1="270.6" x2="393.6" y2="271.9"/><line x1="399.2" y1="271.7" x2="400.3" y2="270.8"/><line x1="405.4" y1="271.6" x2="406.6" y2="270.9"/><line x1="412.0" y1="270.6" x2="412.5" y2="271.9"/><line x1="418.4" y1="271.9" x2="418.6" y2="270.6"/><line x1="424.1" y1="271.5" x2="425.4" y2="271.0"/><line x1="431.5" y1="271.7" x2="430.5" y2="270.8"/><line x1="437.9" y1="271.5" x2="436.6" y2="271.0"/><line x1="443.2" y1="270.6" x2="443.8" y2="271.9"/><line x1="449.3" y1="271.8" x2="450.2" y2="270.7"/><line x1="456.7" y1="271.4" x2="455.3" y2="271.1"/><line x1="462.9" y1="271.1" x2="461.6" y2="271.4"/><line x1="468.7" y1="270.6" x2="468.3" y2="271.9"/><line x1="474.2" y1="270.8" x2="475.3" y2="271.7"/><line x1="331.7" y1="277.2" x2="330.3" y2="277.8"/><line x1="336.6" y1="277.6" x2="337.9" y2="277.4"/><line x1="344.2" y1="277.4" x2="342.8" y2="277.6"/><line x1="350.4" y1="277.7" x2="349.1" y2="277.3"/><line x1="355.6" y1="276.9" x2="356.4" y2="278.1"/><line x1="362.2" y1="276.8" x2="362.3" y2="278.2"/><line x1="369.1" y1="277.8" x2="367.9" y2="277.2"/><line x1="375.0" y1="278.2" x2="374.5" y2="276.8"/><line x1="380.8" y1="276.8" x2="381.2" y2="278.2"/><line x1="387.4" y1="278.2" x2="387.1" y2="276.8"/><line x1="393.8" y1="276.9" x2="393.2" y2="278.1"/><line x1="399.5" y1="278.2" x2="400.0" y2="276.8"/><line x1="406.4" y1="278.1" x2="405.6" y2="276.9"/><line x1="412.3" y1="278.2" x2="412.2" y2="276.8"/><line x1="418.0" y1="277.0" x2="419.0" y2="278.0"/><line x1="424.1" y1="277.6" x2="425.4" y2="277.4"/><line x1="430.8" y1="278.2" x2="431.2" y2="276.8"/><line x1="436.6" y1="277.4" x2="437.9" y2="277.6"/><line x1="443.8" y1="278.1" x2="443.2" y2="276.9"/><line x1="449.1" y1="277.3" x2="450.4" y2="277.7"/><line x1="455.6" y1="276.9" x2="456.4" y2="278.1"/><line x1="461.7" y1="277.1" x2="462.8" y2="277.9"/><line x1="468.2" y1="278.1" x2="468.8" y2="276.9"/><line x1="475.4" y1="277.3" x2="474.1" y2="277.7"/><line x1="331.3" y1="284.4" x2="330.7" y2="283.1"/><line x1="337.2" y1="283.1" x2="337.3" y2="284.4"/><line x1="343.2" y1="284.4" x2="343.8" y2="283.1"/><line x1="350.4" y1="283.8" x2="349.1" y2="283.7"/><line x1="355.7" y1="284.4" x2="356.3" y2="283.1"/><line x1="362.2" y1="284.4" x2="362.3" y2="283.1"/><line x1="367.8" y1="283.8" x2="369.2" y2="283.7"/><line x1="374.4" y1="284.3" x2="375.1" y2="283.2"/><line x1="380.6" y1="283.2" x2="381.4" y2="284.3"/><line x1="387.3" y1="284.4" x2="387.2" y2="283.1"/><line x1="394.1" y1="284.2" x2="392.9" y2="283.3"/><line x1="399.9" y1="283.1" x2="399.6" y2="284.4"/><line x1="405.5" y1="284.2" x2="406.5" y2="283.3"/><line x1="412.7" y1="284.3" x2="411.8" y2="283.2"/><line x1="419.1" y1="284.0" x2="417.9" y2="283.5"/><line x1="424.1" y1="283.9" x2="425.4" y2="283.6"/><line x1="430.7" y1="283.1" x2="431.3" y2="284.4"/><line x1="437.3" y1="283.1" x2="437.2" y2="284.4"/><line x1="444.2" y1="283.8" x2="442.8" y2="283.7"/><line x1="449.9" y1="284.4" x2="449.6" y2="283.1"/><line x1="456.0" y1="283.1" x2="456.0" y2="284.4"/><line x1="461.6" y1="283.5" x2="462.9" y2="284.0"/><line x1="468.1" y1="284.3" x2="468.9" y2="283.2"/><line x1="474.3" y1="283.2" x2="475.2" y2="284.3"/><line x1="330.3" y1="289.9" x2="331.7" y2="290.1"/><line x1="336.9" y1="289.4" x2="337.6" y2="290.6"/><line x1="343.5" y1="290.7" x2="343.5" y2="289.3"/><line x1="350.4" y1="290.2" x2="349.1" y2="289.8"/><line x1="356.2" y1="289.3" x2="355.8" y2="290.7"/><line x1="362.6" y1="289.4" x2="361.9" y2="290.6"/><line x1="367.9" y1="290.3" x2="369.1" y2="289.7"/><line x1="375.4" y1="290.0" x2="374.1" y2="290.0"/><line x1="381.5" y1="290.5" x2="380.5" y2="289.5"/><line x1="387.4" y1="290.7" x2="387.1" y2="289.3"/><line x1="393.3" y1="290.7" x2="393.7" y2="289.3"/><line x1="399.8" y1="290.7" x2="399.7" y2="289.3"/><line x1="406.5" y1="290.5" x2="405.5" y2="289.5"/><line x1="412.9" y1="290.0" x2="411.6" y2="290.0"/><line x1="418.2" y1="289.4" x2="418.8" y2="290.6"/><line x1="424.3" y1="289.5" x2="425.2" y2="290.5"/><line x1="430.5" y1="290.5" x2="431.5" y2="289.5"/><line x1="437.5" y1="289.4" x2="437.0" y2="290.6"/><line x1="443.8" y1="289.3" x2="443.2" y2="290.7"/><line x1="450.4" y1="290.0" x2="449.1" y2="290.0"/><line x1="456.7" y1="290.1" x2="455.3" y2="289.9"/><line x1="461.6" y1="289.9" x2="462.9" y2="290.1"/><line x1="468.1" y1="290.5" x2="468.9" y2="289.5"/><line x1="474.5" y1="289.4" x2="475.0" y2="290.6"/><line x1="331.2" y1="295.6" x2="330.8" y2="296.9"/><line x1="336.9" y1="296.9" x2="337.6" y2="295.6"/><line x1="342.9" y1="295.9" x2="344.1" y2="296.6"/><line x1="350.4" y1="296.1" x2="349.1" y2="296.4"/><line x1="355.7" y1="295.6" x2="356.3" y2="296.9"/><line x1="362.8" y1="296.6" x2="361.7" y2="295.9"/><line x1="369.1" y1="296.0" x2="367.9" y2="296.5"/><line x1="375.0" y1="296.9" x2="374.5" y2="295.6"/><line x1="381.6" y1="296.6" x2="380.4" y2="295.9"/><line x1="386.7" y1="296.6" x2="387.8" y2="295.9"/><line x1="394.0" y1="296.7" x2="393.0" y2="295.8"/><line x1="399.1" y1="296.2" x2="400.4" y2="296.3"/><line x1="405.5" y1="296.8" x2="406.5" y2="295.7"/><line x1="412.5" y1="296.9" x2="412.0" y2="295.6"/><line x1="417.9" y1="295.9" x2="419.1" y2="296.6"/><line x1="424.1" y1="296.3" x2="425.4" y2="296.2"/><line x1="431.2" y1="296.9" x2="430.8" y2="295.6"/><line x1="437.6" y1="295.6" x2="436.9" y2="296.9"/><line x1="444.0" y1="295.7" x2="443.0" y2="296.8"/><line x1="449.4" y1="296.8" x2="450.1" y2="295.7"/><line x1="456.0" y1="295.6" x2="456.0" y2="296.9"/><line x1="461.6" y1="296.2" x2="462.9" y2="296.3"/><line x1="468.7" y1="295.6" x2="468.3" y2="296.9"/><line x1="474.5" y1="296.9" x2="475.0" y2="295.6"/><line x1="331.7" y1="302.5" x2="330.3" y2="302.5"/><line x1="337.3" y1="301.8" x2="337.2" y2="303.2"/><line x1="344.2" y1="302.3" x2="342.8" y2="302.7"/><line x1="349.3" y1="303.0" x2="350.2" y2="302.0"/><line x1="356.3" y1="303.1" x2="355.7" y2="301.9"/><line x1="361.6" y1="302.5" x2="362.9" y2="302.5"/><line x1="367.8" y1="302.3" x2="369.2" y2="302.7"/><line x1="375.4" y1="302.8" x2="374.1" y2="302.2"/><line x1="381.6" y1="302.9" x2="380.4" y2="302.1"/><line x1="386.9" y1="301.9" x2="387.6" y2="303.1"/><line x1="393.8" y1="301.9" x2="393.2" y2="303.1"/><line x1="399.1" y1="302.5" x2="400.4" y2="302.5"/><line x1="406.7" y1="302.5" x2="405.3" y2="302.5"/><line x1="411.6" y1="302.8" x2="412.9" y2="302.2"/><line x1="418.8" y1="303.1" x2="418.2" y2="301.9"/><line x1="424.3" y1="303.1" x2="425.2" y2="301.9"/><line x1="431.0" y1="303.2" x2="431.0" y2="301.8"/><line x1="437.9" y1="302.2" x2="436.6" y2="302.8"/><line x1="442.8" y1="302.7" x2="444.2" y2="302.3"/><line x1="450.4" y1="302.7" x2="449.1" y2="302.3"/><line x1="455.7" y1="303.1" x2="456.3" y2="301.9"/><line x1="461.6" y1="302.6" x2="462.9" y2="302.4"/><line x1="469.2" y1="302.3" x2="467.8" y2="302.7"/><line x1="475.4" y1="302.2" x2="474.1" y2="302.8"/><line x1="330.4" y1="308.3" x2="331.6" y2="309.2"/><line x1="337.1" y1="308.1" x2="337.4" y2="309.4"/><line x1="343.0" y1="309.2" x2="344.0" y2="308.3"/><line x1="350.4" y1="308.6" x2="349.1" y2="308.9"/><line x1="356.0" y1="309.4" x2="356.0" y2="308.1"/><line x1="361.9" y1="309.3" x2="362.6" y2="308.2"/><line x1="368.0" y1="308.2" x2="369.0" y2="309.3"/><line x1="375.3" y1="308.3" x2="374.2" y2="309.2"/><line x1="381.5" y1="308.2" x2="380.5" y2="309.3"/><line x1="386.8" y1="308.2" x2="387.7" y2="309.3"/><line x1="392.9" y1="309.1" x2="394.1" y2="308.4"/><line x1="400.4" y1="308.5" x2="399.1" y2="309.0"/><line x1="406.7" y1="308.7" x2="405.3" y2="308.8"/><line x1="412.9" y1="309.1" x2="411.6" y2="308.4"/><line x1="419.1" y1="308.5" x2="417.9" y2="309.0"/><line x1="425.4" y1="308.5" x2="424.1" y2="309.0"/><line x1="430.5" y1="308.3" x2="431.5" y2="309.2"/><line x1="437.5" y1="309.4" x2="437.0" y2="308.1"/><line x1="443.7" y1="308.1" x2="443.3" y2="309.4"/><line x1="449.2" y1="309.2" x2="450.3" y2="308.3"/><line x1="456.7" y1="308.9" x2="455.3" y2="308.6"/><line x1="461.9" y1="309.4" x2="462.6" y2="308.1"/><line x1="468.1" y1="309.3" x2="468.9" y2="308.2"/><line x1="474.4" y1="309.4" x2="475.1" y2="308.1"/><line x1="330.3" y1="315.1" x2="331.7" y2="314.9"/><line x1="337.9" y1="315.2" x2="336.6" y2="314.8"/><line x1="344.2" y1="315.2" x2="342.8" y2="314.8"/><line x1="350.4" y1="315.1" x2="349.1" y2="314.9"/><line x1="355.3" y1="315.1" x2="356.7" y2="314.9"/><line x1="362.8" y1="315.4" x2="361.7" y2="314.6"/><line x1="367.8" y1="315.2" x2="369.2" y2="314.8"/><line x1="375.4" y1="314.7" x2="374.1" y2="315.3"/><line x1="381.0" y1="315.7" x2="381.0" y2="314.3"/><line x1="387.2" y1="314.3" x2="387.3" y2="315.7"/><line x1="394.2" y1="314.8" x2="392.8" y2="315.2"/><line x1="399.6" y1="314.3" x2="399.9" y2="315.7"/><line x1="405.3" y1="315.0" x2="406.7" y2="315.0"/><line x1="411.8" y1="314.5" x2="412.7" y2="315.5"/><line x1="418.4" y1="315.7" x2="418.6" y2="314.3"/><line x1="424.1" y1="314.9" x2="425.4" y2="315.1"/><line x1="431.6" y1="315.3" x2="430.4" y2="314.7"/><line x1="437.3" y1="314.3" x2="437.2" y2="315.7"/><line x1="444.1" y1="314.7" x2="442.9" y2="315.3"/><line x1="449.1" y1="315.3" x2="450.4" y2="314.7"/><line x1="456.3" y1="315.6" x2="455.7" y2="314.4"/><line x1="462.3" y1="314.3" x2="462.2" y2="315.7"/><line x1="467.8" y1="315.2" x2="469.2" y2="314.8"/><line x1="475.3" y1="314.5" x2="474.2" y2="315.5"/><line x1="331.7" y1="321.2" x2="330.3" y2="321.3"/><line x1="337.9" y1="321.1" x2="336.6" y2="321.4"/><line x1="342.8" y1="321.5" x2="344.2" y2="321.0"/><line x1="349.9" y1="321.9" x2="349.6" y2="320.6"/><line x1="356.3" y1="320.6" x2="355.7" y2="321.9"/><line x1="362.7" y1="321.7" x2="361.8" y2="320.8"/><line x1="368.7" y1="320.6" x2="368.3" y2="321.9"/><line x1="374.8" y1="321.9" x2="374.7" y2="320.6"/><line x1="381.5" y1="321.7" x2="380.5" y2="320.8"/><line x1="386.6" y1="321.0" x2="387.9" y2="321.5"/><line x1="393.0" y1="321.8" x2="394.0" y2="320.7"/><line x1="400.4" y1="321.4" x2="399.1" y2="321.1"/><line x1="406.7" y1="321.0" x2="405.3" y2="321.5"/><line x1="411.7" y1="320.8" x2="412.8" y2="321.7"/><line x1="417.9" y1="320.9" x2="419.1" y2="321.6"/><line x1="424.6" y1="321.9" x2="424.9" y2="320.6"/><line x1="431.3" y1="320.6" x2="430.7" y2="321.9"/><line x1="436.9" y1="321.8" x2="437.6" y2="320.7"/><line x1="444.1" y1="320.9" x2="442.9" y2="321.6"/><line x1="450.0" y1="320.6" x2="449.5" y2="321.9"/><line x1="455.4" y1="321.6" x2="456.6" y2="320.9"/><line x1="461.8" y1="320.7" x2="462.7" y2="321.8"/><line x1="468.0" y1="320.7" x2="469.0" y2="321.8"/><line x1="475.4" y1="321.2" x2="474.1" y2="321.3"/><line x1="330.3" y1="327.7" x2="331.7" y2="327.3"/><line x1="337.3" y1="326.8" x2="337.2" y2="328.2"/><line x1="344.2" y1="327.3" x2="342.8" y2="327.7"/><line x1="350.1" y1="328.1" x2="349.4" y2="326.9"/><line x1="356.3" y1="326.9" x2="355.7" y2="328.1"/><line x1="362.5" y1="328.1" x2="362.0" y2="326.9"/><line x1="368.1" y1="326.9" x2="368.9" y2="328.1"/><line x1="374.4" y1="326.9" x2="375.1" y2="328.1"/><line x1="381.4" y1="326.9" x2="380.6" y2="328.1"/><line x1="387.1" y1="328.2" x2="387.4" y2="326.8"/><line x1="392.8" y1="327.6" x2="394.2" y2="327.4"/><line x1="400.3" y1="327.9" x2="399.2" y2="327.1"/><line x1="406.5" y1="328.0" x2="405.5" y2="327.0"/><line x1="412.5" y1="328.1" x2="412.0" y2="326.9"/><line x1="417.9" y1="327.2" x2="419.1" y2="327.8"/><line x1="425.3" y1="328.0" x2="424.2" y2="327.0"/><line x1="430.5" y1="328.0" x2="431.5" y2="327.0"/><line x1="437.1" y1="328.2" x2="437.4" y2="326.8"/><line x1="442.9" y1="327.2" x2="444.1" y2="327.8"/><line x1="449.8" y1="328.2" x2="449.7" y2="326.8"/><line x1="456.7" y1="327.7" x2="455.3" y2="327.3"/><line x1="461.6" y1="327.8" x2="462.9" y2="327.2"/><line x1="467.8" y1="327.3" x2="469.2" y2="327.7"/><line x1="475.4" y1="327.4" x2="474.1" y2="327.6"/><line x1="331.5" y1="333.2" x2="330.5" y2="334.3"/><line x1="337.5" y1="334.4" x2="337.0" y2="333.1"/><line x1="343.4" y1="334.4" x2="343.6" y2="333.1"/><line x1="349.1" y1="333.6" x2="350.4" y2="333.9"/><line x1="355.6" y1="334.3" x2="356.4" y2="333.2"/><line x1="362.7" y1="333.2" x2="361.8" y2="334.3"/><line x1="368.0" y1="333.2" x2="369.0" y2="334.3"/><line x1="375.4" y1="333.7" x2="374.1" y2="333.8"/><line x1="380.7" y1="334.4" x2="381.3" y2="333.1"/><line x1="386.9" y1="333.2" x2="387.6" y2="334.3"/><line x1="394.0" y1="333.3" x2="393.0" y2="334.2"/><line x1="399.1" y1="333.6" x2="400.4" y2="333.9"/><line x1="405.5" y1="334.2" x2="406.5" y2="333.3"/><line x1="412.9" y1="333.8" x2="411.6" y2="333.7"/><line x1="419.2" y1="333.8" x2="417.8" y2="333.7"/><line x1="425.2" y1="334.3" x2="424.3" y2="333.2"/><line x1="431.7" y1="333.9" x2="430.3" y2="333.6"/><line x1="436.9" y1="333.1" x2="437.6" y2="334.4"/><line x1="443.3" y1="334.4" x2="443.7" y2="333.1"/><line x1="450.4" y1="334.1" x2="449.1" y2="333.4"/><line x1="456.1" y1="333.1" x2="455.9" y2="334.4"/><line x1="462.9" y1="333.6" x2="461.6" y2="333.9"/><line x1="469.2" y1="334.0" x2="467.8" y2="333.5"/><line x1="474.1" y1="333.6" x2="475.4" y2="333.9"/><line x1="330.9" y1="339.3" x2="331.1" y2="340.7"/><line x1="337.2" y1="339.3" x2="337.3" y2="340.7"/><line x1="343.8" y1="340.7" x2="343.2" y2="339.3"/><line x1="349.4" y1="339.4" x2="350.1" y2="340.6"/><line x1="356.0" y1="340.7" x2="356.0" y2="339.3"/><line x1="361.6" y1="340.3" x2="362.9" y2="339.7"/><line x1="368.8" y1="340.6" x2="368.2" y2="339.4"/><line x1="374.1" y1="340.1" x2="375.4" y2="339.9"/><line x1="380.5" y1="339.5" x2="381.5" y2="340.5"/><line x1="386.9" y1="339.4" x2="387.6" y2="340.6"/><line x1="392.9" y1="340.4" x2="394.1" y2="339.6"/><line x1="399.2" y1="339.6" x2="400.3" y2="340.4"/><line x1="405.3" y1="339.8" x2="406.7" y2="340.2"/><line x1="412.7" y1="340.5" x2="411.8" y2="339.5"/><line x1="418.0" y1="340.5" x2="419.0" y2="339.5"/><line x1="424.6" y1="340.7" x2="424.9" y2="339.3"/><line x1="430.4" y1="339.6" x2="431.6" y2="340.4"/><line x1="437.9" y1="340.2" x2="436.6" y2="339.8"/><line x1="444.2" y1="340.0" x2="442.8" y2="340.0"/><line x1="450.0" y1="339.3" x2="449.5" y2="340.7"/><line x1="455.6" y1="340.6" x2="456.4" y2="339.4"/><line x1="462.1" y1="339.3" x2="462.4" y2="340.7"/><line x1="468.4" y1="339.3" x2="468.6" y2="340.7"/><line x1="475.2" y1="339.5" x2="474.3" y2="340.5"/><line x1="331.5" y1="346.8" x2="330.5" y2="345.7"/><line x1="336.6" y1="346.6" x2="337.9" y2="345.9"/><line x1="342.9" y1="345.8" x2="344.1" y2="346.7"/><line x1="350.4" y1="346.3" x2="349.1" y2="346.2"/><line x1="356.7" y1="346.1" x2="355.3" y2="346.4"/><line x1="362.4" y1="346.9" x2="362.1" y2="345.6"/><line x1="369.0" y1="345.8" x2="368.0" y2="346.7"/><line x1="374.1" y1="346.4" x2="375.4" y2="346.1"/><line x1="380.9" y1="346.9" x2="381.1" y2="345.6"/><line x1="387.9" y1="346.3" x2="386.6" y2="346.2"/><line x1="392.8" y1="346.2" x2="394.2" y2="346.3"/><line x1="400.4" y1="346.4" x2="399.1" y2="346.1"/><line x1="406.3" y1="345.6" x2="405.7" y2="346.9"/><line x1="412.0" y1="345.6" x2="412.5" y2="346.9"/><line x1="417.8" y1="346.3" x2="419.2" y2="346.2"/><line x1="425.4" y1="346.1" x2="424.1" y2="346.4"/><line x1="431.2" y1="346.9" x2="430.8" y2="345.6"/><line x1="437.0" y1="346.9" x2="437.5" y2="345.6"/><line x1="442.9" y1="345.9" x2="444.1" y2="346.6"/><line x1="450.3" y1="346.6" x2="449.2" y2="345.9"/><line x1="455.3" y1="346.5" x2="456.7" y2="346.0"/><line x1="462.1" y1="346.9" x2="462.4" y2="345.6"/><line x1="469.1" y1="346.5" x2="467.9" y2="346.0"/><line x1="474.2" y1="346.7" x2="475.3" y2="345.8"/><line x1="330.5" y1="352.0" x2="331.5" y2="353.0"/><line x1="337.2" y1="353.2" x2="337.3" y2="351.8"/><line x1="344.2" y1="352.3" x2="342.8" y2="352.7"/><line x1="350.4" y1="352.2" x2="349.1" y2="352.8"/><line x1="355.5" y1="352.0" x2="356.5" y2="353.0"/><line x1="362.9" y1="352.4" x2="361.6" y2="352.6"/><line x1="368.1" y1="353.0" x2="368.9" y2="352.0"/><line x1="374.7" y1="351.8" x2="374.8" y2="353.2"/><line x1="381.2" y1="351.8" x2="380.8" y2="353.2"/><line x1="387.3" y1="351.8" x2="387.2" y2="353.2"/><line x1="392.8" y1="352.5" x2="394.2" y2="352.5"/><line x1="399.9" y1="353.2" x2="399.6" y2="351.8"/><line x1="406.5" y1="352.0" x2="405.5" y2="353.0"/><line x1="412.0" y1="353.1" x2="412.5" y2="351.9"/><line x1="417.8" y1="352.7" x2="419.2" y2="352.3"/><line x1="424.3" y1="352.0" x2="425.2" y2="353.0"/><line x1="431.6" y1="352.8" x2="430.4" y2="352.2"/><line x1="437.9" y1="352.8" x2="436.6" y2="352.2"/><line x1="443.1" y1="351.9" x2="443.9" y2="353.1"/><line x1="449.1" y1="352.9" x2="450.4" y2="352.1"/><line x1="455.6" y1="351.9" x2="456.4" y2="353.1"/><line x1="462.8" y1="352.9" x2="461.7" y2="352.1"/><line x1="469.2" y1="352.6" x2="467.8" y2="352.4"/><line x1="474.3" y1="353.0" x2="475.2" y2="352.0"/><line x1="330.7" y1="359.4" x2="331.3" y2="358.1"/><line x1="337.9" y1="358.4" x2="336.6" y2="359.1"/><line x1="343.6" y1="358.1" x2="343.4" y2="359.4"/><line x1="350.0" y1="358.1" x2="349.5" y2="359.4"/><line x1="356.5" y1="358.3" x2="355.5" y2="359.2"/><line x1="361.8" y1="358.2" x2="362.7" y2="359.3"/><line x1="369.1" y1="358.3" x2="367.9" y2="359.2"/><line x1="374.4" y1="359.3" x2="375.1" y2="358.2"/><line x1="381.7" y1="358.7" x2="380.3" y2="358.8"/><line x1="386.6" y1="358.9" x2="387.9" y2="358.6"/><line x1="393.8" y1="358.1" x2="393.2" y2="359.4"/><line x1="400.0" y1="358.1" x2="399.5" y2="359.4"/><line x1="406.7" y1="358.7" x2="405.3" y2="358.8"/><line x1="411.8" y1="358.2" x2="412.7" y2="359.3"/><line x1="418.3" y1="358.1" x2="418.7" y2="359.4"/><line x1="424.3" y1="359.3" x2="425.2" y2="358.2"/><line x1="430.4" y1="359.1" x2="431.6" y2="358.4"/><line x1="437.9" y1="358.5" x2="436.6" y2="359.0"/><line x1="442.9" y1="358.4" x2="444.1" y2="359.1"/><line x1="450.4" y1="358.5" x2="449.1" y2="359.0"/><line x1="455.8" y1="359.4" x2="456.2" y2="358.1"/><line x1="461.8" y1="358.3" x2="462.7" y2="359.2"/><line x1="467.9" y1="358.4" x2="469.1" y2="359.1"/><line x1="474.3" y1="358.2" x2="475.2" y2="359.3"/><line x1="331.5" y1="364.5" x2="330.5" y2="365.5"/><line x1="336.6" y1="364.9" x2="337.9" y2="365.1"/><line x1="343.0" y1="364.5" x2="344.0" y2="365.5"/><line x1="349.2" y1="365.4" x2="350.3" y2="364.6"/><line x1="356.7" y1="364.8" x2="355.3" y2="365.2"/><line x1="362.2" y1="364.3" x2="362.3" y2="365.7"/><line x1="369.2" y1="364.7" x2="367.8" y2="365.3"/><line x1="374.1" y1="365.1" x2="375.4" y2="364.9"/><line x1="381.0" y1="364.3" x2="381.0" y2="365.7"/><line x1="387.5" y1="364.3" x2="387.0" y2="365.7"/><line x1="394.2" y1="365.0" x2="392.8" y2="365.0"/><line x1="399.9" y1="365.7" x2="399.6" y2="364.3"/><line x1="406.5" y1="364.6" x2="405.5" y2="365.4"/><line x1="412.0" y1="364.3" x2="412.5" y2="365.7"/><line x1="418.2" y1="364.4" x2="418.8" y2="365.6"/><line x1="424.1" y1="364.7" x2="425.4" y2="365.3"/><line x1="430.3" y1="365.2" x2="431.7" y2="364.8"/><line x1="437.0" y1="364.3" x2="437.5" y2="365.7"/><line x1="444.2" y1="365.1" x2="442.8" y2="364.9"/><line x1="449.4" y1="364.4" x2="450.1" y2="365.6"/><line x1="456.0" y1="365.7" x2="456.0" y2="364.3"/><line x1="462.2" y1="364.3" x2="462.3" y2="365.7"/><line x1="467.8" y1="365.1" x2="469.2" y2="364.9"/><line x1="474.1" y1="365.1" x2="475.4" y2="364.9"/><line x1="330.4" y1="371.5" x2="331.6" y2="371.0"/><line x1="337.4" y1="371.9" x2="337.1" y2="370.6"/><line x1="343.0" y1="371.8" x2="344.0" y2="370.7"/><line x1="349.1" y1="371.1" x2="350.4" y2="371.4"/><line x1="355.3" y1="371.4" x2="356.7" y2="371.1"/><line x1="362.9" y1="371.5" x2="361.6" y2="371.0"/><line x1="368.1" y1="370.7" x2="368.9" y2="371.8"/><line x1="374.3" y1="371.8" x2="375.2" y2="370.7"/><line x1="381.4" y1="370.7" x2="380.6" y2="371.8"/><line x1="387.9" y1="371.0" x2="386.6" y2="371.5"/><line x1="393.8" y1="370.6" x2="393.2" y2="371.9"/><line x1="399.5" y1="370.6" x2="400.0" y2="371.9"/><line x1="406.6" y1="371.7" x2="405.4" y2="370.8"/><line x1="412.7" y1="370.7" x2="411.8" y2="371.8"/><line x1="418.4" y1="370.6" x2="418.6" y2="371.9"/><line x1="425.3" y1="371.6" x2="424.2" y2="370.9"/><line x1="430.4" y1="370.9" x2="431.6" y2="371.6"/><line x1="437.9" y1="371.5" x2="436.6" y2="371.0"/><line x1="444.1" y1="370.8" x2="442.9" y2="371.7"/><line x1="449.3" y1="370.8" x2="450.2" y2="371.7"/><line x1="455.9" y1="370.6" x2="456.1" y2="371.9"/><line x1="462.7" y1="371.8" x2="461.8" y2="370.7"/><line x1="469.0" y1="371.7" x2="468.0" y2="370.8"/><line x1="474.6" y1="370.6" x2="474.9" y2="371.9"/><line x1="330.7" y1="378.2" x2="331.3" y2="376.8"/><line x1="336.9" y1="378.1" x2="337.6" y2="376.9"/><line x1="343.9" y1="377.0" x2="343.1" y2="378.0"/><line x1="349.1" y1="377.2" x2="350.4" y2="377.8"/><line x1="355.6" y1="378.1" x2="356.4" y2="376.9"/><line x1="362.5" y1="376.9" x2="362.0" y2="378.1"/><line x1="369.1" y1="377.8" x2="367.9" y2="377.2"/><line x1="374.6" y1="376.8" x2="374.9" y2="378.2"/><line x1="381.7" y1="377.3" x2="380.3" y2="377.7"/><line x1="387.9" y1="377.2" x2="386.6" y2="377.8"/><line x1="394.2" y1="377.3" x2="392.8" y2="377.7"/><line x1="399.1" y1="377.3" x2="400.4" y2="377.7"/><line x1="406.7" y1="377.5" x2="405.3" y2="377.5"/><line x1="412.6" y1="376.9" x2="411.9" y2="378.1"/><line x1="418.9" y1="376.9" x2="418.1" y2="378.1"/><line x1="425.4" y1="377.6" x2="424.1" y2="377.4"/><line x1="431.1" y1="376.8" x2="430.9" y2="378.2"/><line x1="437.2" y1="376.8" x2="437.3" y2="378.2"/><line x1="444.0" y1="377.0" x2="443.0" y2="378.0"/><line x1="449.1" y1="377.8" x2="450.4" y2="377.2"/><line x1="455.3" y1="377.6" x2="456.7" y2="377.4"/><line x1="461.7" y1="377.1" x2="462.8" y2="377.9"/><line x1="467.8" y1="377.3" x2="469.2" y2="377.7"/><line x1="475.3" y1="377.9" x2="474.2" y2="377.1"/><line x1="331.5" y1="384.2" x2="330.5" y2="383.3"/><line x1="337.9" y1="384.1" x2="336.6" y2="383.4"/><line x1="343.5" y1="384.4" x2="343.5" y2="383.1"/><line x1="349.7" y1="383.1" x2="349.8" y2="384.4"/><line x1="356.6" y1="384.2" x2="355.4" y2="383.3"/><line x1="361.6" y1="384.1" x2="362.9" y2="383.4"/><line x1="367.8" y1="384.0" x2="369.2" y2="383.5"/><line x1="374.1" y1="383.9" x2="375.4" y2="383.6"/><line x1="381.6" y1="384.1" x2="380.4" y2="383.4"/><line x1="386.8" y1="383.2" x2="387.7" y2="384.3"/><line x1="393.0" y1="383.3" x2="394.0" y2="384.2"/><line x1="399.1" y1="383.4" x2="400.4" y2="384.1"/><line x1="406.0" y1="383.1" x2="406.0" y2="384.4"/><line x1="411.7" y1="383.3" x2="412.8" y2="384.2"/><line x1="418.4" y1="383.1" x2="418.6" y2="384.4"/><line x1="425.4" y1="383.4" x2="424.1" y2="384.1"/><line x1="431.6" y1="384.1" x2="430.4" y2="383.4"/><line x1="437.1" y1="384.4" x2="437.4" y2="383.1"/><line x1="443.2" y1="384.4" x2="443.8" y2="383.1"/><line x1="450.3" y1="384.2" x2="449.2" y2="383.3"/><line x1="456.5" y1="384.2" x2="455.5" y2="383.3"/><line x1="462.0" y1="384.4" x2="462.5" y2="383.1"/><line x1="469.1" y1="383.4" x2="467.9" y2="384.1"/><line x1="475.4" y1="383.6" x2="474.1" y2="383.9"/><line x1="331.7" y1="389.8" x2="330.3" y2="390.2"/><line x1="337.4" y1="390.7" x2="337.1" y2="389.3"/><line x1="343.0" y1="389.5" x2="344.0" y2="390.5"/><line x1="349.1" y1="389.7" x2="350.4" y2="390.3"/><line x1="355.8" y1="390.7" x2="356.2" y2="389.3"/><line x1="362.0" y1="389.3" x2="362.5" y2="390.7"/><line x1="369.2" y1="389.9" x2="367.8" y2="390.1"/><line x1="375.4" y1="390.2" x2="374.1" y2="389.8"/><line x1="380.7" y1="389.4" x2="381.3" y2="390.6"/><line x1="387.7" y1="389.5" x2="386.8" y2="390.5"/><line x1="393.1" y1="390.6" x2="393.9" y2="389.4"/><line x1="400.0" y1="389.3" x2="399.5" y2="390.7"/><line x1="406.3" y1="390.6" x2="405.7" y2="389.4"/><line x1="412.9" y1="390.0" x2="411.6" y2="390.0"/><line x1="418.1" y1="390.6" x2="418.9" y2="389.4"/><line x1="424.8" y1="389.3" x2="424.7" y2="390.7"/><line x1="430.4" y1="389.6" x2="431.6" y2="390.4"/><line x1="437.4" y1="389.3" x2="437.1" y2="390.7"/><line x1="443.7" y1="389.3" x2="443.3" y2="390.7"/><line x1="450.1" y1="389.4" x2="449.4" y2="390.6"/><line x1="456.2" y1="389.3" x2="455.8" y2="390.7"/><line x1="462.9" y1="390.3" x2="461.6" y2="389.7"/><line x1="468.0" y1="389.5" x2="469.0" y2="390.5"/><line x1="475.2" y1="390.6" x2="474.3" y2="389.4"/><line x1="331.6" y1="396.7" x2="330.4" y2="395.8"/><line x1="336.6" y1="396.2" x2="337.9" y2="396.3"/><line x1="343.3" y1="396.9" x2="343.7" y2="395.6"/><line x1="349.1" y1="396.1" x2="350.4" y2="396.4"/><line x1="356.2" y1="396.9" x2="355.8" y2="395.6"/><line x1="361.6" y1="396.4" x2="362.9" y2="396.1"/><line x1="368.6" y1="395.6" x2="368.4" y2="396.9"/><line x1="375.2" y1="395.7" x2="374.3" y2="396.8"/><line x1="381.4" y1="396.8" x2="380.6" y2="395.7"/><line x1="386.6" y1="396.0" x2="387.9" y2="396.5"/><line x1="393.1" y1="395.7" x2="393.9" y2="396.8"/><line x1="400.2" y1="395.7" x2="399.3" y2="396.8"/><line x1="406.6" y1="396.5" x2="405.4" y2="396.0"/><line x1="411.8" y1="396.8" x2="412.7" y2="395.7"/><line x1="418.3" y1="396.9" x2="418.7" y2="395.6"/><line x1="424.9" y1="396.9" x2="424.6" y2="395.6"/><line x1="430.3" y1="396.5" x2="431.7" y2="396.0"/><line x1="437.5" y1="396.9" x2="437.0" y2="395.6"/><line x1="443.7" y1="396.9" x2="443.3" y2="395.6"/><line x1="449.9" y1="396.9" x2="449.6" y2="395.6"/><line x1="455.5" y1="396.8" x2="456.5" y2="395.7"/><line x1="462.9" y1="396.4" x2="461.6" y2="396.1"/><line x1="468.3" y1="396.9" x2="468.7" y2="395.6"/><line x1="475.4" y1="396.1" x2="474.1" y2="396.4"/><line x1="331.3" y1="401.9" x2="330.7" y2="403.1"/><line x1="337.9" y1="402.8" x2="336.6" y2="402.2"/><line x1="343.2" y1="403.1" x2="343.8" y2="401.9"/><line x1="350.4" y1="402.2" x2="349.1" y2="402.8"/><line x1="355.7" y1="403.1" x2="356.3" y2="401.9"/><line x1="362.9" y1="402.8" x2="361.6" y2="402.2"/><line x1="367.9" y1="402.2" x2="369.1" y2="402.8"/><line x1="374.8" y1="401.8" x2="374.7" y2="403.2"/><line x1="381.4" y1="402.0" x2="380.6" y2="403.0"/><line x1="386.6" y1="402.3" x2="387.9" y2="402.7"/><line x1="393.0" y1="402.0" x2="394.0" y2="403.0"/><line x1="399.5" y1="401.9" x2="400.0" y2="403.1"/><line x1="405.3" y1="402.4" x2="406.7" y2="402.6"/><line x1="412.8" y1="402.1" x2="411.7" y2="402.9"/><line x1="418.8" y1="403.1" x2="418.2" y2="401.9"/><line x1="424.8" y1="401.8" x2="424.7" y2="403.2"/><line x1="430.7" y1="403.2" x2="431.3" y2="401.8"/><line x1="437.9" y1="402.4" x2="436.6" y2="402.6"/><line x1="443.7" y1="401.8" x2="443.3" y2="403.2"/><line x1="450.1" y1="403.1" x2="449.4" y2="401.9"/><line x1="456.5" y1="402.0" x2="455.5" y2="403.0"/><line x1="461.7" y1="402.9" x2="462.8" y2="402.1"/><line x1="467.9" y1="402.8" x2="469.1" y2="402.2"/><line x1="474.6" y1="401.8" x2="474.9" y2="403.2"/><line x1="330.5" y1="409.2" x2="331.5" y2="408.3"/><line x1="337.9" y1="408.7" x2="336.6" y2="408.8"/><line x1="342.9" y1="408.5" x2="344.1" y2="409.0"/><line x1="349.1" y1="408.5" x2="350.4" y2="409.0"/><line x1="355.9" y1="408.1" x2="356.1" y2="409.4"/><line x1="361.6" y1="408.5" x2="362.9" y2="409.0"/><line x1="368.6" y1="409.4" x2="368.4" y2="408.1"/><line x1="374.5" y1="409.4" x2="375.0" y2="408.1"/><line x1="381.6" y1="408.4" x2="380.4" y2="409.1"/><line x1="386.9" y1="408.2" x2="387.6" y2="409.3"/><line x1="392.8" y1="408.7" x2="394.2" y2="408.8"/><line x1="399.4" y1="408.1" x2="400.1" y2="409.4"/><line x1="406.0" y1="409.4" x2="406.0" y2="408.1"/><line x1="411.6" y1="408.5" x2="412.9" y2="409.0"/><line x1="418.0" y1="409.2" x2="419.0" y2="408.3"/><line x1="424.4" y1="409.4" x2="425.1" y2="408.1"/><line x1="431.4" y1="408.2" x2="430.6" y2="409.3"/><line x1="436.7" y1="409.2" x2="437.8" y2="408.3"/><line x1="443.7" y1="409.4" x2="443.3" y2="408.1"/><line x1="450.1" y1="409.3" x2="449.4" y2="408.2"/><line x1="455.7" y1="409.4" x2="456.3" y2="408.1"/><line x1="461.6" y1="409.1" x2="462.9" y2="408.4"/><line x1="467.8" y1="408.8" x2="469.2" y2="408.7"/><line x1="474.7" y1="409.4" x2="474.8" y2="408.1"/></g>
<g fill="none" stroke="#2a2a2a" stroke-width="0.45" opacity="0.80"><polyline points="450.4,249.4 452.9,250.1 454.5,250.5 456.1,250.3 457.8,249.4 460.1,251.3 461.9,249.7 464.6,251.6 467.3,250.2"/><polyline points="456.7,252.6 458.5,253.1 461.6,252.7 464.3,253.9 466.5,253.7 468.1,252.4 470.0,254.0"/><polyline points="454.3,257.2 457.4,258.3 459.3,257.9 461.9,258.7 464.9,257.2 468.3,256.7"/><polyline points="450.4,261.1 453.2,263.0 455.9,263.2 458.0,262.8 460.7,262.5 463.1,263.1 466.5,262.2"/><polyline points="455.3,265.8 458.5,264.0 460.7,265.0 462.3,264.4 464.1,263.5 465.7,265.2 467.5,263.9 469.8,265.5 471.4,264.4 474.0,265.5"/><polyline points="451.5,269.4 454.8,271.0 456.6,268.9 458.5,269.1 461.0,270.0 463.0,268.5 465.4,269.4"/><polyline points="455.2,273.9 458.1,272.4 461.4,274.3 464.6,274.4 466.9,273.3 468.6,273.9 470.2,272.5 472.1,272.7"/><polyline points="449.0,274.4 451.2,274.2 454.5,275.7 456.3,274.8 458.5,275.1 460.2,276.3"/><polyline points="453.4,278.9 455.5,279.3 458.7,279.0 460.2,281.1 462.8,279.0"/><polyline points="453.8,283.6 456.6,282.0 458.9,281.8 461.9,282.7 465.0,282.2 466.9,283.5 470.4,283.6 473.5,283.5"/><polyline points="453.7,285.5 455.2,286.1 457.2,287.2 460.6,286.6 464.0,288.0 467.4,286.4"/><polyline points="450.8,290.7 454.1,291.2 456.5,290.7 459.6,289.3 462.5,291.4"/><polyline points="453.3,295.8 455.5,295.8 458.9,294.8 461.2,296.2 464.2,294.2"/><polyline points="457.1,296.6 460.3,298.7 463.1,297.1 465.7,296.5 467.2,298.7 470.0,297.5 473.4,297.3"/></g>
<g fill="none" stroke="#2a2a2a" stroke-width="0.45" opacity="0.70"><polyline points="410.7,250.3 412.3,249.1 415.8,249.0 418.6,249.6 421.0,249.7 422.9,250.6"/><polyline points="402.2,252.1 405.5,252.1 407.2,251.7 410.7,251.2 413.4,252.0 416.3,251.9 419.1,252.4"/><polyline points="407.2,255.2 410.6,256.3 412.5,257.5 415.2,256.9 418.4,255.7 420.6,257.3"/><polyline points="402.9,259.2 406.3,259.5 408.8,257.8 410.6,258.7 413.1,257.5 416.4,258.6 419.3,257.9 421.3,257.4 423.5,258.0 425.8,258.3 429.0,259.6 430.9,258.4 432.7,259.1"/><polyline points="408.9,258.8 411.9,259.7 413.8,259.9 415.7,259.9 418.1,259.9 420.8,259.6 422.5,259.0 424.2,260.2 426.4,260.9"/></g>
<g fill="none" stroke="#2a2a2a" stroke-width="0.45" opacity="0.60"><polyline points="455.4,303.4 456.9,302.4 460.2,301.3 462.8,302.7 464.4,302.1"/><polyline points="458.5,306.7 460.2,307.4 463.6,307.6 466.6,307.1 469.6,306.4"/><polyline points="458.5,311.8 460.6,312.1 462.6,313.7 464.5,313.9 467.8,311.7 470.0,312.8 471.6,312.7"/><polyline points="457.4,316.9 460.7,316.0 462.2,315.6 464.8,315.5 466.4,316.7"/><polyline points="455.6,321.3 458.2,321.5 461.0,323.5 462.6,322.5 465.3,321.4 467.3,323.6 470.8,321.4"/><polyline points="454.1,327.2 456.4,328.9 459.0,329.1 460.7,328.0 463.9,328.6 466.3,328.1 469.8,328.6"/></g>
<polygon points="327.0,295.5 337.0,299.0 345.0,303.5 353.0,309.0 361.0,316.0 371.0,325.0 381.0,335.0 391.0,343.5 399.0,351.0 406.5,359.0 413.0,366.0 418.5,371.0 424.0,377.0 429.0,381.0 435.0,383.5 441.0,385.5 447.0,388.0 456.0,390.5 466.0,392.0 475.0,392.4 475.0,410.0 327.0,410.0" fill="#d4d4d4" /><polygon points="327.0,310.4 337.0,312.4 345.2,317.3 350.8,322.1 353.0,325.0 356.0,330.0 358.0,338.0 360.1,344.2 362.1,347.2 366.1,350.2 367.6,355.2 366.1,361.3 361.0,365.0 355.0,369.0 351.0,376.0 343.0,382.0 327.0,387.0" fill="#c2c2c2" /><polygon points="327.0,392.0 341.0,389.0 349.0,386.0 357.0,383.0 367.0,380.0 377.0,376.0 387.0,374.0 399.0,376.0 409.0,378.5 415.0,381.0 419.0,385.0 420.5,391.0 422.0,396.0 425.0,398.5 433.0,396.0 441.0,397.0 451.0,397.5 475.0,397.0 475.0,410.0 327.0,410.0" fill="#c2c2c2" /><polyline points="327.0,295.5 337.0,299.0 345.0,303.5 353.0,309.0 361.0,316.0 371.0,325.0 381.0,335.0 391.0,343.5 399.0,351.0 406.5,359.0 413.0,366.0 418.5,371.0 424.0,377.0 429.0,381.0 435.0,383.5 441.0,385.5 447.0,388.0 456.0,390.5 466.0,392.0" fill="none" stroke="#333" stroke-width="0.55" /><polyline points="327.0,310.4 337.0,312.4 345.2,317.3 350.8,322.1 353.0,325.0 356.0,330.0 358.0,338.0 360.1,344.2 362.1,347.2 366.1,350.2 367.6,355.2 366.1,361.3 361.0,365.0 355.0,369.0 351.0,376.0 343.0,382.0 327.0,387.0" fill="none" stroke="#444" stroke-width="0.50" /><polyline points="327.0,392.0 341.0,389.0 349.0,386.0 357.0,383.0 367.0,380.0 377.0,376.0 387.0,374.0 399.0,376.0 409.0,378.5 415.0,381.0 419.0,385.0 420.5,391.0 422.0,396.0 425.0,398.5 433.0,396.0 441.0,397.0 451.0,397.5" fill="none" stroke="#444" stroke-width="0.50" /><polyline points="327.0,383.0 341.0,378.0 353.0,372.0 361.0,366.0 369.0,362.0" fill="none" stroke="#666" stroke-width="0.45" /><polyline points="353.0,372.0 357.0,378.0 363.0,372.0 371.0,368.0 377.0,370.0" fill="none" stroke="#777" stroke-width="0.40" /><text x="335.0" y="368.5" font-size="5.6" text-anchor="start" fill="#222" font-weight="normal" font-style="italic" font-family="Liberation Serif" >Amazon</text><text x="373.0" y="396.0" font-size="5.6" text-anchor="start" fill="#222" font-weight="normal" font-style="italic" font-family="Liberation Serif" >Para</text><text x="423.6" y="403.0" font-size="5.6" text-anchor="start" fill="#222" font-weight="normal" font-style="italic" font-family="Liberation Serif" >Maroni</text><text x="342.5" y="307.5" font-size="4.8" text-anchor="start" fill="#111" font-weight="bold" >F</text><text x="361.3" y="326.0" font-size="4.8" text-anchor="start" fill="#111" font-weight="bold" >E</text><text x="392.0" y="353.0" font-size="4.8" text-anchor="start" fill="#111" font-weight="bold" >D</text><text x="402.0" y="363.0" font-size="4.8" text-anchor="start" fill="#111" font-weight="bold" >A</text><text x="412.0" y="369.0" font-size="4.8" text-anchor="start" fill="#111" font-weight="bold" >C</text><text x="433.0" y="387.0" font-size="4.8" text-anchor="start" fill="#111" font-weight="bold" >B</text><line x1="449.0" y1="403.5" x2="453.0" y2="403.5" stroke="#444" stroke-width="0.40" /><text x="454.0" y="404.5" font-size="2.8" text-anchor="start" fill="#444" font-weight="normal" >1m/s</text>
<g filter="url(#b1s)"><polygon points="394.0,247.0 399.6,247.0 399.7,248.3 394.2,248.3" fill="#fdd38a" /><polygon points="400.4,247.0 406.0,247.0 406.2,248.3 400.6,248.3" fill="#fee8a8" /><polygon points="394.2,248.0 399.7,248.0 400.1,250.3 394.6,250.3" fill="#fee8a8" /><polygon points="400.6,248.0 406.2,248.0 406.6,250.3 401.0,250.3" fill="#fff2c4" /><polygon points="394.6,250.0 400.1,250.0 400.4,251.6 394.8,251.6" fill="#f7a35c" /><polygon points="401.0,250.0 406.6,250.0 406.8,251.6 401.3,251.6" fill="#fee8a8" /><polygon points="394.8,251.3 400.4,251.3 400.6,252.9 395.1,252.9" fill="#ee7a45" /><polygon points="401.3,251.3 406.8,251.3 407.1,252.9 401.5,252.9" fill="#ee7a45" /><polygon points="395.1,252.6 400.6,252.6 400.9,254.2 395.3,254.2" fill="#9cc8e2" /><polygon points="401.5,252.6 407.1,252.6 407.3,254.2 401.8,254.2" fill="#9cc8e2" /><polygon points="395.3,253.9 400.9,253.9 401.1,255.2 395.5,255.2" fill="#fdbf6f" /><polygon points="401.8,253.9 407.3,253.9 407.5,255.2 402.0,255.2" fill="#fdbf6f" /><polygon points="395.5,254.9 401.1,254.9 401.3,256.5 395.8,256.5" fill="#d8eef4" /><polygon points="402.0,254.9 407.5,254.9 407.8,256.5 402.2,256.5" fill="#d8eef4" /><polygon points="395.8,256.2 401.3,256.2 401.6,257.9 396.0,257.9" fill="#f4874e" /><polygon points="402.2,256.2 407.8,256.2 408.0,257.9 402.5,257.9" fill="#f4874e" /><polygon points="396.0,257.6 401.6,257.6 401.9,259.8 396.4,259.8" fill="#f7a35c" /><polygon points="402.5,257.6 408.0,257.6 408.4,259.8 402.8,259.8" fill="#fee8a8" /><polygon points="396.4,259.5 401.9,259.5 402.2,261.3 396.7,261.3" fill="#f4874e" /><polygon points="402.8,259.5 408.4,259.5 408.7,261.3 403.1,261.3" fill="#f4874e" /><polygon points="396.7,261.0 402.2,261.0 402.6,263.4 397.1,263.4" fill="#fdbf6f" /><polygon points="403.1,261.0 408.7,261.0 409.1,263.4 403.5,263.4" fill="#fdbf6f" /><polygon points="397.1,263.1 402.6,263.1 403.0,265.4 397.4,265.4" fill="#ee7a45" /><polygon points="403.5,263.1 409.1,263.1 409.4,265.4 403.9,265.4" fill="#f4874e" /><polygon points="397.4,265.1 403.0,265.1 403.2,266.7 397.7,266.7" fill="#fdbf6f" /><polygon points="403.9,265.1 409.4,265.1 409.7,266.7 404.1,266.7" fill="#f4874e" /><polygon points="397.7,266.4 403.2,266.4 403.5,268.2 398.0,268.2" fill="#f4874e" /><polygon points="404.1,266.4 409.7,266.4 410.0,268.2 404.4,268.2" fill="#f4874e" /><polygon points="398.0,267.9 403.5,267.9 403.5,268.3 398.0,268.3" fill="#b9dcec" /><polygon points="404.4,267.9 410.0,267.9 410.0,268.3 404.4,268.3" fill="#b9dcec" /></g><g filter="url(#b1s)"><polygon points="398.0,268.0 403.5,268.0 403.9,270.2 398.3,270.2" fill="#f7a35c" /><polygon points="404.4,268.0 410.0,268.0 410.3,270.2 404.8,270.2" fill="#f7a35c" /><polygon points="398.3,269.9 403.9,269.9 404.2,272.0 398.7,272.0" fill="#fff2c4" /><polygon points="404.8,269.9 410.3,269.9 410.7,272.0 405.1,272.0" fill="#fff2c4" /><polygon points="398.7,271.7 404.2,271.7 404.7,274.3 399.1,274.3" fill="#f7a35c" /><polygon points="405.1,271.7 410.7,271.7 411.1,274.3 405.6,274.3" fill="#f7a35c" /><polygon points="399.1,274.0 404.7,274.0 405.1,276.5 399.6,276.5" fill="#d8eef4" /><polygon points="405.6,274.0 411.1,274.0 411.6,276.5 406.0,276.5" fill="#d8eef4" /><polygon points="399.6,276.2 405.1,276.2 405.5,278.6 399.9,278.6" fill="#c8e2ee" /><polygon points="406.0,276.2 411.6,276.2 411.9,278.6 406.4,278.6" fill="#fff2c4" /><polygon points="399.9,278.3 405.5,278.3 405.9,280.9 400.4,280.9" fill="#f7a35c" /><polygon points="406.4,278.3 411.9,278.3 412.4,280.9 406.8,280.9" fill="#f7a35c" /><polygon points="400.4,280.6 405.9,280.6 406.1,282.0 400.6,282.0" fill="#fdd08a" /><polygon points="406.8,280.6 412.4,280.6 412.6,282.0 407.0,282.0" fill="#fdd08a" /><polygon points="400.6,281.7 406.1,281.7 406.5,283.8 400.9,283.8" fill="#f7a35c" /><polygon points="407.0,281.7 412.6,281.7 412.9,283.8 407.4,283.8" fill="#fde8b0" /><polygon points="400.9,283.5 406.5,283.5 406.9,285.9 401.3,285.9" fill="#9cc8e2" /><polygon points="407.4,283.5 412.9,283.5 413.3,285.9 407.8,285.9" fill="#fbb46c" /><polygon points="401.3,285.6 406.9,285.6 407.2,287.4 401.6,287.4" fill="#c8e2ee" /><polygon points="407.8,285.6 413.3,285.6 413.6,287.4 408.1,287.4" fill="#c8e2ee" /><polygon points="401.6,287.1 407.2,287.1 407.6,289.5 402.0,289.5" fill="#f28a52" /><polygon points="408.1,287.1 413.6,287.1 414.0,289.5 408.5,289.5" fill="#d8eef4" /><polygon points="402.0,289.2 407.6,289.2 407.8,290.7 402.2,290.7" fill="#d8eef4" /><polygon points="408.5,289.2 414.0,289.2 414.2,290.7 408.7,290.7" fill="#d8eef4" /><polygon points="402.2,290.4 407.8,290.4 408.0,292.0 402.5,292.0" fill="#f28a52" /><polygon points="408.7,290.4 414.2,290.4 414.5,292.0 408.9,292.0" fill="#f28a52" /><polygon points="402.5,291.7 408.0,291.7 408.3,293.6 402.8,293.6" fill="#9cc8e2" /><polygon points="408.9,291.7 414.5,291.7 414.8,293.6 409.2,293.6" fill="#9cc8e2" /><polygon points="402.8,293.3 408.3,293.3 408.7,295.6 403.2,295.6" fill="#fbb46c" /><polygon points="409.2,293.3 414.8,293.3 415.2,295.6 409.6,295.6" fill="#fbb46c" /><polygon points="403.2,295.3 408.7,295.3 408.9,296.7 403.4,296.7" fill="#f7a35c" /><polygon points="409.6,295.3 415.2,295.3 415.4,296.7 409.8,296.7" fill="#6fa2cc" /><polygon points="403.4,296.4 408.9,296.4 409.3,298.6 403.7,298.6" fill="#e65a3a" /><polygon points="409.8,296.4 415.4,296.4 415.7,298.6 410.2,298.6" fill="#fff4cc" /><polygon points="403.7,298.3 409.3,298.3 409.7,300.8 404.2,300.8" fill="#fdd08a" /><polygon points="410.2,298.3 415.7,298.3 416.2,300.8 410.6,300.8" fill="#fdd08a" /><polygon points="404.2,300.5 409.7,300.5 410.0,302.3 404.5,302.3" fill="#f28a52" /><polygon points="410.6,300.5 416.2,300.5 416.5,302.3 410.9,302.3" fill="#d8eef4" /><polygon points="404.5,302.0 410.0,302.0 410.3,304.0 404.8,304.0" fill="#fdd08a" /><polygon points="410.9,302.0 416.5,302.0 416.8,304.0 411.2,304.0" fill="#f7a35c" /><polygon points="404.8,303.7 410.3,303.7 410.7,306.2 405.2,306.2" fill="#c8e2ee" /><polygon points="411.2,303.7 416.8,303.7 417.2,306.2 411.6,306.2" fill="#c8e2ee" /><polygon points="405.2,305.9 410.7,305.9 411.2,308.7 405.7,308.7" fill="#d8eef4" /><polygon points="411.6,305.9 417.2,305.9 417.7,308.7 412.1,308.7" fill="#f7a35c" /><polygon points="405.7,308.4 411.2,308.4 411.5,310.0 405.9,310.0" fill="#f7a35c" /><polygon points="412.1,308.4 417.7,308.4 417.9,310.0 412.4,310.0" fill="#f7a35c" /><polygon points="405.9,309.7 411.5,309.7 411.9,312.4 406.4,312.4" fill="#f28a52" /><polygon points="412.4,309.7 417.9,309.7 418.4,312.4 412.8,312.4" fill="#fbb46c" /><polygon points="406.4,312.1 411.9,312.1 412.2,314.1 406.7,314.1" fill="#fff2c4" /><polygon points="412.8,312.1 418.4,312.1 418.7,314.1 413.1,314.1" fill="#fff2c4" /><polygon points="406.7,313.8 412.2,313.8 412.7,316.5 407.2,316.5" fill="#f28a52" /><polygon points="413.1,313.8 418.7,313.8 419.2,316.5 413.6,316.5" fill="#f28a52" /><polygon points="407.2,316.2 412.7,316.2 413.1,318.6 407.5,318.6" fill="#fde8b0" /><polygon points="413.6,316.2 419.2,316.2 419.5,318.6 414.0,318.6" fill="#fff2c4" /><polygon points="407.5,318.3 413.1,318.3 413.4,320.1 407.8,320.1" fill="#d8eef4" /><polygon points="414.0,318.3 419.5,318.3 419.8,320.1 414.3,320.1" fill="#d8eef4" /><polygon points="407.8,319.8 413.4,319.8 413.6,321.1 408.0,321.1" fill="#fde8b0" /><polygon points="414.3,319.8 419.8,319.8 420.0,321.1 414.5,321.1" fill="#e65a3a" /><polygon points="408.0,320.8 413.6,320.8 413.9,322.7 408.3,322.7" fill="#fff4cc" /><polygon points="414.5,320.8 420.0,320.8 420.3,322.7 414.8,322.7" fill="#f28a52" /><polygon points="408.3,322.4 413.9,322.4 414.2,324.4 408.6,324.4" fill="#6fa2cc" /><polygon points="414.8,322.4 420.3,322.4 420.6,324.4 415.1,324.4" fill="#6fa2cc" /><polygon points="408.6,324.1 414.2,324.1 414.5,326.1 409.0,326.1" fill="#f28a52" /><polygon points="415.1,324.1 420.6,324.1 421.0,326.1 415.4,326.1" fill="#f28a52" /><polygon points="409.0,325.8 414.5,325.8 414.8,327.4 409.2,327.4" fill="#fff4cc" /><polygon points="415.4,325.8 421.0,325.8 421.2,327.4 415.7,327.4" fill="#d8eef4" /><polygon points="409.2,327.1 414.8,327.1 415.1,329.3 409.6,329.3" fill="#c8e2ee" /><polygon points="415.7,327.1 421.2,327.1 421.6,329.3 416.0,329.3" fill="#e65a3a" /><polygon points="409.6,329.0 415.1,329.0 415.3,330.3 409.8,330.3" fill="#fff2c4" /><polygon points="416.0,329.0 421.6,329.0 421.8,330.3 416.2,330.3" fill="#fff2c4" /></g><g filter="url(#b1s)"><polygon points="409.8,330.0 415.3,330.0 415.8,332.6 410.2,332.6" fill="#fff2c8" /><polygon points="416.2,330.0 421.8,330.0 422.2,332.6 416.7,332.6" fill="#fff2c8" /><polygon points="410.2,332.3 415.8,332.3 416.1,334.6 410.6,334.6" fill="#d73a2a" /><polygon points="416.7,332.3 422.2,332.3 422.6,334.6 417.0,334.6" fill="#d73a2a" /><polygon points="410.6,334.3 416.1,334.3 416.6,337.2 411.1,337.2" fill="#f58a50" /><polygon points="417.0,334.3 422.6,334.3 423.1,337.2 417.5,337.2" fill="#c8e2ee" /><polygon points="411.1,336.9 416.6,336.9 417.3,340.5 411.7,340.5" fill="#fde3a0" /><polygon points="417.5,336.9 423.1,336.9 423.7,340.5 418.2,340.5" fill="#d73a2a" /><polygon points="411.7,340.2 417.3,340.2 417.6,342.5 412.1,342.5" fill="#d73a2a" /><polygon points="418.2,340.2 423.7,340.2 424.1,342.5 418.5,342.5" fill="#f6a25e" /><polygon points="412.1,342.2 417.6,342.2 418.0,344.5 412.5,344.5" fill="#fbb56a" /><polygon points="418.5,342.2 424.1,342.2 424.5,344.5 418.9,344.5" fill="#fbb56a" /><polygon points="412.5,344.2 418.0,344.2 418.6,347.7 413.1,347.7" fill="#fde3a0" /><polygon points="418.9,344.2 424.5,344.2 425.1,347.7 419.5,347.7" fill="#fde3a0" /><polygon points="413.1,347.4 418.6,347.4 419.1,349.9 413.5,349.9" fill="#9cc6e0" /><polygon points="419.5,347.4 425.1,347.4 425.5,349.9 420.0,349.9" fill="#9cc6e0" /><polygon points="413.5,349.6 419.1,349.6 419.4,351.9 413.9,351.9" fill="#e2553a" /><polygon points="420.0,349.6 425.5,349.6 425.9,351.9 420.3,351.9" fill="#e2553a" /><polygon points="413.9,351.6 419.4,351.6 419.9,354.3 414.3,354.3" fill="#fbb56a" /><polygon points="420.3,351.6 425.9,351.6 426.3,354.3 420.8,354.3" fill="#f58a50" /><polygon points="414.3,354.0 419.9,354.0 420.3,356.3 414.7,356.3" fill="#f58a50" /><polygon points="420.8,354.0 426.3,354.0 426.7,356.3 421.2,356.3" fill="#fff2c8" /><polygon points="414.7,356.0 420.3,356.0 420.6,357.9 415.0,357.9" fill="#c8e2ee" /><polygon points="421.2,356.0 426.7,356.0 427.0,357.9 421.5,357.9" fill="#c8e2ee" /><polygon points="415.0,357.6 420.6,357.6 421.2,361.3 415.7,361.3" fill="#fdd08a" /><polygon points="421.5,357.6 427.0,357.6 427.7,361.3 422.1,361.3" fill="#fdd08a" /><polygon points="415.7,361.0 421.2,361.0 421.8,364.4 416.3,364.4" fill="#fbb56a" /><polygon points="422.1,361.0 427.7,361.0 428.3,364.4 422.7,364.4" fill="#fbb56a" /><polygon points="416.3,364.1 421.8,364.1 422.3,367.0 416.7,367.0" fill="#c8e2ee" /><polygon points="422.7,364.1 428.3,364.1 428.7,367.0 423.2,367.0" fill="#c8e2ee" /><polygon points="416.7,366.7 422.3,366.7 423.0,370.5 417.4,370.5" fill="#f58a50" /><polygon points="423.2,366.7 428.7,366.7 429.4,370.5 423.9,370.5" fill="#f58a50" /><polygon points="417.4,370.2 423.0,370.2 423.4,372.6 417.8,372.6" fill="#e2553a" /><polygon points="423.9,370.2 429.4,370.2 429.8,372.6 424.3,372.6" fill="#e2553a" /><polygon points="417.8,372.3 423.4,372.3 423.9,375.3 418.3,375.3" fill="#f6a25e" /><polygon points="424.3,372.3 429.8,372.3 430.3,375.3 424.8,375.3" fill="#f6a25e" /><polygon points="418.3,375.0 423.9,375.0 424.2,376.9 418.6,376.9" fill="#fff2c8" /><polygon points="424.8,375.0 430.3,375.0 430.6,376.9 425.1,376.9" fill="#fff2c8" /><polygon points="418.6,376.6 424.2,376.6 424.8,380.1 419.2,380.1" fill="#fbb56a" /><polygon points="425.1,376.6 430.6,376.6 431.2,380.1 425.7,380.1" fill="#fbb56a" /><polygon points="419.2,379.8 424.8,379.8 424.8,380.3 419.3,380.3" fill="#c8e2ee" /><polygon points="425.7,379.8 431.2,379.8 431.3,380.3 425.7,380.3" fill="#c8e2ee" /></g>
<g filter="url(#b1s)"><polygon points="418.0,247.0 423.6,247.0 423.8,248.4 418.2,248.4" fill="#f4874e" /><polygon points="424.4,247.0 430.0,247.0 430.2,248.4 424.7,248.4" fill="#f4874e" /><polygon points="418.2,248.1 423.8,248.1 424.1,250.4 418.6,250.4" fill="#ee7a45" /><polygon points="424.7,248.1 430.2,248.1 430.6,250.4 425.0,250.4" fill="#ee7a45" /><polygon points="418.6,250.1 424.1,250.1 424.3,251.4 418.8,251.4" fill="#d8eef4" /><polygon points="425.0,250.1 430.6,250.1 430.8,251.4 425.2,251.4" fill="#d8eef4" /><polygon points="418.8,251.1 424.3,251.1 424.8,253.6 419.2,253.6" fill="#fff2c4" /><polygon points="425.2,251.1 430.8,251.1 431.2,253.6 425.7,253.6" fill="#ee7a45" /><polygon points="419.2,253.3 424.8,253.3 425.0,255.1 419.5,255.1" fill="#f7a35c" /><polygon points="425.7,253.3 431.2,253.3 431.5,255.1 425.9,255.1" fill="#f7a35c" /><polygon points="419.5,254.8 425.0,254.8 425.4,257.2 419.9,257.2" fill="#fff2c4" /><polygon points="425.9,254.8 431.5,254.8 431.9,257.2 426.3,257.2" fill="#fff2c4" /><polygon points="419.9,256.9 425.4,256.9 425.8,259.3 420.3,259.3" fill="#f4874e" /><polygon points="426.3,256.9 431.9,256.9 432.3,259.3 426.7,259.3" fill="#f4874e" /><polygon points="420.3,259.0 425.8,259.0 426.1,260.9 420.6,260.9" fill="#d8eef4" /><polygon points="426.7,259.0 432.3,259.0 432.6,260.9 427.0,260.9" fill="#d8eef4" /><polygon points="420.6,260.6 426.1,260.6 426.6,263.3 421.0,263.3" fill="#fdd38a" /><polygon points="427.0,260.6 432.6,260.6 433.0,263.3 427.5,263.3" fill="#ee7a45" /><polygon points="421.0,263.0 426.6,263.0 426.8,264.3 421.2,264.3" fill="#f7a35c" /><polygon points="427.5,263.0 433.0,263.0 433.2,264.3 427.7,264.3" fill="#fff2c4" /><polygon points="421.2,264.0 426.8,264.0 427.1,265.8 421.5,265.8" fill="#fee8a8" /><polygon points="427.7,264.0 433.2,264.0 433.5,265.8 428.0,265.8" fill="#fee8a8" /><polygon points="421.5,265.5 427.1,265.5 427.4,267.8 421.9,267.8" fill="#ee7a45" /><polygon points="428.0,265.5 433.5,265.5 433.9,267.8 428.3,267.8" fill="#ee7a45" /><polygon points="421.9,267.5 427.4,267.5 427.5,268.3 422.0,268.3" fill="#b9dcec" /><polygon points="428.3,267.5 433.9,267.5 434.0,268.3 428.4,268.3" fill="#b9dcec" /></g><g filter="url(#b1s)"><polygon points="422.0,268.0 427.5,268.0 427.8,269.4 422.2,269.4" fill="#fdd08a" /><polygon points="428.4,268.0 434.0,268.0 434.2,269.4 428.7,269.4" fill="#e65a3a" /><polygon points="422.2,269.1 427.8,269.1 428.2,271.6 422.6,271.6" fill="#fff2c4" /><polygon points="428.7,269.1 434.2,269.1 434.6,271.6 429.1,271.6" fill="#d8eef4" /><polygon points="422.6,271.3 428.2,271.3 428.4,272.7 422.8,272.7" fill="#fbb46c" /><polygon points="429.1,271.3 434.6,271.3 434.8,272.7 429.3,272.7" fill="#fbb46c" /><polygon points="422.8,272.4 428.4,272.4 428.7,274.4 423.2,274.4" fill="#fde8b0" /><polygon points="429.3,272.4 434.8,272.4 435.2,274.4 429.6,274.4" fill="#fff2c4" /><polygon points="423.2,274.1 428.7,274.1 429.0,275.8 423.4,275.8" fill="#f28a52" /><polygon points="429.6,274.1 435.2,274.1 435.4,275.8 429.9,275.8" fill="#f28a52" /><polygon points="423.4,275.5 429.0,275.5 429.3,277.4 423.7,277.4" fill="#fde8b0" /><polygon points="429.9,275.5 435.4,275.5 435.7,277.4 430.2,277.4" fill="#fde8b0" /><polygon points="423.7,277.1 429.3,277.1 429.5,278.6 423.9,278.6" fill="#fdd08a" /><polygon points="430.2,277.1 435.7,277.1 435.9,278.6 430.4,278.6" fill="#e65a3a" /><polygon points="423.9,278.3 429.5,278.3 429.9,280.8 424.4,280.8" fill="#9cc8e2" /><polygon points="430.4,278.3 435.9,278.3 436.4,280.8 430.8,280.8" fill="#f28a52" /><polygon points="424.4,280.5 429.9,280.5 430.3,282.8 424.7,282.8" fill="#d8eef4" /><polygon points="430.8,280.5 436.4,280.5 436.7,282.8 431.2,282.8" fill="#d8eef4" /><polygon points="424.7,282.5 430.3,282.5 430.7,284.7 425.1,284.7" fill="#f28a52" /><polygon points="431.2,282.5 436.7,282.5 437.1,284.7 431.6,284.7" fill="#f28a52" /><polygon points="425.1,284.4 430.7,284.4 431.1,286.9 425.5,286.9" fill="#fff4cc" /><polygon points="431.6,284.4 437.1,284.4 437.5,286.9 432.0,286.9" fill="#fff4cc" /><polygon points="425.5,286.6 431.1,286.6 431.4,288.8 425.9,288.8" fill="#fff2c4" /><polygon points="432.0,286.6 437.5,286.6 437.9,288.8 432.3,288.8" fill="#fff2c4" /><polygon points="425.9,288.5 431.4,288.5 431.8,290.6 426.2,290.6" fill="#c8e2ee" /><polygon points="432.3,288.5 437.9,288.5 438.2,290.6 432.7,290.6" fill="#c8e2ee" /><polygon points="426.2,290.3 431.8,290.3 432.1,292.5 426.6,292.5" fill="#f28a52" /><polygon points="432.7,290.3 438.2,290.3 438.6,292.5 433.0,292.5" fill="#f28a52" /><polygon points="426.6,292.2 432.1,292.2 432.5,294.6 427.0,294.6" fill="#fdd08a" /><polygon points="433.0,292.2 438.6,292.2 439.0,294.6 433.4,294.6" fill="#fdd08a" /><polygon points="427.0,294.3 432.5,294.3 433.0,297.1 427.5,297.1" fill="#fbb46c" /><polygon points="433.4,294.3 439.0,294.3 439.5,297.1 433.9,297.1" fill="#fbb46c" /><polygon points="427.5,296.8 433.0,296.8 433.4,298.9 427.8,298.9" fill="#f7a35c" /><polygon points="433.9,296.8 439.5,296.8 439.8,298.9 434.3,298.9" fill="#f7a35c" /><polygon points="427.8,298.6 433.4,298.6 433.8,301.4 428.3,301.4" fill="#9cc8e2" /><polygon points="434.3,298.6 439.8,298.6 440.3,301.4 434.7,301.4" fill="#9cc8e2" /><polygon points="428.3,301.1 433.8,301.1 434.2,303.5 428.7,303.5" fill="#e65a3a" /><polygon points="434.7,301.1 440.3,301.1 440.7,303.5 435.1,303.5" fill="#fde8b0" /><polygon points="428.7,303.2 434.2,303.2 434.6,305.2 429.0,305.2" fill="#fff4cc" /><polygon points="435.1,303.2 440.7,303.2 441.0,305.2 435.5,305.2" fill="#fff4cc" /><polygon points="429.0,304.9 434.6,304.9 435.0,307.5 429.4,307.5" fill="#9cc8e2" /><polygon points="435.5,304.9 441.0,304.9 441.4,307.5 435.9,307.5" fill="#f7a35c" /><polygon points="429.4,307.2 435.0,307.2 435.2,308.9 429.7,308.9" fill="#e65a3a" /><polygon points="435.9,307.2 441.4,307.2 441.7,308.9 436.1,308.9" fill="#fff4cc" /><polygon points="429.7,308.6 435.2,308.6 435.7,311.0 430.1,311.0" fill="#6fa2cc" /><polygon points="436.1,308.6 441.7,308.6 442.1,311.0 436.6,311.0" fill="#d8eef4" /><polygon points="430.1,310.7 435.7,310.7 435.9,312.2 430.3,312.2" fill="#d8eef4" /><polygon points="436.6,310.7 442.1,310.7 442.3,312.2 436.8,312.2" fill="#d8eef4" /><polygon points="430.3,311.9 435.9,311.9 436.3,314.6 430.8,314.6" fill="#c8e2ee" /><polygon points="436.8,311.9 442.3,311.9 442.8,314.6 437.2,314.6" fill="#c8e2ee" /><polygon points="430.8,314.3 436.3,314.3 436.7,316.5 431.1,316.5" fill="#fde8b0" /><polygon points="437.2,314.3 442.8,314.3 443.1,316.5 437.6,316.5" fill="#e65a3a" /><polygon points="431.1,316.2 436.7,316.2 437.0,318.1 431.4,318.1" fill="#fff4cc" /><polygon points="437.6,316.2 443.1,316.2 443.4,318.1 437.9,318.1" fill="#fbb46c" /><polygon points="431.4,317.8 437.0,317.8 437.2,319.2 431.7,319.2" fill="#f28a52" /><polygon points="437.9,317.8 443.4,317.8 443.7,319.2 438.1,319.2" fill="#f28a52" /><polygon points="431.7,318.9 437.2,318.9 437.6,321.2 432.0,321.2" fill="#fdd08a" /><polygon points="438.1,318.9 443.7,318.9 444.0,321.2 438.5,321.2" fill="#fdd08a" /><polygon points="432.0,320.9 437.6,320.9 438.0,323.4 432.5,323.4" fill="#e65a3a" /><polygon points="438.5,320.9 444.0,320.9 444.5,323.4 438.9,323.4" fill="#d8eef4" /><polygon points="432.5,323.1 438.0,323.1 438.4,325.5 432.9,325.5" fill="#fff2c4" /><polygon points="438.9,323.1 444.5,323.1 444.9,325.5 439.3,325.5" fill="#6fa2cc" /><polygon points="432.9,325.2 438.4,325.2 438.8,327.6 433.3,327.6" fill="#f28a52" /><polygon points="439.3,325.2 444.9,325.2 445.3,327.6 439.7,327.6" fill="#f28a52" /><polygon points="433.3,327.3 438.8,327.3 439.3,330.0 433.7,330.0" fill="#f7a35c" /><polygon points="439.7,327.3 445.3,327.3 445.7,330.0 440.2,330.0" fill="#fdd08a" /><polygon points="433.7,329.7 439.3,329.7 439.3,330.3 433.8,330.3" fill="#9cc8e2" /><polygon points="440.2,329.7 445.7,329.7 445.8,330.3 440.2,330.3" fill="#9cc8e2" /></g><g filter="url(#b1s)"><polygon points="433.8,330.0 439.3,330.0 439.6,331.9 434.1,331.9" fill="#c8e2ee" /><polygon points="440.2,330.0 445.8,330.0 446.1,331.9 440.5,331.9" fill="#d73a2a" /><polygon points="434.1,331.6 439.6,331.6 440.0,334.0 434.5,334.0" fill="#fdd08a" /><polygon points="440.5,331.6 446.1,331.6 446.5,334.0 440.9,334.0" fill="#fdd08a" /><polygon points="434.5,333.7 440.0,333.7 440.6,337.3 435.1,337.3" fill="#d73a2a" /><polygon points="440.9,333.7 446.5,333.7 447.1,337.3 441.5,337.3" fill="#d73a2a" /><polygon points="435.1,337.0 440.6,337.0 441.1,339.8 435.6,339.8" fill="#fde3a0" /><polygon points="441.5,337.0 447.1,337.0 447.6,339.8 442.0,339.8" fill="#fbb56a" /><polygon points="435.6,339.5 441.1,339.5 441.6,342.1 436.0,342.1" fill="#d73a2a" /><polygon points="442.0,339.5 447.6,339.5 448.0,342.1 442.5,342.1" fill="#f6a25e" /><polygon points="436.0,341.8 441.6,341.8 442.1,344.7 436.5,344.7" fill="#c8e2ee" /><polygon points="442.5,341.8 448.0,341.8 448.5,344.7 443.0,344.7" fill="#f58a50" /><polygon points="436.5,344.4 442.1,344.4 442.3,346.2 436.8,346.2" fill="#f6a25e" /><polygon points="443.0,344.4 448.5,344.4 448.8,346.2 443.2,346.2" fill="#d73a2a" /><polygon points="436.8,345.9 442.3,345.9 443.0,349.7 437.5,349.7" fill="#e2553a" /><polygon points="443.2,345.9 448.8,345.9 449.5,349.7 443.9,349.7" fill="#9cc6e0" /><polygon points="437.5,349.4 443.0,349.4 443.5,352.1 437.9,352.1" fill="#fff2c8" /><polygon points="443.9,349.4 449.5,349.4 449.9,352.1 444.4,352.1" fill="#fff2c8" /><polygon points="437.9,351.8 443.5,351.8 443.8,353.8 438.2,353.8" fill="#f58a50" /><polygon points="444.4,351.8 449.9,351.8 450.2,353.8 444.7,353.8" fill="#f58a50" /><polygon points="438.2,353.5 443.8,353.5 444.4,356.9 438.8,356.9" fill="#c8e2ee" /><polygon points="444.7,353.5 450.2,353.5 450.8,356.9 445.3,356.9" fill="#c8e2ee" /><polygon points="438.8,356.6 444.4,356.6 444.7,358.5 439.1,358.5" fill="#fff2c8" /><polygon points="445.3,356.6 450.8,356.6 451.1,358.5 445.6,358.5" fill="#fff2c8" /><polygon points="439.1,358.2 444.7,358.2 445.0,360.3 439.5,360.3" fill="#d73a2a" /><polygon points="445.6,358.2 451.1,358.2 451.5,360.3 445.9,360.3" fill="#f6a25e" /><polygon points="439.5,360.0 445.0,360.0 445.6,363.1 440.0,363.1" fill="#fdd08a" /><polygon points="445.9,360.0 451.5,360.0 452.0,363.1 446.5,363.1" fill="#9cc6e0" /><polygon points="440.0,362.8 445.6,362.8 446.0,365.4 440.4,365.4" fill="#d73a2a" /><polygon points="446.5,362.8 452.0,362.8 452.4,365.4 446.9,365.4" fill="#f58a50" /><polygon points="440.4,365.1 446.0,365.1 446.6,368.7 441.1,368.7" fill="#e2553a" /><polygon points="446.9,365.1 452.4,365.1 453.1,368.7 447.5,368.7" fill="#e2553a" /><polygon points="441.1,368.4 446.6,368.4 447.3,372.0 441.7,372.0" fill="#fff2c8" /><polygon points="447.5,368.4 453.1,368.4 453.7,372.0 448.2,372.0" fill="#fff2c8" /><polygon points="441.7,371.7 447.3,371.7 447.7,374.5 442.2,374.5" fill="#f58a50" /><polygon points="448.2,371.7 453.7,371.7 454.2,374.5 448.6,374.5" fill="#f58a50" /><polygon points="442.2,374.2 447.7,374.2 448.2,376.9 442.6,376.9" fill="#f6a25e" /><polygon points="448.6,374.2 454.2,374.2 454.6,376.9 449.1,376.9" fill="#fbb56a" /><polygon points="442.6,376.6 448.2,376.6 448.7,379.9 443.2,379.9" fill="#f58a50" /><polygon points="449.1,376.6 454.6,376.6 455.2,379.9 449.6,379.9" fill="#f58a50" /><polygon points="443.2,379.6 448.7,379.6 449.0,381.5 443.5,381.5" fill="#fde3a0" /><polygon points="449.6,379.6 455.2,379.6 455.5,381.5 449.9,381.5" fill="#fde3a0" /><polygon points="443.5,381.2 449.0,381.2 449.3,383.1 443.8,383.1" fill="#fbb56a" /><polygon points="449.9,381.2 455.5,381.2 455.8,383.1 450.2,383.1" fill="#fbb56a" /><polygon points="443.8,382.8 449.3,382.8 449.9,385.9 444.3,385.9" fill="#fde3a0" /><polygon points="450.2,382.8 455.8,382.8 456.3,385.9 450.8,385.9" fill="#fde3a0" /><polygon points="444.3,385.6 449.9,385.6 450.2,387.6 444.7,387.6" fill="#fff2c8" /><polygon points="450.8,385.6 456.3,385.6 456.7,387.6 451.1,387.6" fill="#9cc6e0" /><polygon points="444.7,387.3 450.2,387.3 450.8,390.7 445.3,390.7" fill="#9cc6e0" /><polygon points="451.1,387.3 456.7,387.3 457.3,390.7 451.7,390.7" fill="#9cc6e0" /><polygon points="445.3,390.4 450.8,390.4 451.4,394.1 445.9,394.1" fill="#f6a25e" /><polygon points="451.7,390.4 457.3,390.4 457.9,394.1 452.3,394.1" fill="#f6a25e" /><polygon points="445.9,393.8 451.4,393.8 452.0,397.0 446.4,397.0" fill="#fbb56a" /><polygon points="452.3,393.8 457.9,393.8 458.4,397.0 452.9,397.0" fill="#d73a2a" /><polygon points="446.4,396.7 452.0,396.7 452.2,398.3 446.7,398.3" fill="#9cc6e0" /><polygon points="452.9,396.7 458.4,396.7 458.7,398.3 453.1,398.3" fill="#9cc6e0" /></g>
<g filter="url(#b1s)"><polygon points="442.0,247.0 447.8,247.0 448.1,249.1 442.3,249.1" fill="#f4874e" /><polygon points="448.7,247.0 454.5,247.0 454.8,249.1 449.0,249.1" fill="#b9dcec" /><polygon points="442.3,248.8 448.1,248.8 448.5,250.8 442.7,250.8" fill="#fff2c4" /><polygon points="449.0,248.8 454.8,248.8 455.2,250.8 449.4,250.8" fill="#fee8a8" /><polygon points="442.7,250.5 448.5,250.5 448.9,253.1 443.1,253.1" fill="#9cc8e2" /><polygon points="449.4,250.5 455.2,250.5 455.6,253.1 449.8,253.1" fill="#d8eef4" /><polygon points="443.1,252.8 448.9,252.8 449.4,255.5 443.6,255.5" fill="#fff2c4" /><polygon points="449.8,252.8 455.6,252.8 456.1,255.5 450.3,255.5" fill="#fff2c4" /><polygon points="443.6,255.2 449.4,255.2 449.6,256.9 443.8,256.9" fill="#fdd38a" /><polygon points="450.3,255.2 456.1,255.2 456.3,256.9 450.5,256.9" fill="#fdd38a" /><polygon points="443.8,256.6 449.6,256.6 449.9,258.3 444.1,258.3" fill="#ee7a45" /><polygon points="450.5,256.6 456.3,256.6 456.6,258.3 450.8,258.3" fill="#9cc8e2" /><polygon points="444.1,258.0 449.9,258.0 450.3,260.5 444.5,260.5" fill="#fdbf6f" /><polygon points="450.8,258.0 456.6,258.0 457.0,260.5 451.2,260.5" fill="#b9dcec" /><polygon points="444.5,260.2 450.3,260.2 450.7,262.8 444.9,262.8" fill="#fff2c4" /><polygon points="451.2,260.2 457.0,260.2 457.4,262.8 451.6,262.8" fill="#f4874e" /><polygon points="444.9,262.5 450.7,262.5 451.0,264.0 445.2,264.0" fill="#f7a35c" /><polygon points="451.6,262.5 457.4,262.5 457.7,264.0 451.9,264.0" fill="#f7a35c" /><polygon points="445.2,263.7 451.0,263.7 451.4,266.2 445.6,266.2" fill="#f4874e" /><polygon points="451.9,263.7 457.7,263.7 458.1,266.2 452.3,266.2" fill="#fdd38a" /><polygon points="445.6,265.9 451.4,265.9 451.8,268.3 446.0,268.3" fill="#fdd38a" /><polygon points="452.3,265.9 458.1,265.9 458.5,268.3 452.7,268.3" fill="#f4874e" /><polygon points="446.0,268.0 451.8,268.0 451.8,268.3 446.0,268.3" fill="#d8eef4" /><polygon points="452.7,268.0 458.5,268.0 458.5,268.3 452.7,268.3" fill="#d8eef4" /></g><g filter="url(#b1s)"><polygon points="446.0,268.0 451.8,268.0 452.1,270.1 446.3,270.1" fill="#9cc8e2" /><polygon points="452.7,268.0 458.5,268.0 458.8,270.1 453.0,270.1" fill="#9cc8e2" /><polygon points="446.3,269.8 452.1,269.8 452.6,272.5 446.8,272.5" fill="#fbb46c" /><polygon points="453.0,269.8 458.8,269.8 459.3,272.5 453.5,272.5" fill="#fbb46c" /><polygon points="446.8,272.2 452.6,272.2 453.1,275.1 447.3,275.1" fill="#fff4cc" /><polygon points="453.5,272.2 459.3,272.2 459.8,275.1 454.0,275.1" fill="#fff4cc" /><polygon points="447.3,274.8 453.1,274.8 453.3,276.4 447.5,276.4" fill="#fff2c4" /><polygon points="454.0,274.8 459.8,274.8 460.0,276.4 454.2,276.4" fill="#fff2c4" /><polygon points="447.5,276.1 453.3,276.1 453.6,277.7 447.8,277.7" fill="#fff4cc" /><polygon points="454.2,276.1 460.0,276.1 460.3,277.7 454.5,277.7" fill="#e65a3a" /><polygon points="447.8,277.4 453.6,277.4 453.8,279.0 448.0,279.0" fill="#e65a3a" /><polygon points="454.5,277.4 460.3,277.4 460.5,279.0 454.7,279.0" fill="#f28a52" /><polygon points="448.0,278.7 453.8,278.7 454.1,280.7 448.3,280.7" fill="#fff4cc" /><polygon points="454.7,278.7 460.5,278.7 460.8,280.7 455.0,280.7" fill="#fff4cc" /><polygon points="448.3,280.4 454.1,280.4 454.6,282.8 448.8,282.8" fill="#e65a3a" /><polygon points="455.0,280.4 460.8,280.4 461.3,282.8 455.5,282.8" fill="#d8eef4" /><polygon points="448.8,282.5 454.6,282.5 455.0,285.2 449.2,285.2" fill="#fde8b0" /><polygon points="455.5,282.5 461.3,282.5 461.7,285.2 455.9,285.2" fill="#fde8b0" /><polygon points="449.2,284.9 455.0,284.9 455.3,286.6 449.5,286.6" fill="#fdd08a" /><polygon points="455.9,284.9 461.7,284.9 462.0,286.6 456.2,286.6" fill="#fff4cc" /><polygon points="449.5,286.3 455.3,286.3 455.5,287.9 449.7,287.9" fill="#6fa2cc" /><polygon points="456.2,286.3 462.0,286.3 462.2,287.9 456.4,287.9" fill="#6fa2cc" /><polygon points="449.7,287.6 455.5,287.6 455.9,290.0 450.1,290.0" fill="#f7a35c" /><polygon points="456.4,287.6 462.2,287.6 462.6,290.0 456.8,290.0" fill="#f7a35c" /><polygon points="450.1,289.7 455.9,289.7 456.2,291.4 450.4,291.4" fill="#f28a52" /><polygon points="456.8,289.7 462.6,289.7 462.9,291.4 457.1,291.4" fill="#f28a52" /><polygon points="450.4,291.1 456.2,291.1 456.6,293.4 450.8,293.4" fill="#fbb46c" /><polygon points="457.1,291.1 462.9,291.1 463.3,293.4 457.5,293.4" fill="#fff4cc" /><polygon points="450.8,293.1 456.6,293.1 457.0,295.8 451.2,295.8" fill="#d8eef4" /><polygon points="457.5,293.1 463.3,293.1 463.7,295.8 457.9,295.8" fill="#fff2c4" /><polygon points="451.2,295.5 457.0,295.5 457.4,297.6 451.6,297.6" fill="#fff2c4" /><polygon points="457.9,295.5 463.7,295.5 464.1,297.6 458.3,297.6" fill="#d8eef4" /><polygon points="451.6,297.3 457.4,297.3 457.6,298.8 451.8,298.8" fill="#f28a52" /><polygon points="458.3,297.3 464.1,297.3 464.3,298.8 458.5,298.8" fill="#9cc8e2" /><polygon points="451.8,298.5 457.6,298.5 457.8,300.0 452.0,300.0" fill="#e65a3a" /><polygon points="458.5,298.5 464.3,298.5 464.5,300.0 458.7,300.0" fill="#f7a35c" /><polygon points="452.0,299.7 457.8,299.7 458.0,301.0 452.2,301.0" fill="#fde8b0" /><polygon points="458.7,299.7 464.5,299.7 464.7,301.0 458.9,301.0" fill="#d8eef4" /><polygon points="452.2,300.7 458.0,300.7 458.3,302.6 452.5,302.6" fill="#d8eef4" /><polygon points="458.9,300.7 464.7,300.7 465.0,302.6 459.2,302.6" fill="#c8e2ee" /><polygon points="452.5,302.3 458.3,302.3 458.6,303.9 452.8,303.9" fill="#f28a52" /><polygon points="459.2,302.3 465.0,302.3 465.3,303.9 459.5,303.9" fill="#f28a52" /><polygon points="452.8,303.6 458.6,303.6 458.8,305.1 453.0,305.1" fill="#fdd08a" /><polygon points="459.5,303.6 465.3,303.6 465.5,305.1 459.7,305.1" fill="#e65a3a" /><polygon points="453.0,304.8 458.8,304.8 459.0,306.2 453.2,306.2" fill="#fff2c4" /><polygon points="459.7,304.8 465.5,304.8 465.7,306.2 459.9,306.2" fill="#fff2c4" /><polygon points="453.2,305.9 459.0,305.9 459.4,308.5 453.6,308.5" fill="#d8eef4" /><polygon points="459.9,305.9 465.7,305.9 466.1,308.5 460.3,308.5" fill="#d8eef4" /><polygon points="453.6,308.2 459.4,308.2 459.9,311.0 454.1,311.0" fill="#fff2c4" /><polygon points="460.3,308.2 466.1,308.2 466.6,311.0 460.8,311.0" fill="#fff2c4" /><polygon points="454.1,310.7 459.9,310.7 460.3,312.9 454.5,312.9" fill="#fdd08a" /><polygon points="460.8,310.7 466.6,310.7 467.0,312.9 461.2,312.9" fill="#fdd08a" /><polygon points="454.5,312.6 460.3,312.6 460.6,314.6 454.8,314.6" fill="#e65a3a" /><polygon points="461.2,312.6 467.0,312.6 467.3,314.6 461.5,314.6" fill="#e65a3a" /><polygon points="454.8,314.3 460.6,314.3 461.0,316.8 455.2,316.8" fill="#fff4cc" /><polygon points="461.5,314.3 467.3,314.3 467.7,316.8 461.9,316.8" fill="#fff4cc" /><polygon points="455.2,316.5 461.0,316.5 461.4,318.8 455.6,318.8" fill="#fde8b0" /><polygon points="461.9,316.5 467.7,316.5 468.1,318.8 462.3,318.8" fill="#fde8b0" /><polygon points="455.6,318.5 461.4,318.5 461.8,321.2 456.0,321.2" fill="#fff2c4" /><polygon points="462.3,318.5 468.1,318.5 468.5,321.2 462.7,321.2" fill="#fff2c4" /><polygon points="456.0,320.9 461.8,320.9 462.3,323.6 456.5,323.6" fill="#fff4cc" /><polygon points="462.7,320.9 468.5,320.9 469.0,323.6 463.2,323.6" fill="#fff4cc" /><polygon points="456.5,323.3 462.3,323.3 462.6,325.3 456.8,325.3" fill="#d8eef4" /><polygon points="463.2,323.3 469.0,323.3 469.3,325.3 463.5,325.3" fill="#d8eef4" /><polygon points="456.8,325.0 462.6,325.0 462.9,326.6 457.1,326.6" fill="#fde8b0" /><polygon points="463.5,325.0 469.3,325.0 469.6,326.6 463.8,326.6" fill="#fde8b0" /><polygon points="457.1,326.3 462.9,326.3 463.1,328.1 457.3,328.1" fill="#fbb46c" /><polygon points="463.8,326.3 469.6,326.3 469.8,328.1 464.0,328.1" fill="#e65a3a" /><polygon points="457.3,327.8 463.1,327.8 463.3,329.1 457.5,329.1" fill="#fff2c4" /><polygon points="464.0,327.8 469.8,327.8 470.0,329.1 464.2,329.1" fill="#fff2c4" /><polygon points="457.5,328.8 463.3,328.8 463.6,330.3 457.8,330.3" fill="#fbb46c" /><polygon points="464.2,328.8 470.0,328.8 470.3,330.3 464.5,330.3" fill="#fbb46c" /></g><g filter="url(#b1s)"><polygon points="457.8,330.0 463.6,330.0 463.9,331.9 458.1,331.9" fill="#c8e2ee" /><polygon points="464.5,330.0 470.3,330.0 470.6,331.9 464.8,331.9" fill="#c8e2ee" /><polygon points="458.1,331.6 463.9,331.6 464.3,334.0 458.5,334.0" fill="#9cc6e0" /><polygon points="464.8,331.6 470.6,331.6 471.0,334.0 465.2,334.0" fill="#9cc6e0" /><polygon points="458.5,333.7 464.3,333.7 464.8,336.7 459.0,336.7" fill="#e2553a" /><polygon points="465.2,333.7 471.0,333.7 471.5,336.7 465.7,336.7" fill="#fbb56a" /><polygon points="459.0,336.4 464.8,336.4 465.2,338.8 459.4,338.8" fill="#fbb56a" /><polygon points="465.7,336.4 471.5,336.4 471.9,338.8 466.1,338.8" fill="#fbb56a" /><polygon points="459.4,338.5 465.2,338.5 465.5,340.5 459.7,340.5" fill="#fde3a0" /><polygon points="466.1,338.5 471.9,338.5 472.2,340.5 466.4,340.5" fill="#fde3a0" /><polygon points="459.7,340.2 465.5,340.2 465.9,342.5 460.1,342.5" fill="#9cc6e0" /><polygon points="466.4,340.2 472.2,340.2 472.6,342.5 466.8,342.5" fill="#9cc6e0" /><polygon points="460.1,342.2 465.9,342.2 466.4,345.3 460.6,345.3" fill="#fbb56a" /><polygon points="466.8,342.2 472.6,342.2 473.1,345.3 467.3,345.3" fill="#f58a50" /><polygon points="460.6,345.0 466.4,345.0 466.9,347.9 461.1,347.9" fill="#d73a2a" /><polygon points="467.3,345.0 473.1,345.0 473.6,347.9 467.8,347.9" fill="#e2553a" /><polygon points="461.1,347.6 466.9,347.6 467.4,350.7 461.6,350.7" fill="#c8e2ee" /><polygon points="467.8,347.6 473.6,347.6 474.1,350.7 468.3,350.7" fill="#f58a50" /><polygon points="461.6,350.4 467.4,350.4 467.8,352.5 462.0,352.5" fill="#fdd08a" /><polygon points="468.3,350.4 474.1,350.4 474.5,352.5 468.7,352.5" fill="#f6a25e" /><polygon points="462.0,352.2 467.8,352.2 468.3,355.2 462.5,355.2" fill="#d73a2a" /><polygon points="468.7,352.2 474.5,352.2 475.0,355.2 469.2,355.2" fill="#d73a2a" /><polygon points="462.5,354.9 468.3,354.9 468.6,356.7 462.8,356.7" fill="#9cc6e0" /><polygon points="469.2,354.9 475.0,354.9 475.3,356.7 469.5,356.7" fill="#9cc6e0" /><polygon points="462.8,356.4 468.6,356.4 468.9,358.6 463.1,358.6" fill="#e2553a" /><polygon points="469.5,356.4 475.3,356.4 475.6,358.6 469.8,358.6" fill="#d73a2a" /><polygon points="463.1,358.3 468.9,358.3 469.3,360.2 463.5,360.2" fill="#f6a25e" /><polygon points="469.8,358.3 475.6,358.3 476.0,360.2 470.2,360.2" fill="#f6a25e" /><polygon points="463.5,359.9 469.3,359.9 469.8,363.3 464.0,363.3" fill="#d73a2a" /><polygon points="470.2,359.9 476.0,359.9 476.5,363.3 470.7,363.3" fill="#d73a2a" /><polygon points="464.0,363.0 469.8,363.0 470.2,365.2 464.4,365.2" fill="#fdd08a" /><polygon points="470.7,363.0 476.5,363.0 476.9,365.2 471.1,365.2" fill="#fdd08a" /><polygon points="464.4,364.9 470.2,364.9 470.7,368.0 464.9,368.0" fill="#c8e2ee" /><polygon points="471.1,364.9 476.9,364.9 477.4,368.0 471.6,368.0" fill="#c8e2ee" /><polygon points="464.9,367.7 470.7,367.7 471.1,369.7 465.3,369.7" fill="#fde3a0" /><polygon points="471.6,367.7 477.4,367.7 477.8,369.7 472.0,369.7" fill="#fde3a0" /><polygon points="465.3,369.4 471.1,369.4 471.5,372.1 465.7,372.1" fill="#e2553a" /><polygon points="472.0,369.4 477.8,369.4 478.2,372.1 472.4,372.1" fill="#fbb56a" /><polygon points="465.7,371.8 471.5,371.8 472.0,374.6 466.2,374.6" fill="#d73a2a" /><polygon points="472.4,371.8 478.2,371.8 478.7,374.6 472.9,374.6" fill="#d73a2a" /><polygon points="466.2,374.3 472.0,374.3 472.3,376.3 466.5,376.3" fill="#fff2c8" /><polygon points="472.9,374.3 478.7,374.3 479.0,376.3 473.2,376.3" fill="#fff2c8" /><polygon points="466.5,376.0 472.3,376.0 472.8,378.8 467.0,378.8" fill="#c8e2ee" /><polygon points="473.2,376.0 479.0,376.0 479.5,378.8 473.7,378.8" fill="#f58a50" /><polygon points="467.0,378.5 472.8,378.5 473.1,380.4 467.3,380.4" fill="#fde3a0" /><polygon points="473.7,378.5 479.5,378.5 479.8,380.4 474.0,380.4" fill="#fde3a0" /><polygon points="467.3,380.1 473.1,380.1 473.6,382.9 467.8,382.9" fill="#e2553a" /><polygon points="474.0,380.1 479.8,380.1 480.3,382.9 474.5,382.9" fill="#e2553a" /><polygon points="467.8,382.6 473.6,382.6 473.9,384.7 468.1,384.7" fill="#fff2c8" /><polygon points="474.5,382.6 480.3,382.6 480.6,384.7 474.8,384.7" fill="#fff2c8" /><polygon points="468.1,384.4 473.9,384.4 474.4,387.5 468.6,387.5" fill="#fdd08a" /><polygon points="474.8,384.4 480.6,384.4 481.1,387.5 475.3,387.5" fill="#fdd08a" /><polygon points="468.6,387.2 474.4,387.2 474.9,389.9 469.1,389.9" fill="#f6a25e" /><polygon points="475.3,387.2 481.1,387.2 481.6,389.9 475.8,389.9" fill="#fff2c8" /><polygon points="469.1,389.6 474.9,389.6 475.4,392.4 469.6,392.4" fill="#9cc6e0" /><polygon points="475.8,389.6 481.6,389.6 482.1,392.4 476.3,392.4" fill="#fff2c8" /><polygon points="469.6,392.1 475.4,392.1 475.7,394.0 469.9,394.0" fill="#e2553a" /><polygon points="476.3,392.1 482.1,392.1 482.4,394.0 476.6,394.0" fill="#e2553a" /><polygon points="469.9,393.7 475.7,393.7 476.1,396.4 470.3,396.4" fill="#f6a25e" /><polygon points="476.6,393.7 482.4,393.7 482.8,396.4 477.0,396.4" fill="#fdd08a" /><polygon points="470.3,396.1 476.1,396.1 476.5,398.3 470.7,398.3" fill="#fde3a0" /><polygon points="477.0,396.1 482.8,396.1 483.2,398.3 477.4,398.3" fill="#9cc6e0" /></g>
<path d="M356.0,288.6 C356.1,287.0 357.6,285.9 359.2,285.4 C360.8,284.9 363.9,284.6 365.6,285.4 C367.4,286.2 368.5,288.1 369.7,290.3 C370.9,292.5 372.4,296.0 372.9,298.3 C373.4,300.6 373.4,303.0 372.9,304.0 C372.4,305.0 371.2,305.2 369.7,304.5 C368.2,303.8 365.9,301.6 364.0,300.0 C362.1,298.4 359.7,296.9 358.4,295.0 C357.1,293.1 355.9,290.2 356.0,288.6 Z" fill="none" stroke="#4d9d4d" stroke-width="0.90" />
<path d="M409.0,276.4 C409.3,273.2 411.1,271.2 412.5,269.5 C413.9,267.8 416.4,265.4 417.7,266.0 C419.0,266.6 419.6,270.4 420.3,273.0 C421.0,275.6 422.3,279.3 422.0,281.6 C421.7,283.9 419.8,285.4 418.5,286.8 C417.2,288.2 415.5,290.0 414.2,290.3 C412.9,290.6 411.7,290.8 410.8,288.5 C409.9,286.2 408.7,279.6 409.0,276.4 Z" fill="none" stroke="#4d9d4d" stroke-width="0.90" />
<path d="M428.0,268.0 C428.7,265.5 429.3,267.1 432.0,266.9 C434.7,266.7 441.8,266.3 444.0,267.0 C446.2,267.7 445.2,268.5 445.4,271.0 C445.6,273.5 446.0,279.5 445.4,282.0 C444.8,284.5 444.6,285.2 442.0,285.9 C439.4,286.5 432.3,286.5 430.0,285.9 C427.7,285.2 428.3,285.0 428.0,282.0 C427.7,279.0 427.3,270.5 428.0,268.0 Z" fill="none" stroke="#d94a4a" stroke-width="0.90" />
<path d="M327.0,273.3 C327.7,274.1 330.1,276.4 331.0,278.2 C331.9,279.9 332.7,281.9 332.6,283.8 C332.5,285.7 331.1,288.3 330.2,289.5 C329.3,290.7 327.5,290.8 327.0,291.0 " fill="none" stroke="#d94a4a" stroke-width="0.90" />
<path d="M424.0,316.6 C425.6,314.5 428.0,314.1 430.0,313.5 C432.0,312.9 433.4,312.5 436.0,313.0 C438.6,313.5 443.1,314.4 445.7,316.6 C448.3,318.8 451.0,323.2 451.8,326.2 C452.6,329.2 451.6,332.1 450.6,334.7 C449.6,337.3 447.3,340.6 445.7,342.0 C444.1,343.4 443.0,343.3 441.0,343.1 C439.0,342.9 435.6,341.5 433.6,340.7 C431.6,339.9 430.8,339.5 428.8,338.3 C426.8,337.1 423.0,335.5 421.6,333.5 C420.2,331.5 420.0,329.0 420.4,326.2 C420.8,323.4 422.4,318.7 424.0,316.6 Z" fill="none" stroke="#4d9d4d" stroke-width="0.90" />
<rect x="397.1" y="297.7" width="67.7" height="51.0" fill="none" stroke="#444" stroke-width="0.7"/>
</g>
<text x="328.4" y="259.5" font-size="10.0" text-anchor="start" fill="#0a0a0a" font-weight="bold" >f)</text>
<text x="329.5" y="406.5" font-size="14.8" text-anchor="start" fill="#0a0a0a" font-weight="normal" >AE</text>
<line x1="46.0" y1="225.0" x2="123.9" y2="247.2" stroke="#6a6a6a" stroke-width="0.50" />
<line x1="145.0" y1="225.0" x2="175.0" y2="247.2" stroke="#6a6a6a" stroke-width="0.50" />
<line x1="177.8" y1="228.7" x2="242.3" y2="289.3" stroke="#6a6a6a" stroke-width="0.50" />
<line x1="249.7" y1="228.7" x2="302.8" y2="289.3" stroke="#6a6a6a" stroke-width="0.50" />
<line x1="251.7" y1="228.7" x2="242.3" y2="289.3" stroke="#6a6a6a" stroke-width="0.50" />
<line x1="321.7" y1="228.7" x2="302.8" y2="289.3" stroke="#6a6a6a" stroke-width="0.50" />
<line x1="348.0" y1="229.6" x2="397.1" y2="297.7" stroke="#6a6a6a" stroke-width="0.50" />
<line x1="455.0" y1="229.6" x2="464.8" y2="297.7" stroke="#6a6a6a" stroke-width="0.50" />
<rect x="123.2" y="434.0" width="253.7" height="5.0" fill="url(#cb1)" />
<rect x="121.7" y="461.0" width="257.8" height="5.0" fill="url(#cb2)" />
<text x="144.0" y="448.0" font-size="6.8" text-anchor="middle" fill="#3a3a3a" font-weight="normal" >-0.10</text>
<text x="195.3" y="448.0" font-size="6.8" text-anchor="middle" fill="#3a3a3a" font-weight="normal" >-0.05</text>
<text x="247.0" y="448.0" font-size="6.8" text-anchor="middle" fill="#3a3a3a" font-weight="normal" >0</text>
<text x="298.0" y="448.0" font-size="6.8" text-anchor="middle" fill="#3a3a3a" font-weight="normal" >0.05</text>
<text x="355.3" y="448.0" font-size="6.8" text-anchor="middle" fill="#3a3a3a" font-weight="normal" >0.10</text>
<text x="145.8" y="476.8" font-size="6.8" text-anchor="middle" fill="#3a3a3a" font-weight="normal" >-0.10</text>
<text x="198.0" y="476.8" font-size="6.8" text-anchor="middle" fill="#3a3a3a" font-weight="normal" >-0.05</text>
<text x="248.5" y="476.8" font-size="6.8" text-anchor="middle" fill="#3a3a3a" font-weight="normal" >0</text>
<text x="301.0" y="476.8" font-size="6.8" text-anchor="middle" fill="#3a3a3a" font-weight="normal" >0.05</text>
<text x="356.4" y="476.8" font-size="6.8" text-anchor="middle" fill="#3a3a3a" font-weight="normal" >0.10</text>
<text x="249.2" y="457.2" font-size="6.8" text-anchor="middle" fill="#2a2a2a" font-weight="normal" >ADT MIOST [m]</text>
<text x="247.3" y="486.2" font-size="6.8" text-anchor="middle" fill="#2a2a2a" font-weight="normal" >ADT_swot [m]</text>
<text x="41.3" y="21.9" font-size="6.0" text-anchor="end" fill="#3a3a3a" font-weight="normal" >12 °N</text>
<text x="41.3" y="40.7" font-size="6.0" text-anchor="end" fill="#3a3a3a" font-weight="normal" >11 °N</text>
<text x="41.3" y="60.0" font-size="6.0" text-anchor="end" fill="#3a3a3a" font-weight="normal" >10 °N</text>
<text x="41.3" y="79.1" font-size="6.0" text-anchor="end" fill="#3a3a3a" font-weight="normal" >9 °N</text>
<text x="41.3" y="97.9" font-size="6.0" text-anchor="end" fill="#3a3a3a" font-weight="normal" >8 °N</text>
<text x="41.3" y="117.2" font-size="6.0" text-anchor="end" fill="#3a3a3a" font-weight="normal" >7°N</text>
<text x="41.3" y="128.8" font-size="6.0" text-anchor="end" fill="#3a3a3a" font-weight="normal" >12 °N</text>
<text x="41.3" y="148.6" font-size="6.0" text-anchor="end" fill="#3a3a3a" font-weight="normal" >11 °N</text>
<text x="41.3" y="167.9" font-size="6.0" text-anchor="end" fill="#3a3a3a" font-weight="normal" >10 °N</text>
<text x="41.3" y="187.2" font-size="6.0" text-anchor="end" fill="#3a3a3a" font-weight="normal" >9 °N</text>
<text x="41.3" y="207.1" font-size="6.0" text-anchor="end" fill="#3a3a3a" font-weight="normal" >8 °N</text>
<text x="41.3" y="225.9" font-size="6.0" text-anchor="end" fill="#3a3a3a" font-weight="normal" >7°N</text>
<text x="46.0" y="14.5" font-size="6.0" text-anchor="start" fill="#3a3a3a" font-weight="normal" >J-4</text>
<text x="57.4" y="231.2" font-size="6.0" text-anchor="middle" fill="#3a3a3a" font-weight="normal" >44°W</text>
<text x="81.4" y="231.2" font-size="6.0" text-anchor="middle" fill="#3a3a3a" font-weight="normal" >43°W</text>
<text x="102.6" y="231.2" font-size="6.0" text-anchor="middle" fill="#3a3a3a" font-weight="normal" >42°W</text>
<text x="124.6" y="231.2" font-size="6.0" text-anchor="middle" fill="#3a3a3a" font-weight="normal" >41°W</text>
<text x="144.2" y="231.2" font-size="6.0" text-anchor="middle" fill="#3a3a3a" font-weight="normal" >40°W</text>
<text x="178.5" y="79.0" font-size="6.0" text-anchor="start" fill="#3a3a3a" font-weight="normal" >J-2</text>
<text x="175.0" y="84.2" font-size="6.0" text-anchor="end" fill="#3a3a3a" font-weight="normal" >8 °N</text>
<text x="175.0" y="111.0" font-size="6.0" text-anchor="end" fill="#3a3a3a" font-weight="normal" >6 °N</text>
<text x="175.0" y="138.4" font-size="6.0" text-anchor="end" fill="#3a3a3a" font-weight="normal" >4 °N</text>
<text x="175.0" y="164.8" font-size="6.0" text-anchor="end" fill="#3a3a3a" font-weight="normal" >2 °N</text>
<text x="175.0" y="191.5" font-size="6.0" text-anchor="end" fill="#3a3a3a" font-weight="normal" >0 °</text>
<text x="175.0" y="218.2" font-size="6.0" text-anchor="end" fill="#3a3a3a" font-weight="normal" >2 °S</text>
<text x="179.3" y="237.0" font-size="6.0" text-anchor="middle" fill="#3a3a3a" font-weight="normal" >48°W</text>
<text x="202.0" y="237.0" font-size="6.0" text-anchor="middle" fill="#3a3a3a" font-weight="normal" >46°W</text>
<text x="225.5" y="237.0" font-size="6.0" text-anchor="middle" fill="#3a3a3a" font-weight="normal" >44°W</text>
<text x="255.3" y="237.0" font-size="6.0" text-anchor="middle" fill="#3a3a3a" font-weight="normal" >48°W</text>
<text x="277.4" y="237.0" font-size="6.0" text-anchor="middle" fill="#3a3a3a" font-weight="normal" >46°W</text>
<text x="303.4" y="237.0" font-size="6.0" text-anchor="middle" fill="#3a3a3a" font-weight="normal" >44°W</text>
<text x="349.0" y="66.5" font-size="6.0" text-anchor="start" fill="#3a3a3a" font-weight="normal" >J</text>
<text x="345.0" y="87.6" font-size="6.0" text-anchor="end" fill="#3a3a3a" font-weight="normal" >6 °N</text>
<text x="345.0" y="117.2" font-size="6.0" text-anchor="end" fill="#3a3a3a" font-weight="normal" >4 °N</text>
<text x="345.0" y="146.6" font-size="6.0" text-anchor="end" fill="#3a3a3a" font-weight="normal" >2 °N</text>
<text x="345.0" y="170.2" font-size="6.0" text-anchor="end" fill="#3a3a3a" font-weight="normal" >6 °N</text>
<text x="345.0" y="200.6" font-size="6.0" text-anchor="end" fill="#3a3a3a" font-weight="normal" >4 °N</text>
<text x="345.0" y="230.6" font-size="6.0" text-anchor="end" fill="#3a3a3a" font-weight="normal" >2 °N</text>
<text x="367.2" y="236.8" font-size="6.0" text-anchor="middle" fill="#3a3a3a" font-weight="normal" >46°W</text>
<text x="394.4" y="236.8" font-size="6.0" text-anchor="middle" fill="#3a3a3a" font-weight="normal" >44°W</text>
<text x="422.9" y="236.8" font-size="6.0" text-anchor="middle" fill="#3a3a3a" font-weight="normal" >42° W</text>
<text x="453.0" y="236.8" font-size="6.0" text-anchor="middle" fill="#3a3a3a" font-weight="normal" >40°W</text>
<text x="399.2" y="244.8" font-size="6.0" text-anchor="middle" fill="#3a3a3a" font-weight="normal" >J+1</text>
<text x="423.0" y="244.8" font-size="6.0" text-anchor="middle" fill="#3a3a3a" font-weight="normal" >J</text>
<text x="447.5" y="244.8" font-size="6.0" text-anchor="middle" fill="#3a3a3a" font-weight="normal" >J-1</text>
<text x="139.6" y="243.2" font-size="6.0" text-anchor="middle" fill="#3a3a3a" font-weight="normal" >J</text>
<text x="286.5" y="244.5" font-size="6.0" text-anchor="middle" fill="#3a3a3a" font-weight="normal" >J</text>
<text x="33.0" y="248.9" font-size="6.6" text-anchor="end" fill="#3a3a3a" font-weight="normal" >12 °N</text>
<text x="33.0" y="268.4" font-size="6.6" text-anchor="end" fill="#3a3a3a" font-weight="normal" >10 °N</text>
<text x="33.0" y="288.4" font-size="6.6" text-anchor="end" fill="#3a3a3a" font-weight="normal" >8 °N</text>
<text x="33.0" y="307.9" font-size="6.6" text-anchor="end" fill="#3a3a3a" font-weight="normal" >6 °N</text>
<text x="33.0" y="327.4" font-size="6.6" text-anchor="end" fill="#3a3a3a" font-weight="normal" >4 °N</text>
<text x="33.0" y="347.1" font-size="6.6" text-anchor="end" fill="#3a3a3a" font-weight="normal" >2 °N</text>
<text x="33.0" y="366.6" font-size="6.6" text-anchor="end" fill="#3a3a3a" font-weight="normal" >0 °</text>
<text x="33.0" y="385.8" font-size="6.6" text-anchor="end" fill="#3a3a3a" font-weight="normal" >2 °S</text>
<text x="33.0" y="405.4" font-size="6.6" text-anchor="end" fill="#3a3a3a" font-weight="normal" >4 °S</text>
<text x="39.7" y="417.6" font-size="6.6" text-anchor="middle" fill="#3a3a3a" font-weight="normal" >54°W</text>
<text x="78.9" y="417.6" font-size="6.6" text-anchor="middle" fill="#3a3a3a" font-weight="normal" >50°W</text>
<text x="120.5" y="417.6" font-size="6.6" text-anchor="middle" fill="#3a3a3a" font-weight="normal" >46°W</text>
<text x="158.9" y="417.6" font-size="6.6" text-anchor="middle" fill="#3a3a3a" font-weight="normal" >42°W</text>
<text x="191.0" y="417.6" font-size="6.6" text-anchor="middle" fill="#3a3a3a" font-weight="normal" >54°W</text>
<text x="230.8" y="417.6" font-size="6.6" text-anchor="middle" fill="#3a3a3a" font-weight="normal" >50°W</text>
<text x="272.0" y="417.6" font-size="6.6" text-anchor="middle" fill="#3a3a3a" font-weight="normal" >46°W</text>
<text x="309.8" y="417.6" font-size="6.6" text-anchor="middle" fill="#3a3a3a" font-weight="normal" >42°W</text>
<text x="336.3" y="417.6" font-size="6.6" text-anchor="middle" fill="#3a3a3a" font-weight="normal" >54°W</text>
<text x="374.7" y="417.6" font-size="6.6" text-anchor="middle" fill="#3a3a3a" font-weight="normal" >50°W</text>
<text x="413.3" y="417.6" font-size="6.6" text-anchor="middle" fill="#3a3a3a" font-weight="normal" >46°W</text>
<text x="451.7" y="417.6" font-size="6.6" text-anchor="middle" fill="#3a3a3a" font-weight="normal" >42°W</text>
<rect x="5.5" y="5.5" width="489.0" height="485.0" fill="none" stroke="#8a92ad" stroke-width="1"/>
<line x1="5.5" y1="233.0" x2="5.5" y2="410.0" stroke="#dde0e8" stroke-width="1.10" />
</svg></body></html>
